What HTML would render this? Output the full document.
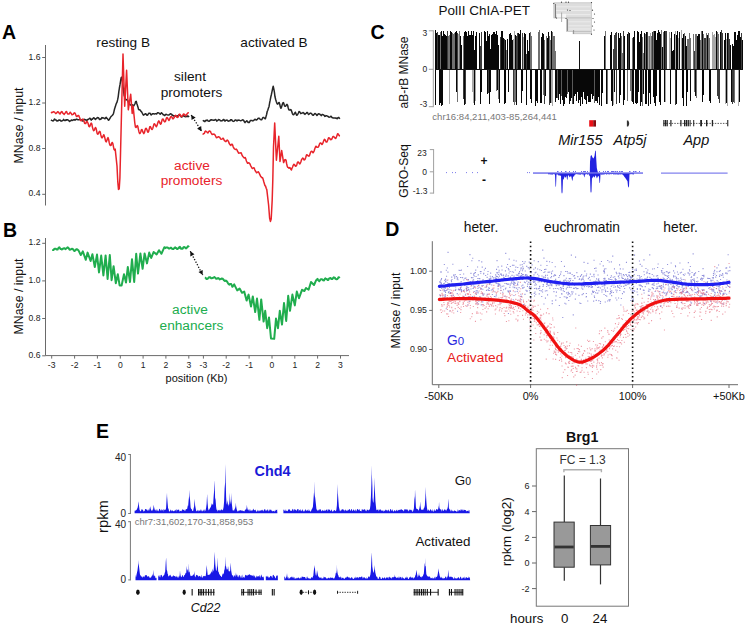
<!DOCTYPE html>
<html><head><meta charset="utf-8"><style>
html,body{margin:0;padding:0;background:#fff;}
svg{display:block;}
text{font-family:"Liberation Sans", sans-serif;}
</style></head><body>
<svg width="750" height="626" viewBox="0 0 750 626">
<rect width="750" height="626" fill="#fff"/>
<text x="2.0" y="39.0" font-size="19.50" fill="#000" text-anchor="start" font-weight="bold" font-style="normal" >A</text>
<line x1="45.5" y1="45.0" x2="45.5" y2="205.5" stroke="#6a6a6a" stroke-width="1.00" />
<line x1="42.2" y1="57.5" x2="45.5" y2="57.5" stroke="#6a6a6a" stroke-width="1.00" />
<text x="40.5" y="59.5" font-size="8.60" fill="#222" text-anchor="end" font-weight="normal" font-style="normal" >1.6</text>
<line x1="42.2" y1="103.0" x2="45.5" y2="103.0" stroke="#6a6a6a" stroke-width="1.00" />
<text x="40.5" y="105.0" font-size="8.60" fill="#222" text-anchor="end" font-weight="normal" font-style="normal" >1.2</text>
<line x1="42.2" y1="148.5" x2="45.5" y2="148.5" stroke="#6a6a6a" stroke-width="1.00" />
<text x="40.5" y="150.5" font-size="8.60" fill="#222" text-anchor="end" font-weight="normal" font-style="normal" >0.8</text>
<line x1="42.2" y1="194.3" x2="45.5" y2="194.3" stroke="#6a6a6a" stroke-width="1.00" />
<text x="40.5" y="196.3" font-size="8.60" fill="#222" text-anchor="end" font-weight="normal" font-style="normal" >0.4</text>
<text x="0" y="0" font-size="12.30" fill="#111" text-anchor="middle" font-weight="normal" transform="translate(23.0,125.5) rotate(-90)">MNase / input</text>
<text x="123.2" y="47.2" font-size="13.60" fill="#111" text-anchor="middle" font-weight="normal" font-style="normal" >resting B</text>
<text x="274.0" y="47.2" font-size="13.60" fill="#111" text-anchor="middle" font-weight="normal" font-style="normal" >activated B</text>
<text x="190.0" y="81.4" font-size="13.70" fill="#111" text-anchor="middle" font-weight="normal" font-style="normal" >silent</text>
<text x="191.5" y="97.4" font-size="13.70" fill="#111" text-anchor="middle" font-weight="normal" font-style="normal" >promoters</text>
<text x="192.0" y="169.6" font-size="13.70" fill="#e8242b" text-anchor="middle" font-weight="normal" font-style="normal" >active</text>
<text x="191.5" y="185.2" font-size="13.70" fill="#e8242b" text-anchor="middle" font-weight="normal" font-style="normal" >promoters</text>
<path d="M51.0,119.8 L51.6,120.3 L52.2,120.6 L52.8,120.9 L53.4,120.8 L54.0,119.8 L54.6,119.0 L55.2,119.9 L55.8,119.9 L56.4,120.1 L57.0,121.1 L57.6,120.8 L58.2,120.7 L58.8,120.1 L59.4,120.2 L60.0,119.9 L60.6,120.6 L61.2,121.2 L61.8,120.9 L62.4,120.7 L63.0,120.3 L63.6,119.4 L64.2,120.1 L64.8,120.6 L65.4,120.5 L66.0,119.8 L66.6,120.2 L67.2,119.7 L67.8,119.8 L68.4,120.4 L69.0,120.8 L69.6,121.4 L70.2,120.9 L70.8,120.7 L71.4,119.9 L72.0,120.1 L72.6,120.5 L73.2,120.0 L73.8,119.8 L74.4,119.6 L75.0,120.1 L75.6,119.5 L76.2,119.4 L76.8,119.1 L77.4,119.6 L78.0,119.8 L78.6,119.8 L79.2,119.7 L79.8,119.4 L80.4,119.6 L81.0,119.6 L81.6,120.2 L82.2,120.7 L82.8,121.1 L83.4,120.6 L84.0,119.3 L84.6,119.4 L85.2,119.7 L85.8,120.1 L86.4,120.2 L87.0,120.4 L87.6,119.5 L88.2,119.5 L88.8,119.0 L89.4,118.5 L90.0,118.2 L90.6,119.3 L91.2,120.1 L91.8,119.1 L92.4,119.2 L93.0,118.5 L93.6,117.8 L94.2,117.9 L94.8,118.8 L95.4,119.5 L96.0,118.7 L96.6,118.6 L97.2,117.5 L97.8,117.8 L98.4,117.7 L99.0,118.7 L99.6,119.5 L100.2,119.2 L100.8,119.4 L101.4,118.4 L102.0,117.5 L102.6,117.9 L103.2,117.8 L103.8,118.1 L104.4,118.5 L105.0,118.7 L105.6,117.9 L106.2,117.3 L106.8,118.3 L107.4,118.5 L108.0,119.6 L108.6,120.2 L109.2,119.6 L109.8,118.7 L110.4,117.4 L111.0,116.6 L111.6,116.0 L112.2,115.5 L112.8,114.8 L113.4,113.9 L114.0,111.3 L114.6,108.8 L115.2,107.1 L115.8,105.0 L116.4,103.3 L117.0,102.2 L117.6,99.9 L118.2,96.8 L118.8,91.9 L119.4,88.0 L120.0,84.7 L120.6,80.8 L121.2,77.7 L121.8,77.2 L122.4,81.3 L123.0,86.4 L123.6,91.4 L124.2,95.6 L124.8,96.8 L125.4,98.5 L126.0,99.9 L126.6,99.8 L127.2,99.7 L127.8,100.7 L128.4,102.2 L129.0,102.9 L129.6,103.9 L130.2,104.9 L130.8,105.1 L131.4,104.8 L132.0,104.7 L132.6,104.9 L133.2,105.8 L133.8,105.8 L134.4,104.7 L135.0,103.8 L135.6,101.6 L136.2,101.3 L136.8,103.5 L137.4,105.3 L138.0,107.2 L138.6,109.5 L139.2,109.7 L139.8,109.8 L140.4,110.3 L141.0,111.4 L141.6,111.9 L142.2,113.0 L142.8,114.1 L143.4,115.1 L144.0,114.6 L144.6,114.6 L145.2,113.8 L145.8,113.8 L146.4,114.5 L147.0,115.3 L147.6,115.0 L148.2,114.1 L148.8,113.3 L149.4,113.3 L150.0,113.2 L150.6,114.2 L151.2,114.9 L151.8,114.3 L152.4,113.8 L153.0,113.8 L153.6,113.7 L154.2,114.0 L154.8,113.9 L155.4,113.7 L156.0,113.7 L156.6,114.0 L157.2,113.2 L157.8,112.7 L158.4,112.8 L159.0,113.1 L159.6,113.5 L160.2,114.3 L160.8,113.6 L161.4,112.7 L162.0,113.3 L162.6,113.9 L163.2,114.7 L163.8,114.7 L164.4,115.4 L165.0,115.5 L165.6,114.4 L166.2,114.3 L166.8,114.6 L167.4,114.9 L168.0,115.1 L168.6,115.1 L169.2,114.9 L169.8,114.3 L170.4,113.7 L171.0,114.1 L171.6,114.2 L172.2,115.3 L172.8,115.1 L173.4,115.9 L174.0,115.8 L174.6,115.9 L175.2,116.0 L175.8,116.3 L176.4,116.4 L177.0,115.9 L177.6,116.4 L178.2,115.6 L178.8,115.1 L179.4,115.3 L180.0,115.5 L180.6,115.8 L181.2,116.9 L181.8,117.0 L182.4,116.4 L183.0,115.7 L183.6,116.0 L184.2,115.9 L184.8,116.6 L185.4,116.7 L186.0,116.5 L186.6,116.6 L187.2,116.7 L187.8,115.8 L188.4,116.3 L189.0,117.1" fill="none" stroke="#262626" stroke-width="1.5" stroke-linejoin="round"/>
<path d="M51.0,112.2 L51.6,112.7 L52.2,112.5 L52.8,112.1 L53.4,111.7 L54.0,112.1 L54.6,112.1 L55.2,112.9 L55.8,113.6 L56.4,113.2 L57.0,112.7 L57.6,111.7 L58.2,111.9 L58.8,112.5 L59.4,113.6 L60.0,114.0 L60.6,113.0 L61.2,112.0 L61.8,111.5 L62.4,112.3 L63.0,113.4 L63.6,113.8 L64.2,114.4 L64.8,113.4 L65.4,112.7 L66.0,111.7 L66.6,111.6 L67.2,113.2 L67.8,113.9 L68.4,114.0 L69.0,114.0 L69.6,113.2 L70.2,112.2 L70.8,112.9 L71.4,113.7 L72.0,114.8 L72.6,114.6 L73.2,114.4 L73.8,113.3 L74.4,112.8 L75.0,113.2 L75.6,114.4 L76.2,116.0 L76.8,116.6 L77.4,116.2 L78.0,115.4 L78.6,115.4 L79.2,116.7 L79.8,118.1 L80.4,120.2 L81.0,120.8 L81.6,120.3 L82.2,119.7 L82.8,119.1 L83.4,119.5 L84.0,121.3 L84.6,123.3 L85.2,123.6 L85.8,123.6 L86.4,121.7 L87.0,121.3 L87.6,122.3 L88.2,123.7 L88.8,126.1 L89.4,126.7 L90.0,126.0 L90.6,124.1 L91.2,123.1 L91.8,124.0 L92.4,127.1 L93.0,129.3 L93.6,130.7 L94.2,130.3 L94.8,128.8 L95.4,127.5 L96.0,128.3 L96.6,130.8 L97.2,133.7 L97.8,134.2 L98.4,133.7 L99.0,132.1 L99.6,131.4 L100.2,131.8 L100.8,134.9 L101.4,137.0 L102.0,137.9 L102.6,137.3 L103.2,135.9 L103.8,134.7 L104.4,136.1 L105.0,138.6 L105.6,141.0 L106.2,141.9 L106.8,140.7 L107.4,138.6 L108.0,137.6 L108.6,139.2 L109.2,142.5 L109.8,144.8 L110.4,145.6 L111.0,145.4 L111.6,143.5 L112.2,142.5 L112.8,143.4 L113.4,146.3 L114.0,149.3 L114.6,150.2 L115.2,149.1 L117.0,166.0 L117.8,182.0 L118.5,189.5 L119.2,189.0 L119.9,178.0 L120.6,150.0 L122.0,93.0 L123.0,54.1 L124.7,106.2 L126.6,70.2 L128.3,109.8 L130.7,94.2 L132.2,113.4 L133.1,106.2 L134.8,123.0 L135.4,126.9 L136.0,127.5 L136.6,126.5 L137.2,125.6 L137.8,126.3 L138.4,129.3 L139.0,131.9 L139.6,133.6 L140.2,133.1 L140.8,131.7 L141.4,129.7 L142.0,129.6 L142.6,131.1 L143.2,132.7 L143.8,133.6 L144.4,132.7 L145.0,130.2 L145.6,128.4 L146.2,128.3 L146.8,129.3 L147.4,131.4 L148.0,132.3 L148.6,131.5 L149.2,129.1 L149.8,126.8 L150.4,126.6 L151.0,127.9 L151.6,129.3 L152.2,129.5 L152.8,128.2 L153.4,126.1 L154.0,123.9 L154.6,123.8 L155.2,124.8 L155.8,126.0 L156.4,126.7 L157.0,125.4 L157.6,123.5 L158.2,121.7 L158.8,120.9 L159.4,121.9 L160.0,123.4 L160.6,124.2 L161.2,123.5 L161.8,120.9 L162.4,119.1 L163.0,118.9 L163.6,119.9 L164.2,121.5 L164.8,121.9 L165.4,121.5 L166.0,119.6 L166.6,117.7 L167.2,117.6 L167.8,118.5 L168.4,119.7 L169.0,120.4 L169.6,119.4 L170.2,117.7 L170.8,116.7 L171.4,116.6 L172.0,117.1 L172.6,118.7 L173.2,118.8 L173.8,118.1 L174.4,117.1 L175.0,115.8 L175.6,115.3 L176.2,116.1 L176.8,117.1 L177.4,117.4 L178.0,117.3 L178.6,115.4 L179.2,114.3 L179.8,114.3 L180.4,115.0 L181.0,116.4 L181.6,116.5 L182.2,116.3 L182.8,115.2 L183.4,114.1 L184.0,114.1 L184.6,114.4 L185.2,115.4 L185.8,115.8 L186.4,115.1 L187.0,114.0 L187.6,113.2 L188.2,112.8 L188.8,113.0" fill="none" stroke="#e8242b" stroke-width="1.5" stroke-linejoin="round"/>
<path d="M203.0,120.1 L203.6,121.0 L204.2,120.9 L204.8,121.6 L205.4,120.9 L206.0,120.3 L206.6,120.6 L207.2,120.0 L207.8,120.6 L208.4,121.1 L209.0,121.3 L209.6,121.0 L210.2,120.1 L210.8,120.2 L211.4,119.7 L212.0,120.0 L212.6,120.1 L213.2,120.3 L213.8,120.1 L214.4,120.2 L215.0,119.8 L215.6,119.5 L216.2,120.0 L216.8,121.2 L217.4,120.4 L218.0,120.2 L218.6,119.6 L219.2,119.7 L219.8,119.9 L220.4,120.7 L221.0,120.9 L221.6,120.8 L222.2,120.7 L222.8,120.1 L223.4,119.6 L224.0,119.6 L224.6,120.9 L225.2,120.9 L225.8,120.2 L226.4,120.3 L227.0,120.0 L227.6,120.4 L228.2,121.2 L228.8,121.1 L229.4,120.8 L230.0,120.8 L230.6,119.7 L231.2,120.0 L231.8,119.8 L232.4,120.8 L233.0,121.2 L233.6,121.4 L234.2,121.1 L234.8,120.4 L235.4,119.9 L236.0,120.0 L236.6,120.7 L237.2,120.9 L237.8,120.1 L238.4,120.3 L239.0,120.0 L239.6,120.4 L240.2,120.6 L240.8,120.8 L241.4,120.4 L242.0,120.2 L242.6,119.8 L243.2,120.0 L243.8,120.6 L244.4,121.8 L245.0,122.6 L245.6,121.8 L246.2,121.3 L246.8,120.7 L247.4,121.3 L248.0,122.5 L248.6,122.3 L249.2,122.6 L249.8,121.7 L250.4,120.4 L251.0,120.6 L251.6,120.5 L252.2,120.6 L252.8,121.0 L253.4,120.6 L254.0,120.1 L254.6,119.5 L255.2,119.3 L255.8,119.8 L256.4,120.0 L257.0,119.7 L257.6,119.1 L258.2,118.3 L258.8,118.2 L259.4,118.3 L260.0,119.2 L260.6,119.6 L261.2,119.8 L261.8,119.8 L262.4,118.3 L263.0,117.4 L263.6,117.4 L264.2,118.0 L264.8,118.6 L265.4,118.8 L266.0,116.6 L266.6,114.5 L267.2,111.5 L267.8,110.2 L268.4,108.1 L269.0,106.7 L269.6,103.0 L270.2,100.2 L270.8,97.0 L271.4,94.5 L272.0,91.7 L272.6,88.6 L273.2,86.2 L273.8,88.8 L274.4,92.2 L275.0,96.8 L275.6,99.2 L276.2,101.3 L276.8,103.1 L277.4,104.1 L278.0,103.8 L278.6,102.7 L279.2,102.5 L279.8,104.5 L280.4,107.1 L281.0,108.3 L281.6,106.9 L282.2,104.7 L282.8,102.9 L283.4,102.6 L284.0,104.1 L284.6,106.1 L285.2,106.3 L285.8,106.0 L286.4,104.8 L287.0,104.4 L287.6,105.2 L288.2,107.7 L288.8,109.8 L289.4,110.0 L290.0,110.1 L290.6,109.6 L291.2,109.9 L291.8,111.8 L292.4,113.6 L293.0,114.6 L293.6,114.7 L294.2,114.0 L294.8,113.0 L295.4,112.2 L296.0,113.7 L296.6,115.2 L297.2,115.1 L297.8,114.1 L298.4,113.0 L299.0,111.6 L299.6,111.7 L300.2,112.6 L300.8,113.6 L301.4,113.2 L302.0,113.2 L302.6,112.8 L303.2,112.5 L303.8,113.0 L304.4,114.0 L305.0,114.4 L305.6,113.6 L306.2,113.3 L306.8,112.4 L307.4,112.4 L308.0,113.6 L308.6,114.5 L309.2,114.1 L309.8,113.4 L310.4,113.1 L311.0,113.3 L311.6,113.7 L312.2,114.7 L312.8,115.2 L313.4,115.3 L314.0,114.6 L314.6,113.7 L315.2,113.5 L315.8,114.0 L316.4,114.7 L317.0,115.5 L317.6,114.8 L318.2,113.8 L318.8,114.0 L319.4,113.9 L320.0,114.5 L320.6,114.8 L321.2,115.6 L321.8,115.0 L322.4,114.4 L323.0,114.7 L323.6,115.0 L324.2,115.4 L324.8,116.4 L325.4,116.2 L326.0,115.6 L326.6,115.8 L327.2,116.0 L327.8,116.5 L328.4,116.6 L329.0,117.3 L329.6,117.1 L330.2,116.9 L330.8,116.2 L331.4,116.7 L332.0,117.5 L332.6,117.7 L333.2,118.0 L333.8,117.9 L334.4,117.9 L335.0,117.9 L335.6,118.2 L336.2,118.0 L336.8,118.6 L337.4,118.7 L338.0,117.7 L338.6,117.4 L339.2,118.0 L339.8,118.9" fill="none" stroke="#262626" stroke-width="1.5" stroke-linejoin="round"/>
<path d="M202.6,133.7 L203.2,134.1 L203.8,133.6 L204.4,133.3 L205.0,131.5 L205.6,131.0 L206.2,131.6 L206.8,131.8 L207.4,132.7 L208.0,133.0 L208.6,131.7 L209.2,131.1 L209.8,131.1 L210.4,131.4 L211.0,132.8 L211.6,133.7 L212.2,134.5 L212.8,134.3 L213.4,134.1 L214.0,134.2 L214.6,134.3 L215.2,135.4 L215.8,136.5 L216.4,137.8 L217.0,137.6 L217.6,137.1 L218.2,136.8 L218.8,136.8 L219.4,137.1 L220.0,137.8 L220.6,138.9 L221.2,139.3 L221.8,139.1 L222.4,138.9 L223.0,138.1 L223.6,138.9 L224.2,140.3 L224.8,140.8 L225.4,141.5 L226.0,141.6 L226.6,140.5 L227.2,140.0 L227.8,140.6 L228.4,141.2 L229.0,143.0 L229.6,144.0 L230.2,144.9 L230.8,145.4 L231.4,144.5 L232.0,144.1 L232.6,144.9 L233.2,146.8 L233.8,148.0 L234.4,148.8 L235.0,149.2 L235.6,149.5 L236.2,149.1 L236.8,149.5 L237.4,151.0 L238.0,151.9 L238.6,153.2 L239.2,153.1 L239.8,153.0 L240.4,153.1 L241.0,152.7 L241.6,153.9 L242.2,155.5 L242.8,156.4 L243.4,157.1 L244.0,157.8 L244.6,158.1 L245.2,157.6 L245.8,158.9 L246.4,161.0 L247.0,162.2 L247.6,163.3 L248.2,163.0 L248.8,162.8 L249.4,163.2 L250.0,164.0 L250.6,165.6 L251.2,166.6 L251.8,167.7 L252.4,168.5 L253.0,168.2 L253.6,167.8 L254.2,168.0 L254.8,169.7 L255.4,171.1 L256.0,171.8 L256.6,172.8 L257.2,172.4 L257.8,172.0 L258.4,171.8 L259.0,172.8 L259.6,174.2 L260.2,175.4 L260.8,176.7 L261.4,177.0 L262.0,177.8 L262.6,177.7 L263.2,179.5 L263.8,181.8 L264.4,183.8 L265.0,185.7 L265.6,186.2 L266.2,188.2 L266.8,189.6 L268.6,205.0 L269.6,218.0 L270.4,221.4 L271.2,219.0 L272.2,200.0 L272.8,180.0 L273.5,147.0 L274.7,123.0 L276.4,160.2 L278.8,136.2 L280.0,161.4 L281.7,150.6 L283.6,162.6 L284.2,161.2 L284.8,159.8 L285.4,159.6 L286.0,160.0 L286.6,163.5 L287.2,166.2 L287.8,167.4 L288.4,167.6 L289.0,168.2 L289.6,167.6 L290.2,167.9 L290.8,169.3 L291.4,169.9 L292.0,168.3 L292.6,167.0 L293.2,165.3 L293.8,164.3 L294.4,164.4 L295.0,165.6 L295.6,166.2 L296.2,166.0 L296.8,164.8 L297.4,162.6 L298.0,161.9 L298.6,162.3 L299.2,163.4 L299.8,163.9 L300.4,163.1 L301.0,161.5 L301.6,159.6 L302.2,158.8 L302.8,158.1 L303.4,158.6 L304.0,159.9 L304.6,159.8 L305.2,159.0 L305.8,157.3 L306.4,155.2 L307.0,154.7 L307.6,155.4 L308.2,155.8 L308.8,156.2 L309.4,155.8 L310.0,154.0 L310.6,152.3 L311.2,151.5 L311.8,151.3 L312.4,151.9 L313.0,152.8 L313.6,152.0 L314.2,150.8 L314.8,148.7 L315.4,147.2 L316.0,146.2 L316.6,147.0 L317.2,147.3 L317.8,147.3 L318.4,146.9 L319.0,145.7 L319.6,143.8 L320.2,142.9 L320.8,142.9 L321.4,143.7 L322.0,144.5 L322.6,143.8 L323.2,142.2 L323.8,140.6 L324.4,139.3 L325.0,139.6 L325.6,141.0 L326.2,142.1 L326.8,142.1 L327.4,140.9 L328.0,139.3 L328.6,137.7 L329.2,137.9 L329.8,138.5 L330.4,139.5 L331.0,139.7 L331.6,139.3 L332.2,138.1 L332.8,136.7 L333.4,136.4 L334.0,136.9 L334.6,137.6 L335.2,138.3 L335.8,138.4 L336.4,137.0 L337.0,135.4 L337.6,133.8 L338.2,134.0 L338.8,135.0 L339.4,135.8 L340.0,135.9" fill="none" stroke="#e8242b" stroke-width="1.5" stroke-linejoin="round"/>
<line x1="191.2" y1="115.0" x2="201.6" y2="131.2" stroke="#111" stroke-width="1.3" stroke-dasharray="1.3,1.6"/>
<path d="M191.2,115.0 L191.6,120.1 L195.7,117.5 Z" fill="#111"/>
<path d="M201.6,131.2 L201.2,126.1 L197.1,128.7 Z" fill="#111"/>
<text x="3.0" y="237.3" font-size="19.50" fill="#000" text-anchor="start" font-weight="bold" font-style="normal" >B</text>
<line x1="45.5" y1="238.0" x2="45.5" y2="355.6" stroke="#6a6a6a" stroke-width="1.00" />
<line x1="45.5" y1="355.6" x2="349.0" y2="355.6" stroke="#6a6a6a" stroke-width="1.00" />
<line x1="42.2" y1="243.3" x2="45.5" y2="243.3" stroke="#6a6a6a" stroke-width="1.00" />
<text x="40.5" y="245.3" font-size="8.60" fill="#222" text-anchor="end" font-weight="normal" font-style="normal" >1.2</text>
<line x1="42.2" y1="280.9" x2="45.5" y2="280.9" stroke="#6a6a6a" stroke-width="1.00" />
<text x="40.5" y="282.9" font-size="8.60" fill="#222" text-anchor="end" font-weight="normal" font-style="normal" >1.0</text>
<line x1="42.2" y1="318.5" x2="45.5" y2="318.5" stroke="#6a6a6a" stroke-width="1.00" />
<text x="40.5" y="320.5" font-size="8.60" fill="#222" text-anchor="end" font-weight="normal" font-style="normal" >0.8</text>
<line x1="42.2" y1="355.8" x2="45.5" y2="355.8" stroke="#6a6a6a" stroke-width="1.00" />
<text x="40.5" y="357.8" font-size="8.60" fill="#222" text-anchor="end" font-weight="normal" font-style="normal" >0.6</text>
<text x="0" y="0" font-size="12.30" fill="#111" text-anchor="middle" font-weight="normal" transform="translate(23.0,296.5) rotate(-90)">MNase / input</text>
<line x1="51.7" y1="355.6" x2="51.7" y2="358.6" stroke="#6a6a6a" stroke-width="1.00" />
<text x="51.7" y="368.2" font-size="8.60" fill="#222" text-anchor="middle" font-weight="normal" font-style="normal" >-3</text>
<line x1="74.6" y1="355.6" x2="74.6" y2="358.6" stroke="#6a6a6a" stroke-width="1.00" />
<text x="74.6" y="368.2" font-size="8.60" fill="#222" text-anchor="middle" font-weight="normal" font-style="normal" >-2</text>
<line x1="97.4" y1="355.6" x2="97.4" y2="358.6" stroke="#6a6a6a" stroke-width="1.00" />
<text x="97.4" y="368.2" font-size="8.60" fill="#222" text-anchor="middle" font-weight="normal" font-style="normal" >-1</text>
<line x1="120.3" y1="355.6" x2="120.3" y2="358.6" stroke="#6a6a6a" stroke-width="1.00" />
<text x="120.3" y="368.2" font-size="8.60" fill="#222" text-anchor="middle" font-weight="normal" font-style="normal" >0</text>
<line x1="143.1" y1="355.6" x2="143.1" y2="358.6" stroke="#6a6a6a" stroke-width="1.00" />
<text x="143.1" y="368.2" font-size="8.60" fill="#222" text-anchor="middle" font-weight="normal" font-style="normal" >1</text>
<line x1="165.9" y1="355.6" x2="165.9" y2="358.6" stroke="#6a6a6a" stroke-width="1.00" />
<text x="165.9" y="368.2" font-size="8.60" fill="#222" text-anchor="middle" font-weight="normal" font-style="normal" >2</text>
<line x1="188.8" y1="355.6" x2="188.8" y2="358.6" stroke="#6a6a6a" stroke-width="1.00" />
<text x="188.8" y="368.2" font-size="8.60" fill="#222" text-anchor="middle" font-weight="normal" font-style="normal" >3</text>
<line x1="203.4" y1="355.6" x2="203.4" y2="358.6" stroke="#6a6a6a" stroke-width="1.00" />
<text x="203.4" y="368.2" font-size="8.60" fill="#222" text-anchor="middle" font-weight="normal" font-style="normal" >-3</text>
<line x1="226.2" y1="355.6" x2="226.2" y2="358.6" stroke="#6a6a6a" stroke-width="1.00" />
<text x="226.2" y="368.2" font-size="8.60" fill="#222" text-anchor="middle" font-weight="normal" font-style="normal" >-2</text>
<line x1="249.1" y1="355.6" x2="249.1" y2="358.6" stroke="#6a6a6a" stroke-width="1.00" />
<text x="249.1" y="368.2" font-size="8.60" fill="#222" text-anchor="middle" font-weight="normal" font-style="normal" >-1</text>
<line x1="272.0" y1="355.6" x2="272.0" y2="358.6" stroke="#6a6a6a" stroke-width="1.00" />
<text x="272.0" y="368.2" font-size="8.60" fill="#222" text-anchor="middle" font-weight="normal" font-style="normal" >0</text>
<line x1="294.8" y1="355.6" x2="294.8" y2="358.6" stroke="#6a6a6a" stroke-width="1.00" />
<text x="294.8" y="368.2" font-size="8.60" fill="#222" text-anchor="middle" font-weight="normal" font-style="normal" >1</text>
<line x1="317.6" y1="355.6" x2="317.6" y2="358.6" stroke="#6a6a6a" stroke-width="1.00" />
<text x="317.6" y="368.2" font-size="8.60" fill="#222" text-anchor="middle" font-weight="normal" font-style="normal" >2</text>
<line x1="340.5" y1="355.6" x2="340.5" y2="358.6" stroke="#6a6a6a" stroke-width="1.00" />
<text x="340.5" y="368.2" font-size="8.60" fill="#222" text-anchor="middle" font-weight="normal" font-style="normal" >3</text>
<text x="196.5" y="382.0" font-size="11.00" fill="#111" text-anchor="middle" font-weight="normal" font-style="normal" >position (Kb)</text>
<text x="190.0" y="313.6" font-size="13.70" fill="#20ad4e" text-anchor="middle" font-weight="normal" font-style="normal" >active</text>
<text x="191.5" y="330.0" font-size="13.70" fill="#20ad4e" text-anchor="middle" font-weight="normal" font-style="normal" >enhancers</text>
<path d="M52.2,250.0 L52.8,250.1 L53.4,250.1 L54.0,249.3 L54.6,248.7 L55.2,248.7 L55.8,248.7 L56.4,249.3 L57.0,249.6 L57.6,249.6 L58.2,248.4 L58.8,247.7 L59.4,247.3 L60.0,248.2 L60.6,249.1 L61.2,248.9 L61.8,249.4 L62.4,249.2 L63.0,248.6 L63.6,248.5 L64.2,248.3 L64.8,248.5 L65.4,249.1 L66.0,248.7 L66.6,248.2 L67.2,247.7 L67.8,247.3 L68.4,248.0 L69.0,248.7 L69.6,249.7 L70.2,249.7 L70.8,249.4 L71.4,248.9 L72.0,248.8 L72.6,249.0 L73.2,249.3 L73.8,250.5 L74.4,251.0 L75.0,250.7 L75.6,250.1 L76.2,249.3 L76.8,249.2 L77.4,249.6 L78.6,250.6 L80.8,255.0 L82.8,251.4 L85.8,259.8 L87.6,252.6 L90.6,261.0 L92.4,254.2 L94.8,267.0 L97.0,254.6 L99.0,272.4 L101.2,255.6 L103.4,275.4 L105.6,255.4 L107.6,279.0 L109.8,255.0 L111.6,280.2 L113.6,266.2 L115.8,283.2 L117.8,274.2 L119.6,285.4 L121.6,285.6 L124.0,274.2 L126.0,282.6 L127.8,267.0 L130.0,282.0 L132.0,259.2 L134.2,282.0 L136.2,253.8 L138.0,273.6 L140.4,253.4 L142.6,268.8 L144.6,253.4 L147.0,263.4 L149.2,252.6 L151.2,258.0 L153.6,252.0 L156.6,254.4 L159.0,250.2 L161.4,253.8 L164.4,247.2 L165.5,248.1 L166.1,247.6 L166.7,247.6 L167.3,247.5 L167.9,247.7 L168.5,248.4 L169.1,248.4 L169.7,248.4 L170.3,248.0 L170.9,247.7 L171.5,248.0 L172.1,248.8 L172.7,248.9 L173.3,249.0 L173.9,248.3 L174.5,248.2 L175.1,247.3 L175.7,247.9 L176.3,248.0 L176.9,249.0 L177.5,248.9 L178.1,248.5 L178.7,248.2 L179.3,247.1 L179.9,246.8 L180.5,248.1 L181.1,248.7 L181.7,248.5 L182.3,248.8 L182.9,248.4 L183.5,247.2 L184.1,247.1 L184.7,247.2 L185.3,247.8 L185.9,248.4 L186.5,247.9 L187.1,247.6 L187.7,246.5 L188.3,246.2 L188.9,247.2" fill="none" stroke="#20ad4e" stroke-width="2" stroke-linejoin="round"/>
<path d="M204.8,277.7 L205.4,277.8 L206.0,278.3 L206.6,279.1 L207.2,279.0 L207.8,278.6 L208.4,277.9 L209.0,277.2 L209.6,277.4 L210.2,277.2 L210.8,278.0 L211.4,278.3 L212.0,278.2 L212.6,277.9 L213.2,277.8 L213.8,277.5 L214.4,277.1 L215.0,277.6 L215.6,278.0 L216.2,278.8 L216.8,278.8 L217.4,278.4 L218.0,278.1 L218.6,278.2 L219.2,278.9 L219.8,279.4 L220.4,279.1 L221.0,279.1 L221.6,278.5 L222.2,278.6 L222.8,278.8 L223.4,279.5 L224.0,280.3 L224.6,280.9 L225.2,280.9 L225.8,280.5 L226.4,280.9 L227.0,281.5 L227.6,282.6 L228.2,283.6 L228.8,284.2 L229.4,284.6 L230.0,283.9 L230.6,284.0 L231.2,284.1 L232.4,286.8 L234.2,284.4 L237.2,290.4 L239.6,288.6 L242.0,292.8 L244.2,291.6 L246.6,300.6 L248.6,294.6 L251.0,306.6 L252.8,296.4 L255.2,312.0 L257.0,298.6 L259.4,319.8 L261.2,299.4 L263.6,321.6 L265.2,310.8 L267.2,328.2 L269.0,317.4 L271.0,338.5 L274.2,338.8 L276.0,318.6 L278.0,328.2 L279.8,310.8 L282.0,324.6 L284.0,303.0 L286.2,321.0 L288.2,295.8 L290.0,310.8 L292.4,294.6 L294.8,305.4 L296.8,291.6 L299.0,298.2 L302.0,289.8 L304.4,291.0 L306.0,288.0 L308.6,289.8 L311.0,282.0 L314.0,285.0 L316.2,280.2 L317.5,278.9 L318.1,279.8 L318.7,280.6 L319.3,281.2 L319.9,280.4 L320.5,279.4 L321.1,279.2 L321.7,279.2 L322.3,279.4 L322.9,280.2 L323.5,280.4 L324.1,280.4 L324.7,279.2 L325.3,278.4 L325.9,278.8 L326.5,278.9 L327.1,279.3 L327.7,280.1 L328.3,280.0 L328.9,278.8 L329.5,278.3 L330.1,278.2 L330.7,278.0 L331.3,278.9 L331.9,279.0 L332.5,278.9 L333.1,278.0 L333.7,277.3 L334.3,277.7 L334.9,277.8 L335.5,278.9 L336.1,279.2 L336.7,279.2 L337.3,279.0 L337.9,278.3 L338.5,277.2 L339.1,277.5 L339.7,278.2" fill="none" stroke="#20ad4e" stroke-width="2" stroke-linejoin="round"/>
<line x1="190.3" y1="251.3" x2="202.7" y2="275.0" stroke="#111" stroke-width="1.3" stroke-dasharray="1.3,1.6"/>
<path d="M190.3,251.3 L190.3,256.4 L194.5,254.2 Z" fill="#111"/>
<path d="M202.7,275.0 L202.7,269.9 L198.5,272.1 Z" fill="#111"/>
<text x="370.5" y="38.5" font-size="19.50" fill="#000" text-anchor="start" font-weight="bold" font-style="normal" >C</text>
<text x="484.2" y="14.8" font-size="13.50" fill="#111" text-anchor="middle" font-weight="normal" font-style="normal" >PolII ChIA-PET</text>
<g stroke="#b8b8b8" stroke-width="0.6" fill="#dddddd">
<rect x="553.8" y="2.8" width="37.6" height="15.2"/>
<rect x="566.6" y="18" width="24.8" height="13.6"/>
<rect x="573" y="31.6" width="18.4" height="2.2"/>
</g>
<line x1="556.0" y1="6.8" x2="590.5" y2="6.8" stroke="#ececec" stroke-width="1.00" />
<line x1="556.0" y1="10.5" x2="590.5" y2="10.5" stroke="#ececec" stroke-width="1.00" />
<line x1="556.0" y1="14.6" x2="590.5" y2="14.6" stroke="#ececec" stroke-width="1.00" />
<line x1="568.5" y1="21.8" x2="590.5" y2="21.8" stroke="#ececec" stroke-width="1.00" />
<line x1="568.5" y1="25.8" x2="590.5" y2="25.8" stroke="#ececec" stroke-width="1.00" />
<line x1="568.5" y1="29.0" x2="590.5" y2="29.0" stroke="#ececec" stroke-width="1.00" />
<rect x="557" y="13.8" width="9" height="3.6" fill="#f6f6f6"/>
<line x1="555.4" y1="4.0" x2="555.4" y2="18.0" stroke="#666" stroke-width="0.90" />
<line x1="567.4" y1="19.0" x2="567.4" y2="31.0" stroke="#777" stroke-width="0.90" />
<line x1="561.6" y1="12.5" x2="561.6" y2="22.0" stroke="#999" stroke-width="0.80" />
<line x1="573.6" y1="30.0" x2="573.6" y2="34.0" stroke="#888" stroke-width="0.80" />
<circle cx="553.8" cy="3.5" r="0.6" fill="#333"/>
<circle cx="561.5" cy="2.2" r="0.6" fill="#333"/>
<circle cx="566.0" cy="2.2" r="0.6" fill="#333"/>
<circle cx="568.5" cy="2.2" r="0.6" fill="#333"/>
<circle cx="591.5" cy="2.6" r="0.6" fill="#333"/>
<circle cx="592.5" cy="10.2" r="0.6" fill="#333"/>
<circle cx="593.0" cy="18.5" r="0.6" fill="#333"/>
<circle cx="592.5" cy="26.0" r="0.6" fill="#333"/>
<circle cx="591.5" cy="34.2" r="0.6" fill="#333"/>
<circle cx="556.5" cy="18.0" r="0.6" fill="#333"/>
<circle cx="566.0" cy="18.5" r="0.6" fill="#333"/>
<circle cx="594.5" cy="14.0" r="0.6" fill="#333"/>
<circle cx="594.5" cy="22.0" r="0.6" fill="#333"/>
<circle cx="594.0" cy="30.0" r="0.6" fill="#333"/>
<circle cx="567.5" cy="10.0" r="0.6" fill="#333"/>
<circle cx="570.0" cy="10.5" r="0.6" fill="#333"/>
<line x1="433.3" y1="30.3" x2="433.3" y2="107.2" stroke="#a0a0a0" stroke-width="1.00" />
<line x1="428.8" y1="30.8" x2="433.3" y2="30.8" stroke="#a0a0a0" stroke-width="1.00" />
<line x1="428.8" y1="69.3" x2="433.3" y2="69.3" stroke="#a0a0a0" stroke-width="1.00" />
<line x1="428.8" y1="106.7" x2="433.3" y2="106.7" stroke="#a0a0a0" stroke-width="1.00" />
<text x="427.3" y="36.1" font-size="8.50" fill="#222" text-anchor="end" font-weight="normal" font-style="normal" >3</text>
<text x="427.3" y="71.5" font-size="8.50" fill="#222" text-anchor="end" font-weight="normal" font-style="normal" >0</text>
<text x="427.3" y="107.2" font-size="8.50" fill="#222" text-anchor="end" font-weight="normal" font-style="normal" >-3</text>
<text x="0" y="0" font-size="12.00" fill="#111" text-anchor="middle" font-weight="normal" transform="translate(408.4,72.5) rotate(-90)">aB-rB MNase</text>
<g shape-rendering="crispEdges">
<rect x="435" y="30.4" width="1" height="38.9" fill="#080808"/>
<rect x="436" y="33.0" width="1" height="36.3" fill="#080808"/>
<rect x="437" y="31.9" width="1" height="37.4" fill="#3c3c3c"/>
<rect x="438" y="35.3" width="1" height="34.0" fill="#080808"/>
<rect x="439" y="34.7" width="1" height="34.6" fill="#080808"/>
<rect x="440" y="31.5" width="1" height="37.8" fill="#707070"/>
<rect x="441" y="31.1" width="1" height="38.2" fill="#080808"/>
<rect x="442" y="36.4" width="1" height="32.9" fill="#080808"/>
<rect x="443" y="30.9" width="1" height="38.4" fill="#080808"/>
<rect x="444" y="34.4" width="1" height="34.9" fill="#080808"/>
<rect x="445" y="34.9" width="1" height="34.4" fill="#080808"/>
<rect x="446" y="36.2" width="1" height="33.1" fill="#080808"/>
<rect x="447" y="30.5" width="1" height="38.8" fill="#3c3c3c"/>
<rect x="448" y="35.9" width="1" height="33.4" fill="#707070"/>
<rect x="449" y="34.6" width="1" height="34.7" fill="#707070"/>
<rect x="450" y="31.2" width="1" height="38.1" fill="#080808"/>
<rect x="451" y="32.0" width="1" height="37.3" fill="#080808"/>
<rect x="452" y="32.5" width="1" height="36.8" fill="#707070"/>
<rect x="453" y="34.4" width="1" height="34.9" fill="#707070"/>
<rect x="454" y="32.7" width="1" height="36.6" fill="#707070"/>
<rect x="455" y="31.9" width="1" height="37.4" fill="#080808"/>
<rect x="456" y="31.2" width="1" height="38.1" fill="#080808"/>
<rect x="457" y="32.5" width="1" height="36.8" fill="#3c3c3c"/>
<rect x="458" y="33.8" width="1" height="35.5" fill="#a8a8a8"/>
<rect x="459" y="30.7" width="1" height="38.6" fill="#707070"/>
<rect x="460" y="36.2" width="1" height="33.1" fill="#080808"/>
<rect x="461" y="44.5" width="1" height="24.8" fill="#080808"/>
<rect x="463" y="36.3" width="1" height="33.0" fill="#707070"/>
<rect x="464" y="32.2" width="1" height="37.1" fill="#080808"/>
<rect x="465" y="30.5" width="1" height="38.8" fill="#080808"/>
<rect x="466" y="31.8" width="1" height="37.5" fill="#080808"/>
<rect x="467" y="36.3" width="1" height="33.0" fill="#080808"/>
<rect x="468" y="31.0" width="1" height="38.3" fill="#080808"/>
<rect x="469" y="34.8" width="1" height="34.5" fill="#080808"/>
<rect x="470" y="34.7" width="1" height="34.6" fill="#080808"/>
<rect x="471" y="31.2" width="1" height="38.1" fill="#080808"/>
<rect x="472" y="35.3" width="1" height="34.0" fill="#080808"/>
<rect x="473" y="31.2" width="1" height="38.1" fill="#080808"/>
<rect x="474" y="50.2" width="1" height="19.1" fill="#080808"/>
<rect x="475" y="36.2" width="1" height="33.1" fill="#080808"/>
<rect x="476" y="32.3" width="1" height="37.0" fill="#080808"/>
<rect x="479" y="32.8" width="1" height="36.5" fill="#080808"/>
<rect x="480" y="45.5" width="1" height="23.8" fill="#3c3c3c"/>
<rect x="481" y="32.0" width="1" height="37.3" fill="#3c3c3c"/>
<rect x="484" y="30.6" width="1" height="38.7" fill="#080808"/>
<rect x="485" y="32.0" width="1" height="37.3" fill="#080808"/>
<rect x="486" y="41.0" width="1" height="28.3" fill="#080808"/>
<rect x="487" y="30.8" width="1" height="38.5" fill="#080808"/>
<rect x="488" y="36.1" width="1" height="33.2" fill="#080808"/>
<rect x="489" y="33.5" width="1" height="35.8" fill="#080808"/>
<rect x="490" y="48.7" width="1" height="20.6" fill="#080808"/>
<rect x="491" y="35.4" width="1" height="33.9" fill="#080808"/>
<rect x="492" y="33.7" width="1" height="35.6" fill="#080808"/>
<rect x="493" y="31.9" width="1" height="37.4" fill="#080808"/>
<rect x="494" y="32.0" width="1" height="37.3" fill="#080808"/>
<rect x="495" y="34.1" width="1" height="35.2" fill="#080808"/>
<rect x="496" y="31.4" width="1" height="37.9" fill="#080808"/>
<rect x="497" y="34.7" width="1" height="34.6" fill="#080808"/>
<rect x="498" y="44.7" width="1" height="24.6" fill="#080808"/>
<rect x="500" y="37.3" width="1" height="32.0" fill="#3c3c3c"/>
<rect x="501" y="31.1" width="1" height="38.2" fill="#080808"/>
<rect x="502" y="31.4" width="1" height="37.9" fill="#080808"/>
<rect x="503" y="38.0" width="1" height="31.3" fill="#080808"/>
<rect x="504" y="39.0" width="1" height="30.3" fill="#3c3c3c"/>
<rect x="505" y="39.8" width="1" height="29.5" fill="#080808"/>
<rect x="506" y="50.3" width="1" height="19.0" fill="#707070"/>
<rect x="507" y="38.5" width="1" height="30.8" fill="#080808"/>
<rect x="509" y="34.1" width="1" height="35.2" fill="#080808"/>
<rect x="510" y="33.0" width="1" height="36.3" fill="#080808"/>
<rect x="511" y="34.6" width="1" height="34.7" fill="#080808"/>
<rect x="512" y="40.2" width="1" height="29.1" fill="#080808"/>
<rect x="513" y="39.1" width="1" height="30.2" fill="#a8a8a8"/>
<rect x="514" y="30.9" width="1" height="38.4" fill="#a8a8a8"/>
<rect x="515" y="34.6" width="1" height="34.7" fill="#080808"/>
<rect x="516" y="35.9" width="1" height="33.4" fill="#3c3c3c"/>
<rect x="517" y="33.1" width="1" height="36.2" fill="#3c3c3c"/>
<rect x="518" y="32.5" width="1" height="36.8" fill="#080808"/>
<rect x="519" y="34.2" width="1" height="35.1" fill="#080808"/>
<rect x="520" y="30.3" width="1" height="39.0" fill="#080808"/>
<rect x="522" y="33.4" width="1" height="35.9" fill="#3c3c3c"/>
<rect x="523" y="37.3" width="1" height="32.0" fill="#a8a8a8"/>
<rect x="524" y="33.0" width="1" height="36.3" fill="#080808"/>
<rect x="525" y="33.9" width="1" height="35.4" fill="#080808"/>
<rect x="526" y="53.8" width="1" height="15.5" fill="#3c3c3c"/>
<rect x="527" y="40.3" width="1" height="29.0" fill="#080808"/>
<rect x="528" y="50.5" width="1" height="18.8" fill="#080808"/>
<rect x="529" y="33.1" width="1" height="36.2" fill="#080808"/>
<rect x="530" y="31.7" width="1" height="37.6" fill="#707070"/>
<rect x="531" y="36.3" width="1" height="33.0" fill="#707070"/>
<rect x="538" y="31.7" width="1" height="37.6" fill="#707070"/>
<rect x="539" y="30.4" width="1" height="38.9" fill="#707070"/>
<rect x="541" y="37.4" width="1" height="31.9" fill="#080808"/>
<rect x="542" y="33.2" width="1" height="36.1" fill="#080808"/>
<rect x="543" y="34.3" width="1" height="35.0" fill="#080808"/>
<rect x="544" y="39.8" width="1" height="29.5" fill="#707070"/>
<rect x="546" y="35.5" width="1" height="33.8" fill="#707070"/>
<rect x="547" y="38.2" width="1" height="31.1" fill="#080808"/>
<rect x="548" y="32.2" width="1" height="37.1" fill="#080808"/>
<rect x="549" y="36.3" width="1" height="33.0" fill="#707070"/>
<rect x="550" y="39.8" width="1" height="29.5" fill="#707070"/>
<rect x="551" y="31.4" width="1" height="37.9" fill="#080808"/>
<rect x="552" y="32.1" width="1" height="37.2" fill="#707070"/>
<rect x="553" y="36.4" width="1" height="32.9" fill="#707070"/>
<rect x="554" y="36.0" width="1" height="33.3" fill="#707070"/>
<rect x="555" y="51.2" width="1" height="18.1" fill="#707070"/>
<rect x="604" y="35.6" width="1" height="33.7" fill="#080808"/>
<rect x="605" y="30.5" width="1" height="38.8" fill="#707070"/>
<rect x="610" y="35.1" width="1" height="34.2" fill="#080808"/>
<rect x="611" y="31.7" width="1" height="37.6" fill="#080808"/>
<rect x="613" y="49.1" width="1" height="20.2" fill="#3c3c3c"/>
<rect x="614" y="35.4" width="1" height="33.9" fill="#3c3c3c"/>
<rect x="615" y="33.1" width="1" height="36.2" fill="#3c3c3c"/>
<rect x="616" y="32.1" width="1" height="37.2" fill="#3c3c3c"/>
<rect x="618" y="32.9" width="1" height="36.4" fill="#080808"/>
<rect x="619" y="38.2" width="1" height="31.1" fill="#080808"/>
<rect x="620" y="32.8" width="1" height="36.5" fill="#080808"/>
<rect x="621" y="35.8" width="1" height="33.5" fill="#707070"/>
<rect x="622" y="53.3" width="1" height="16.0" fill="#707070"/>
<rect x="623" y="31.4" width="1" height="37.9" fill="#3c3c3c"/>
<rect x="624" y="36.0" width="1" height="33.3" fill="#080808"/>
<rect x="627" y="34.4" width="1" height="34.9" fill="#080808"/>
<rect x="628" y="31.5" width="1" height="37.8" fill="#3c3c3c"/>
<rect x="629" y="33.2" width="1" height="36.1" fill="#080808"/>
<rect x="632" y="37.9" width="1" height="31.4" fill="#707070"/>
<rect x="633" y="36.6" width="1" height="32.7" fill="#080808"/>
<rect x="634" y="31.3" width="1" height="38.0" fill="#080808"/>
<rect x="637" y="31.0" width="1" height="38.3" fill="#080808"/>
<rect x="638" y="31.8" width="1" height="37.5" fill="#080808"/>
<rect x="639" y="42.1" width="1" height="27.2" fill="#080808"/>
<rect x="640" y="33.5" width="1" height="35.8" fill="#080808"/>
<rect x="641" y="30.9" width="1" height="38.4" fill="#080808"/>
<rect x="642" y="37.1" width="1" height="32.2" fill="#707070"/>
<rect x="643" y="53.4" width="1" height="15.9" fill="#707070"/>
<rect x="644" y="33.1" width="1" height="36.2" fill="#080808"/>
<rect x="645" y="33.5" width="1" height="35.8" fill="#707070"/>
<rect x="646" y="32.1" width="1" height="37.2" fill="#080808"/>
<rect x="647" y="31.9" width="1" height="37.4" fill="#3c3c3c"/>
<rect x="648" y="35.6" width="1" height="33.7" fill="#a8a8a8"/>
<rect x="649" y="35.9" width="1" height="33.4" fill="#707070"/>
<rect x="650" y="33.1" width="1" height="36.2" fill="#a8a8a8"/>
<rect x="651" y="35.5" width="1" height="33.8" fill="#707070"/>
<rect x="652" y="32.4" width="1" height="36.9" fill="#3c3c3c"/>
<rect x="653" y="31.2" width="1" height="38.1" fill="#707070"/>
<rect x="654" y="31.0" width="1" height="38.3" fill="#080808"/>
<rect x="655" y="31.2" width="1" height="38.1" fill="#080808"/>
<rect x="656" y="39.5" width="1" height="29.8" fill="#080808"/>
<rect x="657" y="32.5" width="1" height="36.8" fill="#080808"/>
<rect x="658" y="30.4" width="1" height="38.9" fill="#080808"/>
<rect x="659" y="31.7" width="1" height="37.6" fill="#080808"/>
<rect x="660" y="34.2" width="1" height="35.1" fill="#080808"/>
<rect x="661" y="30.4" width="1" height="38.9" fill="#707070"/>
<rect x="662" y="47.3" width="1" height="22.0" fill="#080808"/>
<rect x="663" y="31.8" width="1" height="37.5" fill="#707070"/>
<rect x="664" y="30.9" width="1" height="38.4" fill="#080808"/>
<rect x="665" y="30.6" width="1" height="38.7" fill="#3c3c3c"/>
<rect x="666" y="31.1" width="1" height="38.2" fill="#3c3c3c"/>
<rect x="669" y="32.3" width="1" height="37.0" fill="#a8a8a8"/>
<rect x="670" y="37.8" width="1" height="31.5" fill="#a8a8a8"/>
<rect x="671" y="32.3" width="1" height="37.0" fill="#080808"/>
<rect x="672" y="50.8" width="1" height="18.5" fill="#080808"/>
<rect x="673" y="50.2" width="1" height="19.1" fill="#080808"/>
<rect x="674" y="34.1" width="1" height="35.2" fill="#080808"/>
<rect x="675" y="30.7" width="1" height="38.6" fill="#a8a8a8"/>
<rect x="676" y="35.2" width="1" height="34.1" fill="#080808"/>
<rect x="677" y="30.6" width="1" height="38.7" fill="#080808"/>
<rect x="678" y="38.1" width="1" height="31.2" fill="#a8a8a8"/>
<rect x="679" y="31.7" width="1" height="37.6" fill="#080808"/>
<rect x="681" y="30.3" width="1" height="39.0" fill="#a8a8a8"/>
<rect x="682" y="38.1" width="1" height="31.2" fill="#080808"/>
<rect x="683" y="34.3" width="1" height="35.0" fill="#080808"/>
<rect x="684" y="33.1" width="1" height="36.2" fill="#707070"/>
<rect x="685" y="35.8" width="1" height="33.5" fill="#080808"/>
<rect x="686" y="45.5" width="1" height="23.8" fill="#080808"/>
<rect x="687" y="38.5" width="1" height="30.8" fill="#707070"/>
<rect x="688" y="38.8" width="1" height="30.5" fill="#707070"/>
<rect x="689" y="32.8" width="1" height="36.5" fill="#707070"/>
<rect x="690" y="38.4" width="1" height="30.9" fill="#707070"/>
<rect x="693" y="33.9" width="1" height="35.4" fill="#707070"/>
<rect x="694" y="51.3" width="1" height="18.0" fill="#3c3c3c"/>
<rect x="695" y="34.1" width="1" height="35.2" fill="#707070"/>
<rect x="696" y="34.1" width="1" height="35.2" fill="#707070"/>
<rect x="697" y="35.8" width="1" height="33.5" fill="#080808"/>
<rect x="698" y="33.8" width="1" height="35.5" fill="#080808"/>
<rect x="699" y="33.5" width="1" height="35.8" fill="#080808"/>
<rect x="700" y="40.3" width="1" height="29.0" fill="#707070"/>
<rect x="701" y="30.8" width="1" height="38.5" fill="#707070"/>
<rect x="702" y="30.9" width="1" height="38.4" fill="#080808"/>
<rect x="703" y="33.9" width="1" height="35.4" fill="#707070"/>
<rect x="704" y="37.8" width="1" height="31.5" fill="#3c3c3c"/>
<rect x="705" y="38.1" width="1" height="31.2" fill="#3c3c3c"/>
<rect x="706" y="32.7" width="1" height="36.6" fill="#707070"/>
<rect x="707" y="34.9" width="1" height="34.4" fill="#080808"/>
<rect x="708" y="33.2" width="1" height="36.1" fill="#707070"/>
<rect x="709" y="38.1" width="1" height="31.2" fill="#707070"/>
<rect x="712" y="31.9" width="1" height="37.4" fill="#a8a8a8"/>
<rect x="713" y="34.8" width="1" height="34.5" fill="#a8a8a8"/>
<rect x="714" y="33.8" width="1" height="35.5" fill="#a8a8a8"/>
<rect x="715" y="36.9" width="1" height="32.4" fill="#a8a8a8"/>
<rect x="716" y="30.6" width="1" height="38.7" fill="#080808"/>
<rect x="717" y="32.1" width="1" height="37.2" fill="#707070"/>
<rect x="718" y="34.3" width="1" height="35.0" fill="#707070"/>
<rect x="720" y="31.7" width="1" height="37.6" fill="#080808"/>
<rect x="721" y="30.4" width="1" height="38.9" fill="#3c3c3c"/>
<rect x="722" y="33.2" width="1" height="36.1" fill="#3c3c3c"/>
<rect x="724" y="39.7" width="1" height="29.6" fill="#080808"/>
<rect x="725" y="33.3" width="1" height="36.0" fill="#080808"/>
<rect x="726" y="39.1" width="1" height="30.2" fill="#a8a8a8"/>
<rect x="727" y="33.2" width="1" height="36.1" fill="#080808"/>
<rect x="728" y="32.9" width="1" height="36.4" fill="#3c3c3c"/>
<rect x="729" y="39.3" width="1" height="30.0" fill="#3c3c3c"/>
<rect x="730" y="45.0" width="1" height="24.3" fill="#080808"/>
<rect x="732" y="43.7" width="1" height="25.6" fill="#080808"/>
<rect x="733" y="46.3" width="1" height="23.0" fill="#080808"/>
<rect x="734" y="31.5" width="1" height="37.8" fill="#080808"/>
<rect x="735" y="32.4" width="1" height="36.9" fill="#080808"/>
<rect x="736" y="40.1" width="1" height="29.2" fill="#080808"/>
<rect x="737" y="35.3" width="1" height="34.0" fill="#080808"/>
<rect x="738" y="31.0" width="1" height="38.3" fill="#080808"/>
<rect x="739" y="31.4" width="1" height="37.9" fill="#080808"/>
<rect x="740" y="37.3" width="1" height="32.0" fill="#080808"/>
<rect x="741" y="33.2" width="1" height="36.1" fill="#3c3c3c"/>
<rect x="742" y="39.6" width="1" height="29.7" fill="#080808"/>
<rect x="435" y="69.3" width="1" height="35.3" fill="#080808"/>
<rect x="439" y="69.3" width="1" height="36.0" fill="#080808"/>
<rect x="440" y="69.3" width="1" height="33.9" fill="#080808"/>
<rect x="441" y="69.3" width="1" height="36.5" fill="#080808"/>
<rect x="442" y="69.3" width="1" height="36.1" fill="#080808"/>
<rect x="449" y="69.3" width="1" height="34.6" fill="#a8a8a8"/>
<rect x="456" y="69.3" width="1" height="22.4" fill="#080808"/>
<rect x="457" y="69.3" width="1" height="32.9" fill="#707070"/>
<rect x="463" y="69.3" width="1" height="29.6" fill="#3c3c3c"/>
<rect x="464" y="69.3" width="1" height="35.5" fill="#080808"/>
<rect x="465" y="69.3" width="1" height="35.0" fill="#3c3c3c"/>
<rect x="472" y="69.3" width="1" height="22.2" fill="#a8a8a8"/>
<rect x="473" y="69.3" width="1" height="33.3" fill="#a8a8a8"/>
<rect x="474" y="69.3" width="1" height="35.8" fill="#080808"/>
<rect x="475" y="69.3" width="1" height="32.1" fill="#a8a8a8"/>
<rect x="480" y="69.3" width="1" height="34.3" fill="#080808"/>
<rect x="481" y="69.3" width="1" height="22.5" fill="#080808"/>
<rect x="487" y="69.3" width="1" height="24.2" fill="#080808"/>
<rect x="488" y="69.3" width="1" height="24.0" fill="#3c3c3c"/>
<rect x="489" y="69.3" width="1" height="34.2" fill="#080808"/>
<rect x="490" y="69.3" width="1" height="22.8" fill="#080808"/>
<rect x="496" y="69.3" width="1" height="21.9" fill="#707070"/>
<rect x="497" y="69.3" width="1" height="21.0" fill="#080808"/>
<rect x="498" y="69.3" width="1" height="29.9" fill="#707070"/>
<rect x="499" y="69.3" width="1" height="33.3" fill="#080808"/>
<rect x="504" y="69.3" width="1" height="34.6" fill="#080808"/>
<rect x="505" y="69.3" width="1" height="33.4" fill="#080808"/>
<rect x="508" y="69.3" width="1" height="22.5" fill="#080808"/>
<rect x="513" y="69.3" width="1" height="32.7" fill="#3c3c3c"/>
<rect x="514" y="69.3" width="1" height="35.6" fill="#707070"/>
<rect x="515" y="69.3" width="1" height="32.8" fill="#707070"/>
<rect x="516" y="69.3" width="1" height="35.5" fill="#080808"/>
<rect x="521" y="69.3" width="1" height="33.2" fill="#080808"/>
<rect x="522" y="69.3" width="1" height="21.6" fill="#080808"/>
<rect x="526" y="69.3" width="1" height="36.0" fill="#080808"/>
<rect x="530" y="69.3" width="1" height="29.6" fill="#080808"/>
<rect x="531" y="69.3" width="1" height="33.7" fill="#080808"/>
<rect x="535" y="69.3" width="1" height="36.2" fill="#080808"/>
<rect x="536" y="69.3" width="1" height="32.1" fill="#080808"/>
<rect x="537" y="69.3" width="1" height="33.9" fill="#080808"/>
<rect x="540" y="69.3" width="1" height="33.4" fill="#080808"/>
<rect x="541" y="69.3" width="1" height="33.3" fill="#080808"/>
<rect x="543" y="69.3" width="1" height="25.2" fill="#707070"/>
<rect x="544" y="69.3" width="1" height="34.6" fill="#3c3c3c"/>
<rect x="545" y="69.3" width="1" height="26.3" fill="#080808"/>
<rect x="549" y="69.3" width="1" height="35.7" fill="#3c3c3c"/>
<rect x="550" y="69.3" width="1" height="34.0" fill="#080808"/>
<rect x="551" y="69.3" width="1" height="33.5" fill="#a8a8a8"/>
<rect x="552" y="69.3" width="1" height="36.4" fill="#a8a8a8"/>
<rect x="555" y="69.3" width="1" height="32.5" fill="#080808"/>
<rect x="556" y="69.3" width="1" height="28.8" fill="#080808"/>
<rect x="557" y="69.3" width="1" height="29.1" fill="#5a5a5a"/>
<rect x="558" y="69.3" width="1" height="30.4" fill="#080808"/>
<rect x="559" y="69.3" width="1" height="24.2" fill="#080808"/>
<rect x="560" y="69.3" width="1" height="34.3" fill="#080808"/>
<rect x="561" y="69.3" width="1" height="26.8" fill="#5a5a5a"/>
<rect x="562" y="69.3" width="1" height="30.2" fill="#080808"/>
<rect x="563" y="69.3" width="1" height="36.5" fill="#080808"/>
<rect x="564" y="69.3" width="1" height="34.8" fill="#080808"/>
<rect x="565" y="69.3" width="1" height="27.9" fill="#080808"/>
<rect x="566" y="69.3" width="1" height="28.7" fill="#080808"/>
<rect x="567" y="69.3" width="1" height="24.5" fill="#5a5a5a"/>
<rect x="568" y="69.3" width="1" height="22.4" fill="#080808"/>
<rect x="569" y="69.3" width="1" height="34.8" fill="#080808"/>
<rect x="570" y="69.3" width="1" height="31.7" fill="#080808"/>
<rect x="571" y="69.3" width="1" height="28.9" fill="#080808"/>
<rect x="572" y="69.3" width="1" height="34.4" fill="#5a5a5a"/>
<rect x="573" y="69.3" width="1" height="34.7" fill="#080808"/>
<rect x="574" y="69.3" width="1" height="26.9" fill="#080808"/>
<rect x="575" y="69.3" width="1" height="24.8" fill="#080808"/>
<rect x="576" y="69.3" width="1" height="31.7" fill="#080808"/>
<rect x="577" y="69.3" width="1" height="22.2" fill="#080808"/>
<rect x="578" y="69.3" width="1" height="33.3" fill="#080808"/>
<rect x="579" y="69.3" width="1" height="30.3" fill="#080808"/>
<rect x="580" y="69.3" width="1" height="36.3" fill="#080808"/>
<rect x="581" y="69.3" width="1" height="27.6" fill="#080808"/>
<rect x="582" y="69.3" width="1" height="34.5" fill="#080808"/>
<rect x="583" y="69.3" width="1" height="22.6" fill="#080808"/>
<rect x="584" y="69.3" width="1" height="29.2" fill="#080808"/>
<rect x="585" y="69.3" width="1" height="30.7" fill="#080808"/>
<rect x="586" y="69.3" width="1" height="34.7" fill="#080808"/>
<rect x="587" y="69.3" width="1" height="26.7" fill="#080808"/>
<rect x="588" y="69.3" width="1" height="32.7" fill="#080808"/>
<rect x="589" y="69.3" width="1" height="33.0" fill="#080808"/>
<rect x="590" y="69.3" width="1" height="32.2" fill="#080808"/>
<rect x="591" y="69.3" width="1" height="25.1" fill="#080808"/>
<rect x="592" y="69.3" width="1" height="29.8" fill="#080808"/>
<rect x="593" y="69.3" width="1" height="26.6" fill="#080808"/>
<rect x="594" y="69.3" width="1" height="33.3" fill="#5a5a5a"/>
<rect x="595" y="69.3" width="1" height="31.5" fill="#080808"/>
<rect x="596" y="69.3" width="1" height="31.9" fill="#080808"/>
<rect x="597" y="69.3" width="1" height="34.1" fill="#080808"/>
<rect x="598" y="69.3" width="1" height="27.3" fill="#080808"/>
<rect x="599" y="69.3" width="1" height="35.6" fill="#080808"/>
<rect x="601" y="69.3" width="1" height="36.5" fill="#080808"/>
<rect x="602" y="69.3" width="1" height="23.7" fill="#080808"/>
<rect x="606" y="69.3" width="1" height="34.7" fill="#080808"/>
<rect x="607" y="69.3" width="1" height="35.0" fill="#707070"/>
<rect x="611" y="69.3" width="1" height="31.9" fill="#080808"/>
<rect x="612" y="69.3" width="1" height="36.6" fill="#080808"/>
<rect x="613" y="69.3" width="1" height="35.7" fill="#a8a8a8"/>
<rect x="614" y="69.3" width="1" height="23.0" fill="#080808"/>
<rect x="616" y="69.3" width="1" height="34.5" fill="#3c3c3c"/>
<rect x="619" y="69.3" width="1" height="33.5" fill="#080808"/>
<rect x="620" y="69.3" width="1" height="25.2" fill="#080808"/>
<rect x="623" y="69.3" width="1" height="35.6" fill="#080808"/>
<rect x="624" y="69.3" width="1" height="30.5" fill="#080808"/>
<rect x="627" y="69.3" width="1" height="32.1" fill="#707070"/>
<rect x="630" y="69.3" width="1" height="21.7" fill="#707070"/>
<rect x="631" y="69.3" width="1" height="32.1" fill="#707070"/>
<rect x="632" y="69.3" width="1" height="32.7" fill="#080808"/>
<rect x="633" y="69.3" width="1" height="34.5" fill="#080808"/>
<rect x="635" y="69.3" width="1" height="33.7" fill="#080808"/>
<rect x="636" y="69.3" width="1" height="34.6" fill="#080808"/>
<rect x="637" y="69.3" width="1" height="34.0" fill="#080808"/>
<rect x="638" y="69.3" width="1" height="22.8" fill="#080808"/>
<rect x="640" y="69.3" width="1" height="36.3" fill="#080808"/>
<rect x="641" y="69.3" width="1" height="32.5" fill="#080808"/>
<rect x="642" y="69.3" width="1" height="36.4" fill="#707070"/>
<rect x="643" y="69.3" width="1" height="24.7" fill="#080808"/>
<rect x="645" y="69.3" width="1" height="34.9" fill="#080808"/>
<rect x="646" y="69.3" width="1" height="34.8" fill="#080808"/>
<rect x="648" y="69.3" width="1" height="36.4" fill="#080808"/>
<rect x="649" y="69.3" width="1" height="24.1" fill="#080808"/>
<rect x="650" y="69.3" width="1" height="34.9" fill="#080808"/>
<rect x="653" y="69.3" width="1" height="28.0" fill="#080808"/>
<rect x="654" y="69.3" width="1" height="33.4" fill="#080808"/>
<rect x="655" y="69.3" width="1" height="36.6" fill="#080808"/>
<rect x="656" y="69.3" width="1" height="27.1" fill="#080808"/>
<rect x="659" y="69.3" width="1" height="32.4" fill="#080808"/>
<rect x="660" y="69.3" width="1" height="35.8" fill="#080808"/>
<rect x="664" y="69.3" width="1" height="32.5" fill="#080808"/>
<rect x="665" y="69.3" width="1" height="32.2" fill="#a8a8a8"/>
<rect x="670" y="69.3" width="1" height="34.2" fill="#080808"/>
<rect x="675" y="69.3" width="1" height="36.1" fill="#3c3c3c"/>
<rect x="676" y="69.3" width="1" height="34.6" fill="#080808"/>
<rect x="682" y="69.3" width="1" height="28.8" fill="#080808"/>
<rect x="683" y="69.3" width="1" height="36.5" fill="#080808"/>
<rect x="686" y="69.3" width="1" height="36.5" fill="#080808"/>
<rect x="687" y="69.3" width="1" height="23.0" fill="#080808"/>
<rect x="690" y="69.3" width="1" height="32.1" fill="#080808"/>
<rect x="694" y="69.3" width="1" height="22.9" fill="#707070"/>
<rect x="695" y="69.3" width="1" height="27.0" fill="#080808"/>
<rect x="696" y="69.3" width="1" height="28.8" fill="#707070"/>
<rect x="702" y="69.3" width="1" height="32.2" fill="#080808"/>
<rect x="703" y="69.3" width="1" height="25.6" fill="#080808"/>
<rect x="709" y="69.3" width="1" height="31.2" fill="#080808"/>
<rect x="710" y="69.3" width="1" height="34.1" fill="#080808"/>
<rect x="717" y="69.3" width="1" height="26.8" fill="#3c3c3c"/>
<rect x="718" y="69.3" width="1" height="29.9" fill="#3c3c3c"/>
<rect x="719" y="69.3" width="1" height="33.8" fill="#3c3c3c"/>
<rect x="725" y="69.3" width="1" height="34.7" fill="#a8a8a8"/>
<rect x="726" y="69.3" width="1" height="33.3" fill="#080808"/>
<rect x="727" y="69.3" width="1" height="36.3" fill="#a8a8a8"/>
<rect x="731" y="69.3" width="1" height="32.2" fill="#080808"/>
<rect x="732" y="69.3" width="1" height="34.5" fill="#3c3c3c"/>
<rect x="733" y="69.3" width="1" height="33.1" fill="#3c3c3c"/>
<rect x="734" y="69.3" width="1" height="33.4" fill="#707070"/>
<rect x="738" y="69.3" width="1" height="36.6" fill="#a8a8a8"/>
<rect x="739" y="69.3" width="1" height="33.1" fill="#080808"/>
<rect x="579" y="41" width="1" height="28.3" fill="#111"/>
<rect x="435" y="68.8" width="308" height="1" fill="#111"/>
</g>
<text x="432.3" y="120.0" font-size="9.55" fill="#777" text-anchor="start" font-weight="normal" font-style="normal" >chr16:84,211,403-85,264,441</text>
<rect x="589.2" y="120.2" width="4" height="6.4" fill="#ec1018"/>
<rect x="593.2" y="120.2" width="2.8" height="6.4" fill="#8a0a10"/>
<path d="M626.9,120.4 L628.2,120.4 Q630.2,123.4 628.2,126.6 L626.9,126.6 Z" fill="#333"/>
<line x1="663.5" y1="123.4" x2="728.0" y2="123.4" stroke="#333" stroke-width="0.80" stroke-dasharray="1.5,1.2"/>
<rect x="663.3" y="120" width="1.2" height="6.3" fill="#222"/>
<rect x="665.0" y="120" width="1.2" height="6.3" fill="#222"/>
<rect x="666.6" y="120" width="1.2" height="6.3" fill="#222"/>
<rect x="670.3" y="120" width="1.2" height="6.3" fill="#222"/>
<rect x="680.3" y="120" width="1.2" height="6.3" fill="#222"/>
<rect x="684.0" y="120" width="1.3" height="6.3" fill="#222"/>
<rect x="685.8" y="120" width="1.3" height="6.3" fill="#222"/>
<rect x="687.6" y="120" width="1.3" height="6.3" fill="#222"/>
<rect x="689.6" y="120" width="1.0" height="6.3" fill="#222"/>
<rect x="693.2" y="120" width="1.0" height="6.3" fill="#222"/>
<rect x="700.2" y="120" width="1.8" height="6.3" fill="#222"/>
<rect x="706.0" y="120" width="1.4" height="6.3" fill="#222"/>
<rect x="711.8" y="120" width="1.3" height="6.3" fill="#222"/>
<rect x="727.2" y="120" width="1.1" height="6.3" fill="#222"/>
<text x="580.3" y="144.7" font-size="14.50" fill="#111" text-anchor="middle" font-weight="normal" font-style="italic" >Mir155</text>
<text x="630.0" y="144.7" font-size="14.50" fill="#111" text-anchor="middle" font-weight="normal" font-style="italic" >Atp5j</text>
<text x="696.3" y="144.7" font-size="14.50" fill="#111" text-anchor="middle" font-weight="normal" font-style="italic" >App</text>
<text x="0" y="0" font-size="12.20" fill="#111" text-anchor="middle" font-weight="normal" transform="translate(407.6,170.9) rotate(-90)">GRO-Seq</text>
<line x1="433.6" y1="149.1" x2="433.6" y2="193.6" stroke="#a0a0a0" stroke-width="1.00" />
<line x1="429.8" y1="149.6" x2="433.6" y2="149.6" stroke="#a0a0a0" stroke-width="1.00" />
<line x1="429.8" y1="171.8" x2="433.6" y2="171.8" stroke="#a0a0a0" stroke-width="1.00" />
<line x1="429.8" y1="193.1" x2="433.6" y2="193.1" stroke="#a0a0a0" stroke-width="1.00" />
<text x="426.8" y="155.8" font-size="8.50" fill="#222" text-anchor="end" font-weight="normal" font-style="normal" >23</text>
<text x="427.0" y="175.4" font-size="8.50" fill="#222" text-anchor="end" font-weight="normal" font-style="normal" >0</text>
<text x="427.4" y="193.7" font-size="8.50" fill="#222" text-anchor="end" font-weight="normal" font-style="normal" >-1.3</text>
<text x="484.0" y="165.0" font-size="12.00" fill="#111" text-anchor="middle" font-weight="bold" font-style="normal" >+</text>
<text x="484.0" y="184.0" font-size="12.00" fill="#111" text-anchor="middle" font-weight="bold" font-style="normal" >-</text>
<g fill="#2222e0">
<rect x="446" y="172.1" width="1" height="1" opacity="0.6"/>
<rect x="452" y="172.1" width="1" height="1" opacity="0.6"/>
<rect x="455" y="172.1" width="1" height="1" opacity="0.6"/>
<rect x="466" y="172.1" width="1" height="1" opacity="0.6"/>
<rect x="472" y="172.1" width="1" height="1" opacity="0.6"/>
<rect x="477" y="172.1" width="1" height="1" opacity="0.6"/>
<rect x="527" y="172.1" width="1" height="1" opacity="0.6"/>
<rect x="529" y="172.1" width="1" height="1" opacity="0.6"/>
</g>
<rect x="533" y="172.5" width="110" height="1.1" fill="#2222e0" opacity="0.85"/>
<rect x="661" y="172.6" width="66.6" height="1.0" fill="#2222e0" opacity="0.7"/>
<g fill="#2222e0" opacity="0.75"><rect x="557.0" y="171.0" width="1.5" height="0.9"/><rect x="561.0" y="171.0" width="1.0" height="0.9"/><rect x="565.0" y="171.0" width="1.5" height="0.9"/><rect x="569.0" y="171.0" width="1.0" height="0.9"/><rect x="573.0" y="171.0" width="1.0" height="0.9"/><rect x="575.0" y="171.0" width="1.0" height="0.9"/><rect x="581.0" y="171.0" width="1.0" height="0.9"/><rect x="583.0" y="171.0" width="2.0" height="0.9"/><rect x="585.0" y="171.0" width="1.0" height="0.9"/><rect x="587.0" y="171.0" width="1.0" height="0.9"/><rect x="599.0" y="171.0" width="1.0" height="0.9"/><rect x="603.0" y="171.0" width="1.0" height="0.9"/><rect x="605.0" y="171.0" width="1.0" height="0.9"/><rect x="607.0" y="171.0" width="2.0" height="0.9"/><rect x="611.0" y="171.0" width="2.0" height="0.9"/><rect x="613.0" y="171.0" width="1.5" height="0.9"/><rect x="615.0" y="171.0" width="1.5" height="0.9"/><rect x="617.0" y="171.0" width="1.0" height="0.9"/><rect x="619.0" y="171.0" width="1.5" height="0.9"/><rect x="621.0" y="171.0" width="2.0" height="0.9"/><rect x="629.0" y="171.0" width="1.5" height="0.9"/><rect x="633.0" y="171.0" width="1.5" height="0.9"/><rect x="635.0" y="171.0" width="1.5" height="0.9"/><rect x="639.0" y="171.0" width="1.0" height="0.9"/></g>
<path d="M589.8,172.6 L590.0,162.0 L590.6,156.0 L591.5,155.0 L592.5,157.5 L593.5,158.5 L594.5,156.0 L595.2,150.5 L595.8,151.0 L596.3,160.0 L596.8,168.0 L597.5,171.0 L598.0,172.6 Z" fill="#2222e0"/>
<path d="M548,173.6 L548.0,174.2 L548.5,174.2 L549.0,174.3 L549.5,174.2 L550.0,174.2 L550.5,174.6 L551.0,174.3 L551.5,174.5 L552.0,174.4 L552.5,174.7 L553.0,174.0 L553.5,174.1 L554.0,174.6 L554.5,174.3 L555.0,174.3 L555.5,186.8 L556.0,186.5 L556.5,174.3 L557.0,174.4 L557.5,174.5 L558.0,174.5 L558.5,176.0 L559.0,174.5 L559.5,175.6 L560.0,176.0 L560.5,175.8 L561.0,175.3 L561.5,192.2 L562.0,193.7 L562.5,192.2 L563.0,178.5 L563.5,180.0 L564.0,178.5 L564.5,176.0 L565.0,177.5 L565.5,177.5 L566.0,177.1 L566.5,175.6 L567.0,179.4 L567.5,179.7 L568.0,175.5 L568.5,175.2 L569.0,176.0 L569.5,177.5 L570.0,176.4 L570.5,176.8 L571.0,175.8 L571.5,177.4 L572.0,180.1 L572.5,181.0 L573.0,177.3 L573.5,176.3 L574.0,176.5 L574.5,175.3 L575.0,174.5 L575.5,174.2 L576.0,174.4 L576.5,173.9 L577.0,174.1 L577.5,174.3 L578.0,174.4 L578.5,174.6 L579.0,174.1 L579.5,174.7 L580.0,174.5 L580.5,174.7 L581.0,174.2 L581.5,174.0 L582.0,174.6 L582.5,174.3 L583.0,174.5 L583.5,174.2 L584.0,176.5 L584.5,177.4 L585.0,174.3 L585.5,174.4 L586.0,174.2 L586.5,174.1 L587.0,174.2 L587.5,174.7 L588.0,174.2 L588.5,174.6 L589.0,174.0 L589.5,176.2 L590.0,175.9 L590.5,191.5 L591.0,193.0 L591.5,191.5 L592.0,177.0 L592.5,178.5 L593.0,177.0 L593.5,175.9 L594.0,177.3 L594.5,177.6 L595.0,176.6 L595.5,175.6 L596.0,175.6 L596.5,177.6 L597.0,178.5 L597.5,177.0 L598.0,176.3 L598.5,176.1 L599.0,176.8 L599.5,183.1 L600.0,182.8 L600.5,174.2 L601.0,174.2 L601.5,174.7 L602.0,174.6 L602.5,174.6 L603.0,174.5 L603.5,174.3 L604.0,174.7 L604.5,174.3 L605.0,174.1 L605.5,174.1 L606.0,174.3 L606.5,174.7 L607.0,174.1 L607.5,174.2 L608.0,174.0 L608.5,174.2 L609.0,174.4 L609.5,174.3 L610.0,174.3 L610.5,174.0 L611.0,174.2 L611.5,174.3 L612.0,174.1 L612.5,174.0 L613.0,174.0 L613.5,174.6 L614.0,174.4 L614.5,174.2 L615.0,174.2 L615.5,174.6 L616.0,174.3 L616.5,174.2 L617.0,174.6 L617.5,174.4 L618.0,174.2 L618.5,174.7 L619.0,174.3 L619.5,174.3 L620.0,174.5 L620.5,174.2 L621.0,174.6 L621.5,174.0 L622.0,174.4 L622.5,174.5 L623.0,174.7 L623.5,175.5 L624.0,176.2 L624.5,176.9 L625.0,177.6 L625.5,178.3 L626.0,179.0 L626.5,179.7 L627.0,180.5 L627.5,181.2 L628.0,186.2 L628.5,187.7 L629.0,186.2 L629.5,174.2 L630.0,174.3 L630.5,174.3 L631.0,174.1 L631.5,174.3 L632.0,173.9 L632.5,174.3 L633.0,174.6 L633.5,174.5 L634.0,174.1 L634,173.6 Z" fill="#2222e0"/>
<text x="385.2" y="236.4" font-size="19.50" fill="#000" text-anchor="start" font-weight="bold" font-style="normal" >D</text>
<text x="481.0" y="232.0" font-size="13.80" fill="#111" text-anchor="middle" font-weight="normal" font-style="normal" >heter.</text>
<text x="582.0" y="232.0" font-size="13.80" fill="#111" text-anchor="middle" font-weight="normal" font-style="normal" >euchromatin</text>
<text x="680.6" y="232.0" font-size="13.80" fill="#111" text-anchor="middle" font-weight="normal" font-style="normal" >heter.</text>
<line x1="432.3" y1="241.2" x2="432.3" y2="384.7" stroke="#6a6a6a" stroke-width="1.00" />
<line x1="432.3" y1="384.7" x2="738.0" y2="384.7" stroke="#6a6a6a" stroke-width="1.00" />
<line x1="429.2" y1="271.2" x2="432.3" y2="271.2" stroke="#6a6a6a" stroke-width="1.00" />
<text x="427.0" y="273.5" font-size="8.80" fill="#222" text-anchor="end" font-weight="normal" font-style="normal" >1.00</text>
<line x1="429.2" y1="310.4" x2="432.3" y2="310.4" stroke="#6a6a6a" stroke-width="1.00" />
<text x="427.0" y="312.7" font-size="8.80" fill="#222" text-anchor="end" font-weight="normal" font-style="normal" >0.95</text>
<line x1="429.2" y1="349.5" x2="432.3" y2="349.5" stroke="#6a6a6a" stroke-width="1.00" />
<text x="427.0" y="351.8" font-size="8.80" fill="#222" text-anchor="end" font-weight="normal" font-style="normal" >0.90</text>
<text x="0" y="0" font-size="12.30" fill="#111" text-anchor="middle" font-weight="normal" transform="translate(400.0,310.6) rotate(-90)">MNase / input</text>
<line x1="438.8" y1="384.7" x2="438.8" y2="388.0" stroke="#6a6a6a" stroke-width="1.00" />
<text x="438.8" y="399.6" font-size="10.90" fill="#111" text-anchor="middle" font-weight="normal" font-style="normal" >-50Kb</text>
<line x1="530.6" y1="384.7" x2="530.6" y2="388.0" stroke="#6a6a6a" stroke-width="1.00" />
<text x="530.6" y="399.6" font-size="10.90" fill="#111" text-anchor="middle" font-weight="normal" font-style="normal" >0%</text>
<line x1="632.6" y1="384.7" x2="632.6" y2="388.0" stroke="#6a6a6a" stroke-width="1.00" />
<text x="632.6" y="399.6" font-size="10.90" fill="#111" text-anchor="middle" font-weight="normal" font-style="normal" >100%</text>
<line x1="729.0" y1="384.7" x2="729.0" y2="388.0" stroke="#6a6a6a" stroke-width="1.00" />
<text x="729.0" y="399.6" font-size="10.90" fill="#111" text-anchor="middle" font-weight="normal" font-style="normal" >+50Kb</text>
<path d="M556.4 284.1h1.1v1.1h-1.1zM659.7 285.8h1.1v1.1h-1.1zM550.3 277.1h1.1v1.1h-1.1zM581.1 273.9h1.1v1.1h-1.1zM617.1 286.3h1.1v1.1h-1.1zM551.7 300.3h1.1v1.1h-1.1zM483.2 272.8h1.1v1.1h-1.1zM714.1 269.8h1.1v1.1h-1.1zM664.0 272.2h1.1v1.1h-1.1zM441.2 287.9h1.1v1.1h-1.1zM726.5 273.2h1.1v1.1h-1.1zM614.9 280.3h1.1v1.1h-1.1zM542.9 284.4h1.1v1.1h-1.1zM669.0 301.0h1.1v1.1h-1.1zM724.5 289.8h1.1v1.1h-1.1zM445.8 269.7h1.1v1.1h-1.1zM562.6 285.9h1.1v1.1h-1.1zM529.0 285.9h1.1v1.1h-1.1zM497.3 280.8h1.1v1.1h-1.1zM455.1 286.4h1.1v1.1h-1.1zM660.9 287.3h1.1v1.1h-1.1zM640.9 285.3h1.1v1.1h-1.1zM613.2 280.3h1.1v1.1h-1.1zM615.6 279.1h1.1v1.1h-1.1zM489.6 283.5h1.1v1.1h-1.1zM481.3 285.2h1.1v1.1h-1.1zM670.8 292.8h1.1v1.1h-1.1zM473.1 279.4h1.1v1.1h-1.1zM522.6 275.7h1.1v1.1h-1.1zM554.9 280.8h1.1v1.1h-1.1zM555.0 275.0h1.1v1.1h-1.1zM694.5 289.0h1.1v1.1h-1.1zM648.6 273.0h1.1v1.1h-1.1zM629.1 287.5h1.1v1.1h-1.1zM529.2 287.9h1.1v1.1h-1.1zM674.1 272.4h1.1v1.1h-1.1zM511.5 274.8h1.1v1.1h-1.1zM566.2 297.6h1.1v1.1h-1.1zM513.4 259.7h1.1v1.1h-1.1zM668.0 281.2h1.1v1.1h-1.1zM709.1 283.8h1.1v1.1h-1.1zM630.2 299.9h1.1v1.1h-1.1zM521.0 273.0h1.1v1.1h-1.1zM632.7 270.9h1.1v1.1h-1.1zM549.3 287.6h1.1v1.1h-1.1zM640.7 275.9h1.1v1.1h-1.1zM495.1 278.0h1.1v1.1h-1.1zM629.9 277.1h1.1v1.1h-1.1zM690.7 286.5h1.1v1.1h-1.1zM555.2 299.6h1.1v1.1h-1.1zM593.5 290.9h1.1v1.1h-1.1zM656.2 280.5h1.1v1.1h-1.1zM667.0 275.8h1.1v1.1h-1.1zM653.7 282.5h1.1v1.1h-1.1zM593.3 274.3h1.1v1.1h-1.1zM662.4 272.3h1.1v1.1h-1.1zM445.0 291.8h1.1v1.1h-1.1zM718.2 288.5h1.1v1.1h-1.1zM546.3 260.8h1.1v1.1h-1.1zM524.7 270.5h1.1v1.1h-1.1zM727.1 285.1h1.1v1.1h-1.1zM572.9 275.5h1.1v1.1h-1.1zM477.0 266.4h1.1v1.1h-1.1zM560.5 288.6h1.1v1.1h-1.1zM491.0 281.2h1.1v1.1h-1.1zM697.5 291.7h1.1v1.1h-1.1zM679.1 292.5h1.1v1.1h-1.1zM697.3 280.8h1.1v1.1h-1.1zM488.2 287.3h1.1v1.1h-1.1zM443.5 288.9h1.1v1.1h-1.1zM582.5 276.6h1.1v1.1h-1.1zM593.8 295.6h1.1v1.1h-1.1zM608.3 278.1h1.1v1.1h-1.1zM452.8 283.6h1.1v1.1h-1.1zM658.5 285.8h1.1v1.1h-1.1zM566.6 280.5h1.1v1.1h-1.1zM473.0 274.4h1.1v1.1h-1.1zM519.0 270.9h1.1v1.1h-1.1zM601.4 291.4h1.1v1.1h-1.1zM628.6 283.3h1.1v1.1h-1.1zM649.5 277.2h1.1v1.1h-1.1zM482.6 294.8h1.1v1.1h-1.1zM487.4 289.2h1.1v1.1h-1.1zM647.3 269.5h1.1v1.1h-1.1zM537.8 261.1h1.1v1.1h-1.1zM493.6 291.2h1.1v1.1h-1.1zM471.3 260.2h1.1v1.1h-1.1zM442.6 286.6h1.1v1.1h-1.1zM637.2 294.2h1.1v1.1h-1.1zM567.9 292.7h1.1v1.1h-1.1zM693.0 298.7h1.1v1.1h-1.1zM682.6 291.6h1.1v1.1h-1.1zM547.4 280.0h1.1v1.1h-1.1zM526.3 280.5h1.1v1.1h-1.1zM713.1 296.1h1.1v1.1h-1.1zM474.9 271.9h1.1v1.1h-1.1zM460.0 277.0h1.1v1.1h-1.1zM536.2 288.3h1.1v1.1h-1.1zM679.8 299.1h1.1v1.1h-1.1zM598.2 286.6h1.1v1.1h-1.1zM444.4 290.6h1.1v1.1h-1.1zM587.8 278.1h1.1v1.1h-1.1zM505.2 252.8h1.1v1.1h-1.1zM627.2 277.8h1.1v1.1h-1.1zM603.8 277.9h1.1v1.1h-1.1zM497.7 285.0h1.1v1.1h-1.1zM726.4 279.5h1.1v1.1h-1.1zM607.4 282.1h1.1v1.1h-1.1zM585.1 284.1h1.1v1.1h-1.1zM722.7 293.8h1.1v1.1h-1.1zM477.4 287.8h1.1v1.1h-1.1zM465.4 277.4h1.1v1.1h-1.1zM499.5 280.2h1.1v1.1h-1.1zM565.8 288.3h1.1v1.1h-1.1zM653.4 295.5h1.1v1.1h-1.1zM683.3 283.3h1.1v1.1h-1.1zM585.6 296.5h1.1v1.1h-1.1zM596.8 284.2h1.1v1.1h-1.1zM561.3 293.7h1.1v1.1h-1.1zM460.1 284.2h1.1v1.1h-1.1zM493.9 295.9h1.1v1.1h-1.1zM447.6 288.6h1.1v1.1h-1.1zM453.5 285.7h1.1v1.1h-1.1zM516.9 284.5h1.1v1.1h-1.1zM524.8 274.9h1.1v1.1h-1.1zM472.1 280.4h1.1v1.1h-1.1zM514.6 282.8h1.1v1.1h-1.1zM713.1 290.6h1.1v1.1h-1.1zM681.5 284.7h1.1v1.1h-1.1zM543.2 276.7h1.1v1.1h-1.1zM665.5 292.3h1.1v1.1h-1.1zM619.3 287.8h1.1v1.1h-1.1zM459.5 288.7h1.1v1.1h-1.1zM640.0 281.2h1.1v1.1h-1.1zM546.4 264.9h1.1v1.1h-1.1zM701.7 293.0h1.1v1.1h-1.1zM645.9 283.3h1.1v1.1h-1.1zM709.3 278.0h1.1v1.1h-1.1zM533.7 292.8h1.1v1.1h-1.1zM509.6 290.0h1.1v1.1h-1.1zM568.2 300.0h1.1v1.1h-1.1zM550.4 281.0h1.1v1.1h-1.1zM701.1 277.6h1.1v1.1h-1.1zM562.7 290.2h1.1v1.1h-1.1zM614.7 279.1h1.1v1.1h-1.1zM692.2 290.2h1.1v1.1h-1.1zM458.8 288.9h1.1v1.1h-1.1zM570.8 254.6h1.1v1.1h-1.1zM444.8 287.7h1.1v1.1h-1.1zM623.2 285.8h1.1v1.1h-1.1zM630.1 277.4h1.1v1.1h-1.1zM444.7 287.7h1.1v1.1h-1.1zM727.6 254.2h1.1v1.1h-1.1zM522.3 287.0h1.1v1.1h-1.1zM676.9 271.4h1.1v1.1h-1.1zM469.4 254.1h1.1v1.1h-1.1zM657.4 277.5h1.1v1.1h-1.1zM591.9 286.0h1.1v1.1h-1.1zM725.6 286.7h1.1v1.1h-1.1zM656.5 286.3h1.1v1.1h-1.1zM511.9 264.7h1.1v1.1h-1.1zM502.2 291.7h1.1v1.1h-1.1zM662.6 277.5h1.1v1.1h-1.1zM623.3 291.1h1.1v1.1h-1.1zM482.3 279.9h1.1v1.1h-1.1zM617.3 286.4h1.1v1.1h-1.1zM459.5 269.9h1.1v1.1h-1.1zM537.1 273.7h1.1v1.1h-1.1zM555.1 282.6h1.1v1.1h-1.1zM572.0 282.7h1.1v1.1h-1.1zM495.7 294.6h1.1v1.1h-1.1zM472.3 276.9h1.1v1.1h-1.1zM644.7 286.1h1.1v1.1h-1.1zM464.9 293.7h1.1v1.1h-1.1zM446.3 289.6h1.1v1.1h-1.1zM451.4 278.9h1.1v1.1h-1.1zM511.7 271.2h1.1v1.1h-1.1zM451.5 283.0h1.1v1.1h-1.1zM704.1 302.9h1.1v1.1h-1.1zM674.6 275.7h1.1v1.1h-1.1zM614.7 278.0h1.1v1.1h-1.1zM600.9 261.0h1.1v1.1h-1.1zM684.5 282.2h1.1v1.1h-1.1zM538.9 279.0h1.1v1.1h-1.1zM452.3 263.7h1.1v1.1h-1.1zM681.3 278.9h1.1v1.1h-1.1zM534.5 291.5h1.1v1.1h-1.1zM524.9 274.3h1.1v1.1h-1.1zM538.7 280.9h1.1v1.1h-1.1zM465.9 288.6h1.1v1.1h-1.1zM691.0 276.3h1.1v1.1h-1.1zM706.9 282.3h1.1v1.1h-1.1zM705.8 291.7h1.1v1.1h-1.1zM636.8 288.8h1.1v1.1h-1.1zM507.8 275.3h1.1v1.1h-1.1zM631.9 276.7h1.1v1.1h-1.1zM476.5 302.5h1.1v1.1h-1.1zM724.2 299.1h1.1v1.1h-1.1zM662.0 297.7h1.1v1.1h-1.1zM598.2 278.3h1.1v1.1h-1.1zM599.5 282.0h1.1v1.1h-1.1zM565.1 271.0h1.1v1.1h-1.1zM699.4 295.9h1.1v1.1h-1.1zM628.2 274.4h1.1v1.1h-1.1zM726.3 282.8h1.1v1.1h-1.1zM674.7 289.9h1.1v1.1h-1.1zM719.4 287.2h1.1v1.1h-1.1zM542.2 249.6h1.1v1.1h-1.1zM679.6 280.0h1.1v1.1h-1.1zM625.9 261.8h1.1v1.1h-1.1zM583.3 275.4h1.1v1.1h-1.1zM503.0 289.2h1.1v1.1h-1.1zM720.9 282.7h1.1v1.1h-1.1zM598.6 280.2h1.1v1.1h-1.1zM648.8 294.9h1.1v1.1h-1.1zM511.4 279.8h1.1v1.1h-1.1zM546.9 281.9h1.1v1.1h-1.1zM540.3 264.7h1.1v1.1h-1.1zM639.8 288.9h1.1v1.1h-1.1zM594.8 284.8h1.1v1.1h-1.1zM559.5 280.4h1.1v1.1h-1.1zM683.3 278.9h1.1v1.1h-1.1zM558.8 304.9h1.1v1.1h-1.1zM439.0 285.0h1.1v1.1h-1.1zM722.4 281.5h1.1v1.1h-1.1zM693.8 278.5h1.1v1.1h-1.1zM444.2 279.8h1.1v1.1h-1.1zM553.3 280.9h1.1v1.1h-1.1zM695.9 280.9h1.1v1.1h-1.1zM573.7 287.8h1.1v1.1h-1.1zM682.8 274.0h1.1v1.1h-1.1zM603.7 272.5h1.1v1.1h-1.1zM453.0 274.5h1.1v1.1h-1.1zM717.0 291.8h1.1v1.1h-1.1zM473.2 273.2h1.1v1.1h-1.1zM593.5 259.7h1.1v1.1h-1.1zM501.6 285.8h1.1v1.1h-1.1zM510.9 281.6h1.1v1.1h-1.1zM484.5 282.2h1.1v1.1h-1.1zM538.1 288.1h1.1v1.1h-1.1zM649.5 289.1h1.1v1.1h-1.1zM722.5 288.4h1.1v1.1h-1.1zM585.9 296.0h1.1v1.1h-1.1zM563.5 279.8h1.1v1.1h-1.1zM565.2 279.7h1.1v1.1h-1.1zM480.7 304.3h1.1v1.1h-1.1zM639.8 287.9h1.1v1.1h-1.1zM492.2 288.7h1.1v1.1h-1.1zM580.5 275.0h1.1v1.1h-1.1zM665.3 275.0h1.1v1.1h-1.1zM719.3 291.7h1.1v1.1h-1.1zM581.3 278.4h1.1v1.1h-1.1zM697.2 283.4h1.1v1.1h-1.1zM694.0 287.4h1.1v1.1h-1.1zM703.3 274.8h1.1v1.1h-1.1zM691.0 289.1h1.1v1.1h-1.1zM610.0 290.8h1.1v1.1h-1.1zM512.7 299.2h1.1v1.1h-1.1zM722.5 293.2h1.1v1.1h-1.1zM502.8 275.2h1.1v1.1h-1.1zM440.9 282.6h1.1v1.1h-1.1zM577.4 287.9h1.1v1.1h-1.1zM509.8 266.0h1.1v1.1h-1.1zM716.4 285.7h1.1v1.1h-1.1zM710.9 288.5h1.1v1.1h-1.1zM521.0 295.7h1.1v1.1h-1.1zM546.1 286.0h1.1v1.1h-1.1zM526.6 290.2h1.1v1.1h-1.1zM627.3 284.0h1.1v1.1h-1.1zM465.2 284.0h1.1v1.1h-1.1zM710.5 297.7h1.1v1.1h-1.1zM639.4 277.1h1.1v1.1h-1.1zM440.0 280.5h1.1v1.1h-1.1zM517.3 284.5h1.1v1.1h-1.1zM655.0 299.3h1.1v1.1h-1.1zM614.2 276.2h1.1v1.1h-1.1zM528.7 287.3h1.1v1.1h-1.1zM579.0 278.2h1.1v1.1h-1.1zM636.8 288.1h1.1v1.1h-1.1zM503.2 285.5h1.1v1.1h-1.1zM682.4 268.7h1.1v1.1h-1.1zM683.6 274.9h1.1v1.1h-1.1zM517.0 283.3h1.1v1.1h-1.1zM490.9 289.5h1.1v1.1h-1.1zM445.7 308.2h1.1v1.1h-1.1zM575.3 287.1h1.1v1.1h-1.1zM514.2 286.8h1.1v1.1h-1.1zM508.5 279.4h1.1v1.1h-1.1zM612.8 291.9h1.1v1.1h-1.1zM490.1 272.6h1.1v1.1h-1.1zM550.7 271.4h1.1v1.1h-1.1zM618.0 297.4h1.1v1.1h-1.1zM563.4 281.2h1.1v1.1h-1.1zM520.6 295.8h1.1v1.1h-1.1zM504.9 275.6h1.1v1.1h-1.1zM589.6 279.6h1.1v1.1h-1.1zM667.0 263.9h1.1v1.1h-1.1zM599.9 281.9h1.1v1.1h-1.1zM518.0 273.1h1.1v1.1h-1.1zM443.3 287.3h1.1v1.1h-1.1zM460.6 281.1h1.1v1.1h-1.1zM670.6 262.4h1.1v1.1h-1.1zM665.4 294.4h1.1v1.1h-1.1zM491.2 284.4h1.1v1.1h-1.1zM542.0 289.2h1.1v1.1h-1.1zM630.5 280.9h1.1v1.1h-1.1zM497.3 283.0h1.1v1.1h-1.1zM530.9 271.1h1.1v1.1h-1.1zM688.8 274.4h1.1v1.1h-1.1zM500.4 290.0h1.1v1.1h-1.1zM657.7 282.6h1.1v1.1h-1.1zM488.7 278.3h1.1v1.1h-1.1zM687.6 285.8h1.1v1.1h-1.1zM509.3 286.8h1.1v1.1h-1.1zM635.7 268.5h1.1v1.1h-1.1zM615.7 271.8h1.1v1.1h-1.1zM589.8 273.6h1.1v1.1h-1.1zM662.8 291.6h1.1v1.1h-1.1zM657.4 278.7h1.1v1.1h-1.1zM669.3 278.4h1.1v1.1h-1.1zM691.3 281.8h1.1v1.1h-1.1zM488.8 283.1h1.1v1.1h-1.1zM609.1 300.5h1.1v1.1h-1.1zM523.6 286.7h1.1v1.1h-1.1zM694.1 285.5h1.1v1.1h-1.1zM460.0 287.7h1.1v1.1h-1.1zM477.5 292.5h1.1v1.1h-1.1zM665.8 271.2h1.1v1.1h-1.1zM538.7 293.3h1.1v1.1h-1.1zM499.9 279.2h1.1v1.1h-1.1zM468.5 289.6h1.1v1.1h-1.1zM641.8 286.1h1.1v1.1h-1.1zM713.3 289.4h1.1v1.1h-1.1zM501.5 269.5h1.1v1.1h-1.1zM520.5 268.0h1.1v1.1h-1.1zM443.1 299.6h1.1v1.1h-1.1zM518.1 272.7h1.1v1.1h-1.1zM552.0 270.4h1.1v1.1h-1.1zM547.1 280.1h1.1v1.1h-1.1zM446.0 275.7h1.1v1.1h-1.1zM565.0 282.7h1.1v1.1h-1.1zM712.9 275.0h1.1v1.1h-1.1zM580.3 302.9h1.1v1.1h-1.1zM609.8 288.4h1.1v1.1h-1.1zM539.2 289.9h1.1v1.1h-1.1zM473.7 290.9h1.1v1.1h-1.1zM509.9 276.8h1.1v1.1h-1.1zM603.5 293.9h1.1v1.1h-1.1zM528.8 268.3h1.1v1.1h-1.1zM704.6 293.5h1.1v1.1h-1.1zM490.3 278.2h1.1v1.1h-1.1zM565.9 281.6h1.1v1.1h-1.1zM499.8 273.6h1.1v1.1h-1.1zM697.6 287.9h1.1v1.1h-1.1zM667.0 291.6h1.1v1.1h-1.1zM459.1 297.4h1.1v1.1h-1.1zM523.9 281.6h1.1v1.1h-1.1zM609.4 293.3h1.1v1.1h-1.1zM614.5 281.4h1.1v1.1h-1.1zM480.2 272.7h1.1v1.1h-1.1zM512.4 280.3h1.1v1.1h-1.1zM588.6 286.0h1.1v1.1h-1.1zM567.5 294.1h1.1v1.1h-1.1zM593.4 273.9h1.1v1.1h-1.1zM689.8 266.0h1.1v1.1h-1.1zM444.4 286.9h1.1v1.1h-1.1zM488.8 288.0h1.1v1.1h-1.1zM530.0 266.8h1.1v1.1h-1.1zM641.4 265.6h1.1v1.1h-1.1zM605.3 268.2h1.1v1.1h-1.1zM556.3 284.3h1.1v1.1h-1.1zM655.8 288.1h1.1v1.1h-1.1zM517.3 279.0h1.1v1.1h-1.1zM576.3 272.1h1.1v1.1h-1.1zM667.5 284.5h1.1v1.1h-1.1zM710.1 300.7h1.1v1.1h-1.1zM588.0 286.5h1.1v1.1h-1.1zM702.5 278.0h1.1v1.1h-1.1zM686.8 299.0h1.1v1.1h-1.1zM576.3 288.1h1.1v1.1h-1.1zM534.4 284.6h1.1v1.1h-1.1zM517.2 267.0h1.1v1.1h-1.1zM448.9 286.9h1.1v1.1h-1.1zM464.4 277.8h1.1v1.1h-1.1zM577.0 282.9h1.1v1.1h-1.1zM584.3 270.6h1.1v1.1h-1.1zM729.2 286.5h1.1v1.1h-1.1zM456.0 276.1h1.1v1.1h-1.1zM512.8 277.4h1.1v1.1h-1.1zM478.6 286.7h1.1v1.1h-1.1zM673.8 287.6h1.1v1.1h-1.1zM603.5 285.3h1.1v1.1h-1.1zM624.1 278.9h1.1v1.1h-1.1zM454.3 276.2h1.1v1.1h-1.1zM442.2 295.4h1.1v1.1h-1.1zM477.6 274.5h1.1v1.1h-1.1zM684.3 283.3h1.1v1.1h-1.1zM647.9 290.6h1.1v1.1h-1.1zM458.5 269.7h1.1v1.1h-1.1zM486.7 293.8h1.1v1.1h-1.1zM597.5 274.5h1.1v1.1h-1.1zM534.0 295.4h1.1v1.1h-1.1zM461.6 277.0h1.1v1.1h-1.1zM522.2 266.2h1.1v1.1h-1.1zM469.7 280.9h1.1v1.1h-1.1zM701.4 279.7h1.1v1.1h-1.1zM719.4 284.9h1.1v1.1h-1.1zM533.6 260.2h1.1v1.1h-1.1zM500.9 279.1h1.1v1.1h-1.1zM610.1 277.0h1.1v1.1h-1.1zM596.5 283.5h1.1v1.1h-1.1zM729.3 270.1h1.1v1.1h-1.1zM485.9 289.8h1.1v1.1h-1.1zM569.0 278.1h1.1v1.1h-1.1zM610.3 282.3h1.1v1.1h-1.1zM496.4 272.0h1.1v1.1h-1.1zM528.7 261.6h1.1v1.1h-1.1zM610.1 279.0h1.1v1.1h-1.1zM527.4 283.7h1.1v1.1h-1.1zM476.5 290.1h1.1v1.1h-1.1zM537.6 281.5h1.1v1.1h-1.1zM491.8 276.1h1.1v1.1h-1.1zM608.7 261.5h1.1v1.1h-1.1zM439.9 295.5h1.1v1.1h-1.1zM546.8 282.7h1.1v1.1h-1.1zM665.0 281.4h1.1v1.1h-1.1zM632.9 298.5h1.1v1.1h-1.1zM470.1 283.8h1.1v1.1h-1.1zM615.9 282.2h1.1v1.1h-1.1zM705.4 281.8h1.1v1.1h-1.1zM720.0 278.9h1.1v1.1h-1.1zM646.6 280.8h1.1v1.1h-1.1zM475.4 292.3h1.1v1.1h-1.1zM569.2 272.6h1.1v1.1h-1.1zM581.6 294.1h1.1v1.1h-1.1zM613.9 268.3h1.1v1.1h-1.1zM599.1 281.2h1.1v1.1h-1.1zM607.2 290.9h1.1v1.1h-1.1zM515.8 274.5h1.1v1.1h-1.1zM526.3 276.0h1.1v1.1h-1.1zM467.1 304.4h1.1v1.1h-1.1zM495.2 277.2h1.1v1.1h-1.1zM683.6 287.8h1.1v1.1h-1.1zM573.1 287.8h1.1v1.1h-1.1zM454.6 274.1h1.1v1.1h-1.1zM615.3 289.4h1.1v1.1h-1.1zM506.3 283.3h1.1v1.1h-1.1zM638.2 279.0h1.1v1.1h-1.1zM473.8 275.4h1.1v1.1h-1.1zM489.1 290.0h1.1v1.1h-1.1zM440.7 279.1h1.1v1.1h-1.1zM689.2 270.5h1.1v1.1h-1.1zM525.0 277.3h1.1v1.1h-1.1zM661.2 288.6h1.1v1.1h-1.1zM495.4 282.0h1.1v1.1h-1.1zM524.4 293.8h1.1v1.1h-1.1zM533.2 268.7h1.1v1.1h-1.1zM696.1 292.3h1.1v1.1h-1.1zM618.3 286.9h1.1v1.1h-1.1zM601.2 289.5h1.1v1.1h-1.1zM711.4 289.5h1.1v1.1h-1.1zM458.1 288.4h1.1v1.1h-1.1zM616.1 291.5h1.1v1.1h-1.1zM565.8 277.7h1.1v1.1h-1.1zM608.5 279.1h1.1v1.1h-1.1zM582.2 288.6h1.1v1.1h-1.1zM595.2 280.6h1.1v1.1h-1.1zM612.3 282.6h1.1v1.1h-1.1zM440.9 271.5h1.1v1.1h-1.1zM630.2 289.2h1.1v1.1h-1.1zM622.8 277.9h1.1v1.1h-1.1zM681.9 285.3h1.1v1.1h-1.1zM667.9 288.4h1.1v1.1h-1.1zM453.1 285.0h1.1v1.1h-1.1zM554.8 287.9h1.1v1.1h-1.1zM625.3 284.5h1.1v1.1h-1.1zM656.2 283.5h1.1v1.1h-1.1zM443.9 282.7h1.1v1.1h-1.1zM633.6 274.1h1.1v1.1h-1.1zM568.8 293.1h1.1v1.1h-1.1zM597.8 279.0h1.1v1.1h-1.1zM672.9 283.4h1.1v1.1h-1.1zM693.9 298.3h1.1v1.1h-1.1zM725.0 272.6h1.1v1.1h-1.1zM533.7 281.7h1.1v1.1h-1.1zM666.0 293.5h1.1v1.1h-1.1zM599.5 263.5h1.1v1.1h-1.1zM592.9 291.8h1.1v1.1h-1.1zM450.8 280.1h1.1v1.1h-1.1zM459.5 289.5h1.1v1.1h-1.1zM629.8 276.0h1.1v1.1h-1.1zM496.5 260.1h1.1v1.1h-1.1zM654.7 278.9h1.1v1.1h-1.1zM559.3 282.8h1.1v1.1h-1.1zM446.8 267.4h1.1v1.1h-1.1zM553.6 275.0h1.1v1.1h-1.1zM477.8 274.2h1.1v1.1h-1.1zM466.8 287.2h1.1v1.1h-1.1zM682.6 288.6h1.1v1.1h-1.1zM508.3 283.4h1.1v1.1h-1.1zM616.2 299.4h1.1v1.1h-1.1zM585.6 275.0h1.1v1.1h-1.1zM528.2 277.2h1.1v1.1h-1.1zM449.0 283.0h1.1v1.1h-1.1zM531.1 278.8h1.1v1.1h-1.1zM571.6 274.0h1.1v1.1h-1.1zM466.4 279.2h1.1v1.1h-1.1zM708.3 278.0h1.1v1.1h-1.1zM584.7 284.4h1.1v1.1h-1.1zM508.1 290.5h1.1v1.1h-1.1zM668.8 297.2h1.1v1.1h-1.1zM581.2 287.5h1.1v1.1h-1.1zM467.1 265.9h1.1v1.1h-1.1zM515.2 277.6h1.1v1.1h-1.1zM693.0 283.1h1.1v1.1h-1.1zM510.5 283.1h1.1v1.1h-1.1zM574.0 275.1h1.1v1.1h-1.1zM646.4 271.5h1.1v1.1h-1.1zM684.3 281.8h1.1v1.1h-1.1zM547.1 277.4h1.1v1.1h-1.1zM533.0 279.4h1.1v1.1h-1.1zM568.8 285.3h1.1v1.1h-1.1zM566.8 296.9h1.1v1.1h-1.1zM519.0 272.5h1.1v1.1h-1.1zM633.6 290.3h1.1v1.1h-1.1zM659.2 291.1h1.1v1.1h-1.1zM708.3 287.8h1.1v1.1h-1.1zM508.7 258.6h1.1v1.1h-1.1zM558.5 285.0h1.1v1.1h-1.1zM674.0 286.1h1.1v1.1h-1.1zM631.1 277.4h1.1v1.1h-1.1zM460.5 286.5h1.1v1.1h-1.1zM568.7 278.1h1.1v1.1h-1.1zM606.0 280.0h1.1v1.1h-1.1zM443.8 264.0h1.1v1.1h-1.1zM551.0 275.9h1.1v1.1h-1.1zM547.6 279.4h1.1v1.1h-1.1zM561.2 293.0h1.1v1.1h-1.1zM619.0 264.3h1.1v1.1h-1.1zM478.3 300.6h1.1v1.1h-1.1zM565.4 303.5h1.1v1.1h-1.1zM595.4 267.6h1.1v1.1h-1.1zM575.4 283.1h1.1v1.1h-1.1zM655.9 275.5h1.1v1.1h-1.1zM688.5 284.6h1.1v1.1h-1.1zM541.2 296.0h1.1v1.1h-1.1zM729.2 266.6h1.1v1.1h-1.1zM620.4 273.0h1.1v1.1h-1.1zM662.9 283.6h1.1v1.1h-1.1zM596.6 292.7h1.1v1.1h-1.1zM453.4 275.2h1.1v1.1h-1.1zM486.6 281.7h1.1v1.1h-1.1zM610.1 292.7h1.1v1.1h-1.1zM625.6 279.2h1.1v1.1h-1.1zM530.5 277.3h1.1v1.1h-1.1zM488.0 280.0h1.1v1.1h-1.1zM666.6 275.4h1.1v1.1h-1.1zM515.3 266.6h1.1v1.1h-1.1zM672.9 285.3h1.1v1.1h-1.1zM481.7 266.6h1.1v1.1h-1.1zM638.9 275.3h1.1v1.1h-1.1zM472.6 283.5h1.1v1.1h-1.1zM466.7 296.9h1.1v1.1h-1.1zM724.4 292.7h1.1v1.1h-1.1zM503.2 277.0h1.1v1.1h-1.1zM524.9 282.2h1.1v1.1h-1.1zM490.2 277.6h1.1v1.1h-1.1zM687.5 272.3h1.1v1.1h-1.1zM631.3 297.7h1.1v1.1h-1.1zM676.9 285.5h1.1v1.1h-1.1zM697.9 285.0h1.1v1.1h-1.1zM646.3 272.7h1.1v1.1h-1.1zM440.1 290.0h1.1v1.1h-1.1zM490.8 280.2h1.1v1.1h-1.1zM631.0 276.8h1.1v1.1h-1.1zM632.3 289.9h1.1v1.1h-1.1zM611.1 295.1h1.1v1.1h-1.1zM507.2 290.4h1.1v1.1h-1.1zM495.7 275.8h1.1v1.1h-1.1zM577.3 276.1h1.1v1.1h-1.1zM514.2 278.5h1.1v1.1h-1.1zM597.8 280.1h1.1v1.1h-1.1zM693.3 278.5h1.1v1.1h-1.1zM616.2 273.1h1.1v1.1h-1.1zM719.9 293.3h1.1v1.1h-1.1zM599.9 287.5h1.1v1.1h-1.1zM587.2 283.1h1.1v1.1h-1.1zM716.7 302.5h1.1v1.1h-1.1zM690.3 279.4h1.1v1.1h-1.1zM481.2 261.3h1.1v1.1h-1.1zM714.4 273.4h1.1v1.1h-1.1zM639.5 278.8h1.1v1.1h-1.1zM473.0 287.4h1.1v1.1h-1.1zM456.7 293.1h1.1v1.1h-1.1zM713.6 271.3h1.1v1.1h-1.1zM566.1 292.3h1.1v1.1h-1.1zM728.9 290.8h1.1v1.1h-1.1zM611.2 290.3h1.1v1.1h-1.1zM533.9 288.0h1.1v1.1h-1.1zM628.3 283.1h1.1v1.1h-1.1zM606.9 287.5h1.1v1.1h-1.1zM694.0 280.2h1.1v1.1h-1.1zM696.8 291.0h1.1v1.1h-1.1zM475.2 269.6h1.1v1.1h-1.1zM522.3 284.6h1.1v1.1h-1.1zM530.4 286.3h1.1v1.1h-1.1zM546.3 290.1h1.1v1.1h-1.1zM583.8 286.1h1.1v1.1h-1.1zM676.2 287.8h1.1v1.1h-1.1zM710.3 279.5h1.1v1.1h-1.1zM515.6 278.8h1.1v1.1h-1.1zM521.1 285.5h1.1v1.1h-1.1zM719.0 275.8h1.1v1.1h-1.1zM712.2 285.9h1.1v1.1h-1.1zM604.0 287.5h1.1v1.1h-1.1zM587.4 284.4h1.1v1.1h-1.1zM721.3 290.9h1.1v1.1h-1.1zM488.8 283.0h1.1v1.1h-1.1zM574.8 298.6h1.1v1.1h-1.1zM711.6 284.5h1.1v1.1h-1.1zM703.9 293.6h1.1v1.1h-1.1zM485.7 286.7h1.1v1.1h-1.1zM638.9 260.4h1.1v1.1h-1.1zM670.3 283.9h1.1v1.1h-1.1zM465.8 282.5h1.1v1.1h-1.1zM472.8 279.2h1.1v1.1h-1.1zM526.9 275.4h1.1v1.1h-1.1zM454.1 277.6h1.1v1.1h-1.1zM628.6 279.1h1.1v1.1h-1.1zM482.3 288.7h1.1v1.1h-1.1zM659.8 294.7h1.1v1.1h-1.1zM632.5 271.1h1.1v1.1h-1.1zM507.8 268.1h1.1v1.1h-1.1zM591.2 293.5h1.1v1.1h-1.1zM712.9 273.1h1.1v1.1h-1.1zM447.4 271.6h1.1v1.1h-1.1zM680.3 291.7h1.1v1.1h-1.1zM497.6 266.3h1.1v1.1h-1.1zM568.7 286.9h1.1v1.1h-1.1zM568.3 283.4h1.1v1.1h-1.1zM595.8 281.7h1.1v1.1h-1.1zM714.3 294.3h1.1v1.1h-1.1zM513.0 271.7h1.1v1.1h-1.1zM456.6 278.5h1.1v1.1h-1.1zM521.6 264.1h1.1v1.1h-1.1zM575.2 293.4h1.1v1.1h-1.1zM597.3 292.4h1.1v1.1h-1.1zM640.2 307.7h1.1v1.1h-1.1zM593.5 281.0h1.1v1.1h-1.1zM534.6 272.3h1.1v1.1h-1.1zM478.5 298.8h1.1v1.1h-1.1zM460.8 269.6h1.1v1.1h-1.1zM548.7 271.6h1.1v1.1h-1.1zM522.3 287.9h1.1v1.1h-1.1zM632.7 300.5h1.1v1.1h-1.1zM554.9 283.5h1.1v1.1h-1.1zM681.5 286.7h1.1v1.1h-1.1zM657.7 277.9h1.1v1.1h-1.1zM554.5 280.9h1.1v1.1h-1.1zM649.3 276.7h1.1v1.1h-1.1zM641.5 278.4h1.1v1.1h-1.1zM543.4 272.0h1.1v1.1h-1.1zM497.0 272.4h1.1v1.1h-1.1zM647.7 280.1h1.1v1.1h-1.1zM525.4 289.7h1.1v1.1h-1.1zM620.3 304.5h1.1v1.1h-1.1zM565.4 296.5h1.1v1.1h-1.1zM650.1 280.0h1.1v1.1h-1.1zM626.0 280.0h1.1v1.1h-1.1zM535.6 287.8h1.1v1.1h-1.1zM472.2 257.7h1.1v1.1h-1.1zM450.0 291.9h1.1v1.1h-1.1zM603.5 269.9h1.1v1.1h-1.1zM457.9 289.1h1.1v1.1h-1.1zM555.5 295.3h1.1v1.1h-1.1zM506.0 282.9h1.1v1.1h-1.1zM441.0 278.0h1.1v1.1h-1.1zM719.7 293.1h1.1v1.1h-1.1zM700.5 278.1h1.1v1.1h-1.1zM497.5 284.4h1.1v1.1h-1.1zM701.6 289.1h1.1v1.1h-1.1zM632.2 299.3h1.1v1.1h-1.1zM489.7 283.2h1.1v1.1h-1.1zM604.7 289.6h1.1v1.1h-1.1zM688.0 283.6h1.1v1.1h-1.1zM601.3 284.0h1.1v1.1h-1.1zM507.4 283.8h1.1v1.1h-1.1zM634.4 269.6h1.1v1.1h-1.1zM460.8 289.0h1.1v1.1h-1.1zM614.5 281.0h1.1v1.1h-1.1zM723.0 292.8h1.1v1.1h-1.1zM521.6 277.8h1.1v1.1h-1.1zM590.8 285.2h1.1v1.1h-1.1zM662.6 286.6h1.1v1.1h-1.1zM526.9 285.8h1.1v1.1h-1.1zM491.9 281.2h1.1v1.1h-1.1zM629.9 278.9h1.1v1.1h-1.1zM661.1 271.6h1.1v1.1h-1.1zM702.2 289.9h1.1v1.1h-1.1zM570.2 278.2h1.1v1.1h-1.1zM567.1 284.2h1.1v1.1h-1.1zM501.2 274.8h1.1v1.1h-1.1zM509.6 270.9h1.1v1.1h-1.1zM610.8 292.0h1.1v1.1h-1.1zM439.3 294.3h1.1v1.1h-1.1zM598.1 281.9h1.1v1.1h-1.1zM623.6 291.7h1.1v1.1h-1.1zM698.8 302.7h1.1v1.1h-1.1zM595.0 292.2h1.1v1.1h-1.1zM463.1 273.4h1.1v1.1h-1.1zM683.1 299.1h1.1v1.1h-1.1zM636.5 291.5h1.1v1.1h-1.1zM539.2 281.1h1.1v1.1h-1.1zM684.5 273.4h1.1v1.1h-1.1zM680.6 282.5h1.1v1.1h-1.1zM638.6 284.5h1.1v1.1h-1.1zM475.8 294.0h1.1v1.1h-1.1zM604.5 284.6h1.1v1.1h-1.1zM551.2 283.8h1.1v1.1h-1.1zM457.1 277.3h1.1v1.1h-1.1zM626.9 276.0h1.1v1.1h-1.1zM727.7 270.5h1.1v1.1h-1.1zM692.6 253.3h1.1v1.1h-1.1zM507.9 312.9h1.1v1.1h-1.1zM483.1 273.5h1.1v1.1h-1.1zM668.0 272.7h1.1v1.1h-1.1zM696.7 282.6h1.1v1.1h-1.1zM599.8 302.9h1.1v1.1h-1.1zM682.3 290.1h1.1v1.1h-1.1zM587.3 262.8h1.1v1.1h-1.1zM602.7 265.3h1.1v1.1h-1.1zM592.1 290.4h1.1v1.1h-1.1zM711.1 280.3h1.1v1.1h-1.1zM594.0 267.9h1.1v1.1h-1.1zM638.2 281.8h1.1v1.1h-1.1zM451.0 281.2h1.1v1.1h-1.1zM694.2 282.6h1.1v1.1h-1.1zM694.1 274.4h1.1v1.1h-1.1zM594.0 296.9h1.1v1.1h-1.1zM528.9 278.3h1.1v1.1h-1.1zM531.0 294.0h1.1v1.1h-1.1zM726.1 267.3h1.1v1.1h-1.1zM535.8 284.2h1.1v1.1h-1.1zM712.0 285.6h1.1v1.1h-1.1zM451.2 276.6h1.1v1.1h-1.1zM559.0 275.1h1.1v1.1h-1.1zM608.4 299.3h1.1v1.1h-1.1zM631.0 284.9h1.1v1.1h-1.1zM665.1 284.2h1.1v1.1h-1.1zM557.7 283.2h1.1v1.1h-1.1zM547.5 271.7h1.1v1.1h-1.1zM581.2 285.1h1.1v1.1h-1.1zM439.2 300.1h1.1v1.1h-1.1zM681.4 292.4h1.1v1.1h-1.1zM586.5 282.1h1.1v1.1h-1.1zM497.6 288.3h1.1v1.1h-1.1zM632.1 268.8h1.1v1.1h-1.1zM606.2 295.7h1.1v1.1h-1.1zM603.9 268.6h1.1v1.1h-1.1zM497.7 277.2h1.1v1.1h-1.1zM498.4 271.6h1.1v1.1h-1.1zM562.2 316.9h1.1v1.1h-1.1zM637.3 275.0h1.1v1.1h-1.1zM712.7 277.6h1.1v1.1h-1.1zM548.7 280.4h1.1v1.1h-1.1zM686.8 291.1h1.1v1.1h-1.1zM537.4 277.1h1.1v1.1h-1.1zM520.6 267.3h1.1v1.1h-1.1zM557.7 282.6h1.1v1.1h-1.1zM603.0 270.7h1.1v1.1h-1.1zM616.8 282.0h1.1v1.1h-1.1zM612.7 276.7h1.1v1.1h-1.1zM507.9 291.4h1.1v1.1h-1.1zM575.0 256.6h1.1v1.1h-1.1zM726.1 293.7h1.1v1.1h-1.1zM489.7 275.7h1.1v1.1h-1.1zM633.2 278.4h1.1v1.1h-1.1zM618.4 281.0h1.1v1.1h-1.1zM470.4 288.5h1.1v1.1h-1.1zM538.3 275.3h1.1v1.1h-1.1zM474.3 286.0h1.1v1.1h-1.1zM477.8 284.8h1.1v1.1h-1.1zM478.5 260.1h1.1v1.1h-1.1zM712.7 283.8h1.1v1.1h-1.1zM512.5 282.8h1.1v1.1h-1.1zM634.1 290.6h1.1v1.1h-1.1zM526.3 274.6h1.1v1.1h-1.1zM587.2 300.5h1.1v1.1h-1.1zM703.3 276.1h1.1v1.1h-1.1zM538.4 277.6h1.1v1.1h-1.1zM663.4 280.6h1.1v1.1h-1.1zM667.9 284.3h1.1v1.1h-1.1zM679.8 272.3h1.1v1.1h-1.1zM535.2 293.7h1.1v1.1h-1.1zM477.4 291.6h1.1v1.1h-1.1zM625.3 273.9h1.1v1.1h-1.1zM488.0 281.2h1.1v1.1h-1.1zM610.2 278.9h1.1v1.1h-1.1zM611.6 284.4h1.1v1.1h-1.1zM696.7 277.2h1.1v1.1h-1.1zM647.0 276.6h1.1v1.1h-1.1zM679.4 262.5h1.1v1.1h-1.1zM625.7 284.6h1.1v1.1h-1.1zM560.5 271.3h1.1v1.1h-1.1zM447.9 282.9h1.1v1.1h-1.1zM675.0 266.1h1.1v1.1h-1.1zM542.5 286.0h1.1v1.1h-1.1zM623.5 275.1h1.1v1.1h-1.1zM698.0 290.1h1.1v1.1h-1.1zM560.0 273.6h1.1v1.1h-1.1zM680.8 301.9h1.1v1.1h-1.1zM711.9 277.2h1.1v1.1h-1.1zM547.2 284.3h1.1v1.1h-1.1zM448.2 292.0h1.1v1.1h-1.1zM671.2 295.9h1.1v1.1h-1.1zM567.4 272.6h1.1v1.1h-1.1zM680.3 277.6h1.1v1.1h-1.1zM671.7 285.7h1.1v1.1h-1.1zM722.3 274.5h1.1v1.1h-1.1zM467.0 289.7h1.1v1.1h-1.1zM564.7 279.5h1.1v1.1h-1.1zM629.3 287.4h1.1v1.1h-1.1zM506.0 266.7h1.1v1.1h-1.1zM558.2 288.4h1.1v1.1h-1.1zM549.9 282.9h1.1v1.1h-1.1zM563.8 291.0h1.1v1.1h-1.1zM674.9 265.2h1.1v1.1h-1.1zM554.1 282.9h1.1v1.1h-1.1zM690.1 301.4h1.1v1.1h-1.1zM604.7 301.4h1.1v1.1h-1.1zM534.3 280.8h1.1v1.1h-1.1zM501.3 278.2h1.1v1.1h-1.1zM604.3 284.5h1.1v1.1h-1.1zM510.0 276.6h1.1v1.1h-1.1zM478.7 277.9h1.1v1.1h-1.1zM517.0 283.5h1.1v1.1h-1.1zM634.0 254.6h1.1v1.1h-1.1zM657.1 275.1h1.1v1.1h-1.1zM496.6 272.3h1.1v1.1h-1.1zM460.8 269.7h1.1v1.1h-1.1zM604.9 280.2h1.1v1.1h-1.1zM609.6 299.1h1.1v1.1h-1.1zM607.2 259.9h1.1v1.1h-1.1zM532.6 280.7h1.1v1.1h-1.1zM623.9 282.8h1.1v1.1h-1.1zM664.8 282.0h1.1v1.1h-1.1zM604.3 278.7h1.1v1.1h-1.1zM520.4 275.1h1.1v1.1h-1.1zM615.5 282.4h1.1v1.1h-1.1zM485.1 275.0h1.1v1.1h-1.1zM544.0 268.9h1.1v1.1h-1.1zM482.3 282.3h1.1v1.1h-1.1zM559.9 287.0h1.1v1.1h-1.1zM634.1 279.4h1.1v1.1h-1.1zM648.1 282.9h1.1v1.1h-1.1zM721.1 274.8h1.1v1.1h-1.1zM497.4 285.9h1.1v1.1h-1.1zM582.4 278.2h1.1v1.1h-1.1zM517.2 274.6h1.1v1.1h-1.1zM685.9 292.0h1.1v1.1h-1.1zM639.5 285.2h1.1v1.1h-1.1zM472.3 277.1h1.1v1.1h-1.1zM717.7 281.5h1.1v1.1h-1.1zM487.8 289.4h1.1v1.1h-1.1zM652.5 283.3h1.1v1.1h-1.1zM687.8 262.1h1.1v1.1h-1.1zM549.0 261.2h1.1v1.1h-1.1zM612.2 255.6h1.1v1.1h-1.1zM722.4 303.3h1.1v1.1h-1.1zM654.6 290.9h1.1v1.1h-1.1zM651.7 284.1h1.1v1.1h-1.1zM512.5 286.4h1.1v1.1h-1.1zM666.8 277.9h1.1v1.1h-1.1zM619.2 274.5h1.1v1.1h-1.1zM513.8 287.2h1.1v1.1h-1.1zM686.2 290.7h1.1v1.1h-1.1zM580.8 279.3h1.1v1.1h-1.1zM529.8 266.7h1.1v1.1h-1.1zM462.9 289.9h1.1v1.1h-1.1zM563.4 275.1h1.1v1.1h-1.1zM562.2 284.5h1.1v1.1h-1.1zM578.7 278.9h1.1v1.1h-1.1zM680.9 280.8h1.1v1.1h-1.1zM539.1 287.6h1.1v1.1h-1.1zM546.0 283.6h1.1v1.1h-1.1zM701.7 293.1h1.1v1.1h-1.1zM444.9 296.2h1.1v1.1h-1.1zM578.5 282.4h1.1v1.1h-1.1zM569.9 279.9h1.1v1.1h-1.1zM588.8 276.8h1.1v1.1h-1.1zM717.9 286.2h1.1v1.1h-1.1zM707.0 281.2h1.1v1.1h-1.1zM639.1 278.5h1.1v1.1h-1.1zM514.8 269.4h1.1v1.1h-1.1zM571.8 282.2h1.1v1.1h-1.1zM549.3 282.4h1.1v1.1h-1.1zM490.4 281.4h1.1v1.1h-1.1zM702.5 268.1h1.1v1.1h-1.1zM714.5 292.5h1.1v1.1h-1.1zM689.7 287.8h1.1v1.1h-1.1zM496.0 277.9h1.1v1.1h-1.1zM624.9 278.6h1.1v1.1h-1.1zM514.5 291.2h1.1v1.1h-1.1zM671.4 289.1h1.1v1.1h-1.1zM633.1 286.1h1.1v1.1h-1.1zM535.4 271.7h1.1v1.1h-1.1zM650.8 278.2h1.1v1.1h-1.1zM461.0 290.8h1.1v1.1h-1.1zM551.7 303.1h1.1v1.1h-1.1zM651.7 274.0h1.1v1.1h-1.1zM722.1 273.1h1.1v1.1h-1.1zM632.0 284.5h1.1v1.1h-1.1zM701.8 274.9h1.1v1.1h-1.1zM488.4 287.4h1.1v1.1h-1.1zM549.6 284.3h1.1v1.1h-1.1zM499.4 301.8h1.1v1.1h-1.1zM653.2 275.4h1.1v1.1h-1.1zM674.9 291.6h1.1v1.1h-1.1zM702.6 274.9h1.1v1.1h-1.1zM521.8 278.9h1.1v1.1h-1.1zM547.0 294.3h1.1v1.1h-1.1zM604.0 272.3h1.1v1.1h-1.1zM726.6 273.1h1.1v1.1h-1.1zM482.6 285.0h1.1v1.1h-1.1zM659.0 285.4h1.1v1.1h-1.1zM560.6 289.3h1.1v1.1h-1.1zM620.0 283.1h1.1v1.1h-1.1zM522.0 270.2h1.1v1.1h-1.1zM673.1 276.4h1.1v1.1h-1.1zM647.8 282.4h1.1v1.1h-1.1zM555.8 282.0h1.1v1.1h-1.1zM479.2 278.1h1.1v1.1h-1.1zM693.5 273.8h1.1v1.1h-1.1zM694.0 280.8h1.1v1.1h-1.1zM513.5 275.6h1.1v1.1h-1.1zM673.1 275.5h1.1v1.1h-1.1zM600.0 301.1h1.1v1.1h-1.1zM690.0 304.7h1.1v1.1h-1.1zM558.5 284.3h1.1v1.1h-1.1zM446.5 279.7h1.1v1.1h-1.1zM526.4 290.8h1.1v1.1h-1.1zM611.4 279.3h1.1v1.1h-1.1zM522.3 268.7h1.1v1.1h-1.1zM542.8 276.6h1.1v1.1h-1.1zM569.3 295.9h1.1v1.1h-1.1zM707.1 285.1h1.1v1.1h-1.1zM509.8 291.0h1.1v1.1h-1.1zM660.2 305.8h1.1v1.1h-1.1zM561.4 283.0h1.1v1.1h-1.1zM707.2 277.8h1.1v1.1h-1.1zM524.6 261.2h1.1v1.1h-1.1zM604.4 277.9h1.1v1.1h-1.1zM449.8 292.8h1.1v1.1h-1.1zM646.3 277.7h1.1v1.1h-1.1zM547.5 277.7h1.1v1.1h-1.1zM596.0 289.7h1.1v1.1h-1.1zM649.2 273.1h1.1v1.1h-1.1zM715.2 276.6h1.1v1.1h-1.1zM515.7 260.5h1.1v1.1h-1.1zM568.0 280.5h1.1v1.1h-1.1zM605.0 291.1h1.1v1.1h-1.1zM595.7 299.8h1.1v1.1h-1.1zM545.3 268.8h1.1v1.1h-1.1zM671.8 288.7h1.1v1.1h-1.1zM574.3 278.0h1.1v1.1h-1.1zM685.3 284.8h1.1v1.1h-1.1zM486.6 276.8h1.1v1.1h-1.1zM526.2 265.8h1.1v1.1h-1.1zM622.9 282.9h1.1v1.1h-1.1zM694.1 273.0h1.1v1.1h-1.1zM593.6 276.2h1.1v1.1h-1.1zM515.8 287.7h1.1v1.1h-1.1zM480.5 270.9h1.1v1.1h-1.1zM682.0 291.0h1.1v1.1h-1.1zM572.4 279.9h1.1v1.1h-1.1zM468.0 288.9h1.1v1.1h-1.1zM564.3 302.7h1.1v1.1h-1.1zM546.3 283.4h1.1v1.1h-1.1zM503.6 277.2h1.1v1.1h-1.1zM482.1 293.1h1.1v1.1h-1.1zM463.3 279.5h1.1v1.1h-1.1zM648.2 283.2h1.1v1.1h-1.1zM498.6 284.5h1.1v1.1h-1.1zM574.4 277.4h1.1v1.1h-1.1zM642.8 289.6h1.1v1.1h-1.1zM610.8 275.3h1.1v1.1h-1.1zM697.9 283.8h1.1v1.1h-1.1zM502.3 280.5h1.1v1.1h-1.1zM714.7 292.3h1.1v1.1h-1.1zM525.3 274.1h1.1v1.1h-1.1zM553.2 275.7h1.1v1.1h-1.1zM555.8 285.2h1.1v1.1h-1.1zM618.8 272.8h1.1v1.1h-1.1zM636.5 278.6h1.1v1.1h-1.1zM520.2 269.4h1.1v1.1h-1.1zM653.8 268.2h1.1v1.1h-1.1zM522.1 261.0h1.1v1.1h-1.1zM621.2 274.5h1.1v1.1h-1.1zM722.8 276.7h1.1v1.1h-1.1zM470.9 277.1h1.1v1.1h-1.1zM585.3 283.3h1.1v1.1h-1.1zM578.4 294.8h1.1v1.1h-1.1zM628.6 275.4h1.1v1.1h-1.1zM621.8 277.8h1.1v1.1h-1.1zM513.0 284.0h1.1v1.1h-1.1zM558.3 281.5h1.1v1.1h-1.1zM712.8 277.0h1.1v1.1h-1.1zM718.0 264.4h1.1v1.1h-1.1zM448.4 291.0h1.1v1.1h-1.1zM496.0 268.8h1.1v1.1h-1.1zM543.8 281.9h1.1v1.1h-1.1zM497.2 300.7h1.1v1.1h-1.1zM445.0 280.7h1.1v1.1h-1.1zM655.9 280.1h1.1v1.1h-1.1zM489.4 278.6h1.1v1.1h-1.1zM537.1 268.5h1.1v1.1h-1.1zM697.8 288.7h1.1v1.1h-1.1zM676.1 285.0h1.1v1.1h-1.1zM639.7 263.8h1.1v1.1h-1.1zM569.2 280.9h1.1v1.1h-1.1zM583.2 284.9h1.1v1.1h-1.1zM693.3 274.9h1.1v1.1h-1.1zM728.0 286.0h1.1v1.1h-1.1zM629.7 279.6h1.1v1.1h-1.1zM716.4 267.3h1.1v1.1h-1.1zM528.4 279.0h1.1v1.1h-1.1zM520.8 299.2h1.1v1.1h-1.1zM440.7 283.4h1.1v1.1h-1.1zM498.2 283.3h1.1v1.1h-1.1zM570.2 294.4h1.1v1.1h-1.1zM657.2 280.4h1.1v1.1h-1.1zM505.4 287.4h1.1v1.1h-1.1zM542.7 283.9h1.1v1.1h-1.1zM593.7 284.0h1.1v1.1h-1.1zM551.6 261.9h1.1v1.1h-1.1zM489.0 279.5h1.1v1.1h-1.1zM720.5 290.1h1.1v1.1h-1.1zM582.6 278.9h1.1v1.1h-1.1zM718.6 285.9h1.1v1.1h-1.1zM566.7 286.8h1.1v1.1h-1.1zM518.4 273.1h1.1v1.1h-1.1zM512.5 280.1h1.1v1.1h-1.1zM663.8 292.6h1.1v1.1h-1.1zM487.8 289.8h1.1v1.1h-1.1zM517.0 274.7h1.1v1.1h-1.1zM629.1 287.3h1.1v1.1h-1.1zM495.9 278.8h1.1v1.1h-1.1zM660.8 284.9h1.1v1.1h-1.1zM541.4 275.4h1.1v1.1h-1.1zM496.8 276.0h1.1v1.1h-1.1zM617.1 285.1h1.1v1.1h-1.1zM521.3 274.8h1.1v1.1h-1.1zM544.9 297.6h1.1v1.1h-1.1zM712.7 282.9h1.1v1.1h-1.1zM558.3 276.9h1.1v1.1h-1.1zM652.9 288.1h1.1v1.1h-1.1zM715.8 287.9h1.1v1.1h-1.1zM675.7 278.0h1.1v1.1h-1.1zM681.0 271.7h1.1v1.1h-1.1zM634.4 279.5h1.1v1.1h-1.1zM514.1 282.0h1.1v1.1h-1.1zM718.8 270.9h1.1v1.1h-1.1zM479.3 296.1h1.1v1.1h-1.1zM480.9 288.3h1.1v1.1h-1.1zM674.8 280.9h1.1v1.1h-1.1zM620.7 285.8h1.1v1.1h-1.1zM483.6 293.5h1.1v1.1h-1.1zM673.0 275.2h1.1v1.1h-1.1zM646.6 271.9h1.1v1.1h-1.1zM569.9 272.6h1.1v1.1h-1.1zM639.8 284.6h1.1v1.1h-1.1zM691.0 302.5h1.1v1.1h-1.1zM468.2 296.1h1.1v1.1h-1.1zM583.5 280.6h1.1v1.1h-1.1zM591.5 286.9h1.1v1.1h-1.1zM480.1 287.4h1.1v1.1h-1.1zM473.1 285.5h1.1v1.1h-1.1zM492.8 277.5h1.1v1.1h-1.1zM527.0 283.4h1.1v1.1h-1.1zM444.4 294.6h1.1v1.1h-1.1zM516.3 287.5h1.1v1.1h-1.1zM540.7 290.3h1.1v1.1h-1.1zM485.9 285.5h1.1v1.1h-1.1zM500.2 287.3h1.1v1.1h-1.1zM714.1 291.7h1.1v1.1h-1.1zM507.0 264.0h1.1v1.1h-1.1zM530.5 272.1h1.1v1.1h-1.1zM725.4 267.6h1.1v1.1h-1.1zM603.3 278.1h1.1v1.1h-1.1zM606.9 274.7h1.1v1.1h-1.1zM647.4 283.2h1.1v1.1h-1.1zM672.1 299.9h1.1v1.1h-1.1zM553.2 282.2h1.1v1.1h-1.1zM677.0 283.7h1.1v1.1h-1.1zM484.9 267.8h1.1v1.1h-1.1zM475.5 275.9h1.1v1.1h-1.1zM652.3 287.5h1.1v1.1h-1.1zM668.1 275.2h1.1v1.1h-1.1zM604.3 281.1h1.1v1.1h-1.1zM622.5 268.4h1.1v1.1h-1.1zM712.4 279.7h1.1v1.1h-1.1zM643.6 292.5h1.1v1.1h-1.1zM477.7 303.5h1.1v1.1h-1.1zM671.7 283.1h1.1v1.1h-1.1zM601.7 285.7h1.1v1.1h-1.1zM677.5 278.0h1.1v1.1h-1.1zM631.6 295.6h1.1v1.1h-1.1zM639.7 280.2h1.1v1.1h-1.1zM644.5 278.1h1.1v1.1h-1.1zM677.7 273.8h1.1v1.1h-1.1zM661.4 270.2h1.1v1.1h-1.1zM597.2 286.9h1.1v1.1h-1.1zM551.0 273.1h1.1v1.1h-1.1zM719.7 270.1h1.1v1.1h-1.1zM460.8 286.4h1.1v1.1h-1.1zM617.9 275.5h1.1v1.1h-1.1zM462.1 277.2h1.1v1.1h-1.1zM711.7 290.4h1.1v1.1h-1.1zM710.1 299.2h1.1v1.1h-1.1zM629.8 281.2h1.1v1.1h-1.1zM615.3 297.5h1.1v1.1h-1.1zM643.4 259.3h1.1v1.1h-1.1zM552.9 288.2h1.1v1.1h-1.1zM513.3 264.8h1.1v1.1h-1.1zM607.1 300.4h1.1v1.1h-1.1zM517.5 281.6h1.1v1.1h-1.1zM699.7 295.3h1.1v1.1h-1.1zM670.5 279.4h1.1v1.1h-1.1zM675.8 276.8h1.1v1.1h-1.1zM706.2 291.1h1.1v1.1h-1.1zM447.9 292.2h1.1v1.1h-1.1zM629.3 278.9h1.1v1.1h-1.1zM439.1 281.3h1.1v1.1h-1.1zM683.8 297.7h1.1v1.1h-1.1zM671.9 279.3h1.1v1.1h-1.1zM444.0 296.5h1.1v1.1h-1.1zM555.8 285.0h1.1v1.1h-1.1zM522.7 274.0h1.1v1.1h-1.1zM718.8 289.8h1.1v1.1h-1.1zM568.3 283.2h1.1v1.1h-1.1zM651.7 287.1h1.1v1.1h-1.1zM590.5 286.6h1.1v1.1h-1.1zM598.3 300.1h1.1v1.1h-1.1zM544.8 277.2h1.1v1.1h-1.1zM534.9 267.3h1.1v1.1h-1.1zM452.9 296.9h1.1v1.1h-1.1zM670.8 292.2h1.1v1.1h-1.1zM670.7 287.6h1.1v1.1h-1.1zM649.1 279.0h1.1v1.1h-1.1zM657.6 263.5h1.1v1.1h-1.1zM591.5 282.2h1.1v1.1h-1.1zM555.1 278.8h1.1v1.1h-1.1zM720.3 284.2h1.1v1.1h-1.1zM530.2 281.8h1.1v1.1h-1.1zM520.1 276.2h1.1v1.1h-1.1zM712.7 288.8h1.1v1.1h-1.1zM598.4 290.2h1.1v1.1h-1.1zM660.4 305.3h1.1v1.1h-1.1zM653.5 284.9h1.1v1.1h-1.1zM603.9 270.9h1.1v1.1h-1.1zM501.2 265.6h1.1v1.1h-1.1zM547.5 281.9h1.1v1.1h-1.1zM605.2 295.0h1.1v1.1h-1.1zM529.7 280.6h1.1v1.1h-1.1zM563.7 296.2h1.1v1.1h-1.1zM447.5 251.8h1.1v1.1h-1.1zM504.4 283.0h1.1v1.1h-1.1zM627.2 279.5h1.1v1.1h-1.1zM666.4 270.9h1.1v1.1h-1.1zM710.3 280.5h1.1v1.1h-1.1zM554.2 280.6h1.1v1.1h-1.1zM449.2 310.4h1.1v1.1h-1.1zM480.5 288.2h1.1v1.1h-1.1zM544.6 276.5h1.1v1.1h-1.1zM468.0 287.2h1.1v1.1h-1.1zM532.7 278.7h1.1v1.1h-1.1zM454.2 284.5h1.1v1.1h-1.1zM621.3 276.6h1.1v1.1h-1.1zM619.8 268.3h1.1v1.1h-1.1zM672.7 286.6h1.1v1.1h-1.1zM529.8 280.4h1.1v1.1h-1.1zM444.9 294.3h1.1v1.1h-1.1zM669.2 288.4h1.1v1.1h-1.1zM725.4 283.0h1.1v1.1h-1.1zM529.3 282.2h1.1v1.1h-1.1zM586.1 273.4h1.1v1.1h-1.1zM470.4 272.8h1.1v1.1h-1.1zM539.3 269.2h1.1v1.1h-1.1zM553.4 291.1h1.1v1.1h-1.1zM591.4 276.0h1.1v1.1h-1.1zM643.8 274.2h1.1v1.1h-1.1zM596.0 278.3h1.1v1.1h-1.1zM669.1 271.8h1.1v1.1h-1.1zM657.1 267.0h1.1v1.1h-1.1zM495.1 274.3h1.1v1.1h-1.1zM500.3 287.4h1.1v1.1h-1.1zM498.6 269.7h1.1v1.1h-1.1zM443.8 289.9h1.1v1.1h-1.1zM505.7 273.7h1.1v1.1h-1.1zM684.7 292.2h1.1v1.1h-1.1zM539.0 286.0h1.1v1.1h-1.1zM701.9 278.4h1.1v1.1h-1.1zM603.4 280.1h1.1v1.1h-1.1zM518.4 275.4h1.1v1.1h-1.1zM662.6 285.5h1.1v1.1h-1.1zM701.2 295.3h1.1v1.1h-1.1zM491.8 294.0h1.1v1.1h-1.1zM508.4 269.3h1.1v1.1h-1.1zM563.9 265.8h1.1v1.1h-1.1zM466.3 286.1h1.1v1.1h-1.1zM563.0 285.1h1.1v1.1h-1.1zM527.8 275.9h1.1v1.1h-1.1zM504.9 288.3h1.1v1.1h-1.1zM542.0 291.5h1.1v1.1h-1.1zM461.0 290.1h1.1v1.1h-1.1zM585.8 293.0h1.1v1.1h-1.1zM620.8 298.0h1.1v1.1h-1.1zM467.9 278.9h1.1v1.1h-1.1zM649.2 254.3h1.1v1.1h-1.1zM554.7 266.2h1.1v1.1h-1.1zM613.3 286.7h1.1v1.1h-1.1zM703.1 289.3h1.1v1.1h-1.1zM530.2 297.8h1.1v1.1h-1.1zM500.8 273.6h1.1v1.1h-1.1zM464.2 284.8h1.1v1.1h-1.1zM706.1 298.7h1.1v1.1h-1.1zM688.9 269.2h1.1v1.1h-1.1zM694.0 281.4h1.1v1.1h-1.1zM572.5 291.5h1.1v1.1h-1.1zM631.8 280.4h1.1v1.1h-1.1zM629.8 276.7h1.1v1.1h-1.1zM691.5 271.9h1.1v1.1h-1.1zM471.9 296.1h1.1v1.1h-1.1zM629.0 274.7h1.1v1.1h-1.1zM522.7 267.8h1.1v1.1h-1.1zM498.8 275.6h1.1v1.1h-1.1zM704.3 294.2h1.1v1.1h-1.1zM623.0 273.9h1.1v1.1h-1.1zM572.7 314.3h1.1v1.1h-1.1zM544.4 271.2h1.1v1.1h-1.1zM470.4 282.5h1.1v1.1h-1.1zM533.4 274.3h1.1v1.1h-1.1zM452.8 294.8h1.1v1.1h-1.1zM626.8 279.3h1.1v1.1h-1.1zM495.3 296.2h1.1v1.1h-1.1zM690.5 280.8h1.1v1.1h-1.1zM483.8 269.4h1.1v1.1h-1.1zM602.5 289.2h1.1v1.1h-1.1zM663.5 277.9h1.1v1.1h-1.1zM452.6 284.3h1.1v1.1h-1.1zM540.9 281.1h1.1v1.1h-1.1zM539.3 285.7h1.1v1.1h-1.1zM527.7 267.1h1.1v1.1h-1.1zM482.2 301.3h1.1v1.1h-1.1zM624.1 287.9h1.1v1.1h-1.1zM447.0 282.5h1.1v1.1h-1.1zM678.7 295.9h1.1v1.1h-1.1zM643.4 271.2h1.1v1.1h-1.1zM495.7 282.8h1.1v1.1h-1.1zM516.7 290.9h1.1v1.1h-1.1zM564.8 282.1h1.1v1.1h-1.1zM548.6 271.4h1.1v1.1h-1.1zM687.4 291.8h1.1v1.1h-1.1zM455.0 290.0h1.1v1.1h-1.1zM526.9 277.1h1.1v1.1h-1.1zM493.4 277.3h1.1v1.1h-1.1zM540.9 269.9h1.1v1.1h-1.1zM631.8 290.8h1.1v1.1h-1.1zM643.5 289.8h1.1v1.1h-1.1zM548.3 285.1h1.1v1.1h-1.1zM463.3 295.8h1.1v1.1h-1.1zM689.3 273.2h1.1v1.1h-1.1zM513.4 281.6h1.1v1.1h-1.1zM648.3 288.5h1.1v1.1h-1.1zM582.8 293.1h1.1v1.1h-1.1zM513.3 283.9h1.1v1.1h-1.1zM716.6 280.1h1.1v1.1h-1.1zM443.2 282.9h1.1v1.1h-1.1zM563.2 279.9h1.1v1.1h-1.1zM497.8 273.9h1.1v1.1h-1.1zM685.9 298.8h1.1v1.1h-1.1zM664.4 281.8h1.1v1.1h-1.1zM668.4 286.5h1.1v1.1h-1.1zM520.3 293.7h1.1v1.1h-1.1zM527.9 281.7h1.1v1.1h-1.1zM487.1 273.7h1.1v1.1h-1.1zM450.6 294.9h1.1v1.1h-1.1zM635.9 269.8h1.1v1.1h-1.1zM624.7 284.6h1.1v1.1h-1.1zM461.0 289.7h1.1v1.1h-1.1zM440.0 271.5h1.1v1.1h-1.1zM567.7 291.8h1.1v1.1h-1.1zM504.9 270.3h1.1v1.1h-1.1zM614.9 286.3h1.1v1.1h-1.1zM562.9 288.1h1.1v1.1h-1.1zM615.6 281.0h1.1v1.1h-1.1zM645.4 267.9h1.1v1.1h-1.1zM482.5 279.0h1.1v1.1h-1.1zM516.3 274.5h1.1v1.1h-1.1zM499.3 283.7h1.1v1.1h-1.1zM667.6 272.1h1.1v1.1h-1.1zM449.4 289.2h1.1v1.1h-1.1zM669.6 278.7h1.1v1.1h-1.1zM533.1 281.8h1.1v1.1h-1.1zM513.4 295.0h1.1v1.1h-1.1zM691.1 280.3h1.1v1.1h-1.1zM452.3 285.2h1.1v1.1h-1.1zM455.2 288.8h1.1v1.1h-1.1zM519.7 264.5h1.1v1.1h-1.1zM526.3 280.6h1.1v1.1h-1.1zM574.0 284.6h1.1v1.1h-1.1zM626.0 274.6h1.1v1.1h-1.1zM643.0 280.5h1.1v1.1h-1.1zM535.0 282.7h1.1v1.1h-1.1zM685.0 283.1h1.1v1.1h-1.1zM471.1 285.1h1.1v1.1h-1.1zM476.0 283.0h1.1v1.1h-1.1zM648.5 290.7h1.1v1.1h-1.1zM680.1 282.0h1.1v1.1h-1.1zM729.3 283.6h1.1v1.1h-1.1zM694.7 291.9h1.1v1.1h-1.1zM619.1 284.7h1.1v1.1h-1.1zM678.6 286.1h1.1v1.1h-1.1zM719.5 274.3h1.1v1.1h-1.1zM561.3 287.6h1.1v1.1h-1.1zM579.2 302.4h1.1v1.1h-1.1zM674.0 281.0h1.1v1.1h-1.1zM441.5 286.2h1.1v1.1h-1.1zM545.4 279.1h1.1v1.1h-1.1zM618.5 277.4h1.1v1.1h-1.1zM662.3 268.0h1.1v1.1h-1.1zM671.4 293.2h1.1v1.1h-1.1zM459.6 274.0h1.1v1.1h-1.1zM550.9 284.7h1.1v1.1h-1.1zM506.2 275.4h1.1v1.1h-1.1zM457.4 279.2h1.1v1.1h-1.1zM463.7 289.5h1.1v1.1h-1.1zM491.9 276.2h1.1v1.1h-1.1zM492.3 289.2h1.1v1.1h-1.1zM555.9 291.6h1.1v1.1h-1.1zM593.1 300.6h1.1v1.1h-1.1zM586.3 286.0h1.1v1.1h-1.1zM700.1 278.9h1.1v1.1h-1.1zM560.9 260.9h1.1v1.1h-1.1zM693.2 279.8h1.1v1.1h-1.1zM690.6 276.9h1.1v1.1h-1.1zM605.2 290.8h1.1v1.1h-1.1zM715.9 275.0h1.1v1.1h-1.1zM475.5 290.4h1.1v1.1h-1.1zM687.8 272.6h1.1v1.1h-1.1zM504.4 296.0h1.1v1.1h-1.1zM523.0 303.9h1.1v1.1h-1.1zM653.4 284.5h1.1v1.1h-1.1zM567.7 285.0h1.1v1.1h-1.1zM685.6 285.4h1.1v1.1h-1.1zM632.8 292.3h1.1v1.1h-1.1zM664.2 274.3h1.1v1.1h-1.1zM678.2 279.7h1.1v1.1h-1.1zM554.3 274.1h1.1v1.1h-1.1zM604.2 277.7h1.1v1.1h-1.1zM472.5 288.0h1.1v1.1h-1.1zM445.3 281.3h1.1v1.1h-1.1zM544.8 290.5h1.1v1.1h-1.1zM705.8 294.3h1.1v1.1h-1.1zM662.5 273.4h1.1v1.1h-1.1zM595.5 270.5h1.1v1.1h-1.1zM698.2 271.0h1.1v1.1h-1.1zM699.6 284.1h1.1v1.1h-1.1zM716.4 271.2h1.1v1.1h-1.1zM610.7 285.8h1.1v1.1h-1.1zM522.8 278.5h1.1v1.1h-1.1zM523.5 262.8h1.1v1.1h-1.1zM531.5 264.3h1.1v1.1h-1.1zM660.9 270.1h1.1v1.1h-1.1zM579.9 276.0h1.1v1.1h-1.1zM507.4 283.7h1.1v1.1h-1.1zM691.8 278.9h1.1v1.1h-1.1zM708.1 278.0h1.1v1.1h-1.1zM479.8 271.0h1.1v1.1h-1.1zM443.5 290.3h1.1v1.1h-1.1zM695.0 272.3h1.1v1.1h-1.1zM487.5 271.0h1.1v1.1h-1.1zM570.5 286.9h1.1v1.1h-1.1zM585.7 275.4h1.1v1.1h-1.1zM502.9 274.4h1.1v1.1h-1.1zM709.3 287.0h1.1v1.1h-1.1zM657.1 287.8h1.1v1.1h-1.1zM466.0 287.8h1.1v1.1h-1.1zM551.4 285.2h1.1v1.1h-1.1zM566.7 270.9h1.1v1.1h-1.1zM474.1 272.6h1.1v1.1h-1.1zM527.8 278.7h1.1v1.1h-1.1zM439.8 282.1h1.1v1.1h-1.1zM529.1 290.2h1.1v1.1h-1.1zM477.0 280.2h1.1v1.1h-1.1zM676.2 279.6h1.1v1.1h-1.1zM546.9 274.7h1.1v1.1h-1.1zM521.9 274.0h1.1v1.1h-1.1zM543.4 303.4h1.1v1.1h-1.1zM486.4 280.7h1.1v1.1h-1.1zM690.6 295.5h1.1v1.1h-1.1zM593.4 273.7h1.1v1.1h-1.1zM616.6 289.7h1.1v1.1h-1.1zM726.2 272.5h1.1v1.1h-1.1zM559.5 296.9h1.1v1.1h-1.1zM545.0 274.8h1.1v1.1h-1.1zM621.9 293.1h1.1v1.1h-1.1zM673.0 270.3h1.1v1.1h-1.1zM688.7 293.3h1.1v1.1h-1.1zM659.9 287.6h1.1v1.1h-1.1zM603.9 284.0h1.1v1.1h-1.1zM682.5 282.0h1.1v1.1h-1.1zM508.6 272.5h1.1v1.1h-1.1zM477.3 277.9h1.1v1.1h-1.1zM613.4 284.5h1.1v1.1h-1.1zM509.7 284.6h1.1v1.1h-1.1zM445.0 278.5h1.1v1.1h-1.1zM513.6 284.6h1.1v1.1h-1.1zM468.7 300.8h1.1v1.1h-1.1zM617.8 275.8h1.1v1.1h-1.1zM556.7 287.9h1.1v1.1h-1.1zM457.0 310.7h1.1v1.1h-1.1zM571.7 293.3h1.1v1.1h-1.1zM581.6 285.5h1.1v1.1h-1.1zM592.0 291.4h1.1v1.1h-1.1zM543.4 257.6h1.1v1.1h-1.1zM499.7 285.3h1.1v1.1h-1.1zM442.7 299.5h1.1v1.1h-1.1zM684.2 282.3h1.1v1.1h-1.1zM445.4 289.9h1.1v1.1h-1.1zM445.0 278.9h1.1v1.1h-1.1zM678.1 286.5h1.1v1.1h-1.1zM518.5 287.1h1.1v1.1h-1.1zM618.6 272.6h1.1v1.1h-1.1zM516.1 279.4h1.1v1.1h-1.1zM628.3 271.9h1.1v1.1h-1.1zM530.6 286.4h1.1v1.1h-1.1zM635.7 282.9h1.1v1.1h-1.1zM619.3 289.9h1.1v1.1h-1.1zM466.0 290.3h1.1v1.1h-1.1zM588.9 286.0h1.1v1.1h-1.1zM517.1 289.2h1.1v1.1h-1.1zM571.2 291.3h1.1v1.1h-1.1zM610.8 261.3h1.1v1.1h-1.1zM652.0 268.5h1.1v1.1h-1.1zM668.0 277.0h1.1v1.1h-1.1zM648.3 294.8h1.1v1.1h-1.1zM513.8 282.4h1.1v1.1h-1.1zM583.5 261.8h1.1v1.1h-1.1zM629.2 271.8h1.1v1.1h-1.1z" fill="#3c3cc0" opacity="0.55"/>
<path d="M579.0 362.6h1.1v1.1h-1.1zM593.3 353.9h1.1v1.1h-1.1zM500.7 302.6h1.1v1.1h-1.1zM625.8 322.0h1.1v1.1h-1.1zM724.3 290.4h1.1v1.1h-1.1zM558.7 350.6h1.1v1.1h-1.1zM599.1 330.5h1.1v1.1h-1.1zM518.2 307.4h1.1v1.1h-1.1zM517.4 315.1h1.1v1.1h-1.1zM457.8 294.5h1.1v1.1h-1.1zM716.0 288.1h1.1v1.1h-1.1zM554.8 347.9h1.1v1.1h-1.1zM598.1 347.6h1.1v1.1h-1.1zM575.2 327.5h1.1v1.1h-1.1zM637.8 318.5h1.1v1.1h-1.1zM709.7 304.8h1.1v1.1h-1.1zM519.8 281.8h1.1v1.1h-1.1zM606.0 350.4h1.1v1.1h-1.1zM583.5 371.7h1.1v1.1h-1.1zM656.8 306.1h1.1v1.1h-1.1zM441.4 293.2h1.1v1.1h-1.1zM566.7 345.6h1.1v1.1h-1.1zM696.6 302.7h1.1v1.1h-1.1zM495.1 305.1h1.1v1.1h-1.1zM624.7 323.6h1.1v1.1h-1.1zM488.6 293.8h1.1v1.1h-1.1zM672.1 286.4h1.1v1.1h-1.1zM651.5 295.4h1.1v1.1h-1.1zM617.8 324.0h1.1v1.1h-1.1zM623.8 341.7h1.1v1.1h-1.1zM712.6 306.6h1.1v1.1h-1.1zM471.6 297.6h1.1v1.1h-1.1zM443.6 304.1h1.1v1.1h-1.1zM626.7 309.8h1.1v1.1h-1.1zM700.2 296.6h1.1v1.1h-1.1zM699.4 311.5h1.1v1.1h-1.1zM590.9 355.2h1.1v1.1h-1.1zM691.6 294.1h1.1v1.1h-1.1zM699.2 298.5h1.1v1.1h-1.1zM689.0 312.2h1.1v1.1h-1.1zM601.6 364.9h1.1v1.1h-1.1zM601.7 346.9h1.1v1.1h-1.1zM581.2 360.2h1.1v1.1h-1.1zM612.8 331.0h1.1v1.1h-1.1zM642.0 297.7h1.1v1.1h-1.1zM511.4 294.2h1.1v1.1h-1.1zM631.8 302.6h1.1v1.1h-1.1zM499.4 304.1h1.1v1.1h-1.1zM573.3 362.4h1.1v1.1h-1.1zM536.8 313.1h1.1v1.1h-1.1zM641.4 309.5h1.1v1.1h-1.1zM628.1 312.9h1.1v1.1h-1.1zM727.5 301.5h1.1v1.1h-1.1zM541.1 314.7h1.1v1.1h-1.1zM555.0 346.4h1.1v1.1h-1.1zM701.4 304.2h1.1v1.1h-1.1zM681.1 291.4h1.1v1.1h-1.1zM596.9 344.7h1.1v1.1h-1.1zM607.6 354.4h1.1v1.1h-1.1zM439.3 289.5h1.1v1.1h-1.1zM441.2 303.9h1.1v1.1h-1.1zM465.3 305.1h1.1v1.1h-1.1zM710.6 304.1h1.1v1.1h-1.1zM620.2 327.6h1.1v1.1h-1.1zM729.1 303.7h1.1v1.1h-1.1zM542.9 327.4h1.1v1.1h-1.1zM453.1 301.6h1.1v1.1h-1.1zM497.4 298.8h1.1v1.1h-1.1zM721.2 297.1h1.1v1.1h-1.1zM548.0 325.6h1.1v1.1h-1.1zM494.9 313.5h1.1v1.1h-1.1zM641.6 297.7h1.1v1.1h-1.1zM683.8 294.3h1.1v1.1h-1.1zM631.3 315.5h1.1v1.1h-1.1zM560.1 345.9h1.1v1.1h-1.1zM508.5 304.2h1.1v1.1h-1.1zM616.5 334.0h1.1v1.1h-1.1zM713.5 301.1h1.1v1.1h-1.1zM626.7 321.5h1.1v1.1h-1.1zM717.9 305.9h1.1v1.1h-1.1zM601.8 357.3h1.1v1.1h-1.1zM453.4 289.8h1.1v1.1h-1.1zM565.3 356.8h1.1v1.1h-1.1zM702.6 301.6h1.1v1.1h-1.1zM679.9 292.1h1.1v1.1h-1.1zM524.0 303.6h1.1v1.1h-1.1zM527.1 316.8h1.1v1.1h-1.1zM723.2 303.8h1.1v1.1h-1.1zM636.4 309.5h1.1v1.1h-1.1zM533.3 300.7h1.1v1.1h-1.1zM524.9 314.4h1.1v1.1h-1.1zM713.2 300.7h1.1v1.1h-1.1zM535.3 314.3h1.1v1.1h-1.1zM557.2 339.7h1.1v1.1h-1.1zM572.9 358.1h1.1v1.1h-1.1zM443.3 302.0h1.1v1.1h-1.1zM510.2 313.7h1.1v1.1h-1.1zM558.4 349.1h1.1v1.1h-1.1zM532.5 309.7h1.1v1.1h-1.1zM486.2 295.4h1.1v1.1h-1.1zM589.9 349.2h1.1v1.1h-1.1zM487.3 298.7h1.1v1.1h-1.1zM651.5 293.5h1.1v1.1h-1.1zM506.5 310.4h1.1v1.1h-1.1zM592.9 340.9h1.1v1.1h-1.1zM596.8 347.5h1.1v1.1h-1.1zM476.5 300.1h1.1v1.1h-1.1zM478.7 284.5h1.1v1.1h-1.1zM709.0 305.9h1.1v1.1h-1.1zM571.1 351.9h1.1v1.1h-1.1zM718.7 311.0h1.1v1.1h-1.1zM619.3 342.2h1.1v1.1h-1.1zM639.0 314.5h1.1v1.1h-1.1zM595.2 344.3h1.1v1.1h-1.1zM508.5 306.8h1.1v1.1h-1.1zM523.2 307.0h1.1v1.1h-1.1zM589.0 364.4h1.1v1.1h-1.1zM459.1 289.5h1.1v1.1h-1.1zM666.5 293.2h1.1v1.1h-1.1zM582.1 363.1h1.1v1.1h-1.1zM570.5 370.5h1.1v1.1h-1.1zM690.1 304.9h1.1v1.1h-1.1zM529.7 314.7h1.1v1.1h-1.1zM656.8 297.2h1.1v1.1h-1.1zM582.5 362.4h1.1v1.1h-1.1zM449.4 297.9h1.1v1.1h-1.1zM680.7 293.3h1.1v1.1h-1.1zM546.1 334.8h1.1v1.1h-1.1zM534.6 318.0h1.1v1.1h-1.1zM553.7 350.6h1.1v1.1h-1.1zM641.3 302.9h1.1v1.1h-1.1zM702.4 292.3h1.1v1.1h-1.1zM720.4 290.4h1.1v1.1h-1.1zM561.7 377.1h1.1v1.1h-1.1zM465.6 287.7h1.1v1.1h-1.1zM716.4 284.2h1.1v1.1h-1.1zM692.0 298.1h1.1v1.1h-1.1zM612.5 337.4h1.1v1.1h-1.1zM694.1 293.8h1.1v1.1h-1.1zM468.5 298.6h1.1v1.1h-1.1zM517.8 292.5h1.1v1.1h-1.1zM565.0 357.1h1.1v1.1h-1.1zM602.0 346.2h1.1v1.1h-1.1zM576.5 347.9h1.1v1.1h-1.1zM545.7 358.6h1.1v1.1h-1.1zM657.4 295.6h1.1v1.1h-1.1zM525.1 307.0h1.1v1.1h-1.1zM638.7 319.0h1.1v1.1h-1.1zM697.6 299.5h1.1v1.1h-1.1zM634.0 319.0h1.1v1.1h-1.1zM646.2 307.0h1.1v1.1h-1.1zM609.7 342.6h1.1v1.1h-1.1zM582.0 360.8h1.1v1.1h-1.1zM547.2 325.4h1.1v1.1h-1.1zM653.9 300.3h1.1v1.1h-1.1zM457.6 303.0h1.1v1.1h-1.1zM623.5 310.6h1.1v1.1h-1.1zM500.4 289.7h1.1v1.1h-1.1zM715.0 296.0h1.1v1.1h-1.1zM703.2 292.0h1.1v1.1h-1.1zM568.9 345.1h1.1v1.1h-1.1zM573.2 376.3h1.1v1.1h-1.1zM634.5 313.7h1.1v1.1h-1.1zM469.1 296.1h1.1v1.1h-1.1zM588.4 356.6h1.1v1.1h-1.1zM634.5 322.4h1.1v1.1h-1.1zM533.7 320.7h1.1v1.1h-1.1zM548.7 348.8h1.1v1.1h-1.1zM686.9 291.3h1.1v1.1h-1.1zM514.5 301.4h1.1v1.1h-1.1zM684.2 294.9h1.1v1.1h-1.1zM470.0 293.9h1.1v1.1h-1.1zM670.0 300.3h1.1v1.1h-1.1zM454.7 308.1h1.1v1.1h-1.1zM644.1 317.6h1.1v1.1h-1.1zM492.9 290.3h1.1v1.1h-1.1zM581.3 363.4h1.1v1.1h-1.1zM694.1 296.4h1.1v1.1h-1.1zM601.0 354.5h1.1v1.1h-1.1zM668.0 290.2h1.1v1.1h-1.1zM495.2 308.5h1.1v1.1h-1.1zM442.9 285.2h1.1v1.1h-1.1zM531.3 318.1h1.1v1.1h-1.1zM706.7 307.8h1.1v1.1h-1.1zM638.1 316.6h1.1v1.1h-1.1zM502.2 294.2h1.1v1.1h-1.1zM652.6 293.3h1.1v1.1h-1.1zM540.4 332.1h1.1v1.1h-1.1zM482.5 293.9h1.1v1.1h-1.1zM467.7 304.4h1.1v1.1h-1.1zM719.9 302.4h1.1v1.1h-1.1zM562.8 342.4h1.1v1.1h-1.1zM689.9 294.6h1.1v1.1h-1.1zM564.9 362.6h1.1v1.1h-1.1zM540.4 319.5h1.1v1.1h-1.1zM468.2 297.8h1.1v1.1h-1.1zM519.3 290.7h1.1v1.1h-1.1zM565.0 353.2h1.1v1.1h-1.1zM518.1 306.9h1.1v1.1h-1.1zM639.8 319.2h1.1v1.1h-1.1zM630.3 328.9h1.1v1.1h-1.1zM584.2 376.9h1.1v1.1h-1.1zM646.8 307.8h1.1v1.1h-1.1zM530.9 323.4h1.1v1.1h-1.1zM546.2 336.5h1.1v1.1h-1.1zM566.3 341.2h1.1v1.1h-1.1zM603.6 354.3h1.1v1.1h-1.1zM726.1 298.7h1.1v1.1h-1.1zM579.1 356.4h1.1v1.1h-1.1zM460.6 306.4h1.1v1.1h-1.1zM560.8 358.6h1.1v1.1h-1.1zM716.9 295.4h1.1v1.1h-1.1zM474.9 320.8h1.1v1.1h-1.1zM476.7 304.2h1.1v1.1h-1.1zM527.3 314.3h1.1v1.1h-1.1zM505.7 307.6h1.1v1.1h-1.1zM508.9 291.4h1.1v1.1h-1.1zM639.6 306.0h1.1v1.1h-1.1zM698.6 299.4h1.1v1.1h-1.1zM586.7 363.5h1.1v1.1h-1.1zM613.9 345.5h1.1v1.1h-1.1zM499.6 307.0h1.1v1.1h-1.1zM727.5 301.1h1.1v1.1h-1.1zM509.8 295.1h1.1v1.1h-1.1zM659.8 305.6h1.1v1.1h-1.1zM446.7 297.1h1.1v1.1h-1.1zM538.0 324.2h1.1v1.1h-1.1zM590.5 361.0h1.1v1.1h-1.1zM599.5 349.4h1.1v1.1h-1.1zM658.1 291.2h1.1v1.1h-1.1zM454.7 301.1h1.1v1.1h-1.1zM667.1 301.8h1.1v1.1h-1.1zM725.7 305.0h1.1v1.1h-1.1zM459.3 300.8h1.1v1.1h-1.1zM504.7 310.5h1.1v1.1h-1.1zM454.9 298.9h1.1v1.1h-1.1zM536.8 310.8h1.1v1.1h-1.1zM614.9 322.9h1.1v1.1h-1.1zM646.5 305.5h1.1v1.1h-1.1zM522.0 314.8h1.1v1.1h-1.1zM700.6 293.0h1.1v1.1h-1.1zM604.8 341.2h1.1v1.1h-1.1zM458.9 296.6h1.1v1.1h-1.1zM508.3 297.0h1.1v1.1h-1.1zM708.7 309.0h1.1v1.1h-1.1zM480.7 301.7h1.1v1.1h-1.1zM619.5 336.4h1.1v1.1h-1.1zM488.2 303.8h1.1v1.1h-1.1zM514.4 303.1h1.1v1.1h-1.1zM611.0 354.6h1.1v1.1h-1.1zM706.4 296.5h1.1v1.1h-1.1zM444.1 310.5h1.1v1.1h-1.1zM583.1 361.0h1.1v1.1h-1.1zM531.3 307.6h1.1v1.1h-1.1zM694.7 310.6h1.1v1.1h-1.1zM609.4 353.7h1.1v1.1h-1.1zM710.6 300.4h1.1v1.1h-1.1zM473.7 295.6h1.1v1.1h-1.1zM559.0 341.2h1.1v1.1h-1.1zM589.2 356.0h1.1v1.1h-1.1zM526.4 310.8h1.1v1.1h-1.1zM632.0 316.8h1.1v1.1h-1.1zM517.1 320.5h1.1v1.1h-1.1zM590.9 360.0h1.1v1.1h-1.1zM713.8 308.5h1.1v1.1h-1.1zM723.3 302.3h1.1v1.1h-1.1zM543.7 327.5h1.1v1.1h-1.1zM607.5 345.0h1.1v1.1h-1.1zM707.5 301.6h1.1v1.1h-1.1zM490.9 298.7h1.1v1.1h-1.1zM684.3 304.9h1.1v1.1h-1.1zM451.2 295.9h1.1v1.1h-1.1zM657.0 306.4h1.1v1.1h-1.1zM636.8 317.8h1.1v1.1h-1.1zM560.3 353.3h1.1v1.1h-1.1zM580.7 371.4h1.1v1.1h-1.1zM510.2 307.9h1.1v1.1h-1.1zM493.3 284.8h1.1v1.1h-1.1zM531.3 307.2h1.1v1.1h-1.1zM471.8 313.1h1.1v1.1h-1.1zM625.2 322.0h1.1v1.1h-1.1zM591.1 363.0h1.1v1.1h-1.1zM671.5 300.1h1.1v1.1h-1.1zM523.0 301.6h1.1v1.1h-1.1zM538.9 319.6h1.1v1.1h-1.1zM652.4 311.1h1.1v1.1h-1.1zM526.4 311.7h1.1v1.1h-1.1zM715.9 295.4h1.1v1.1h-1.1zM637.6 310.1h1.1v1.1h-1.1zM589.6 360.6h1.1v1.1h-1.1zM558.9 359.8h1.1v1.1h-1.1zM501.5 308.2h1.1v1.1h-1.1zM665.9 299.0h1.1v1.1h-1.1zM613.5 339.2h1.1v1.1h-1.1zM674.5 303.0h1.1v1.1h-1.1zM510.7 305.0h1.1v1.1h-1.1zM661.5 299.2h1.1v1.1h-1.1zM440.5 309.2h1.1v1.1h-1.1zM475.5 301.2h1.1v1.1h-1.1zM472.5 299.6h1.1v1.1h-1.1zM538.9 322.9h1.1v1.1h-1.1zM467.2 301.7h1.1v1.1h-1.1zM626.6 321.4h1.1v1.1h-1.1zM634.3 319.4h1.1v1.1h-1.1zM571.1 369.3h1.1v1.1h-1.1zM503.7 312.9h1.1v1.1h-1.1zM589.2 347.4h1.1v1.1h-1.1zM549.6 344.7h1.1v1.1h-1.1zM626.9 332.5h1.1v1.1h-1.1zM601.2 337.6h1.1v1.1h-1.1zM495.9 293.2h1.1v1.1h-1.1zM696.2 305.0h1.1v1.1h-1.1zM475.8 296.7h1.1v1.1h-1.1zM628.5 319.8h1.1v1.1h-1.1zM511.6 302.4h1.1v1.1h-1.1zM597.2 361.7h1.1v1.1h-1.1zM688.7 305.2h1.1v1.1h-1.1zM571.7 362.8h1.1v1.1h-1.1zM611.8 342.6h1.1v1.1h-1.1zM616.4 346.0h1.1v1.1h-1.1zM539.8 325.4h1.1v1.1h-1.1zM469.8 304.9h1.1v1.1h-1.1zM569.2 360.7h1.1v1.1h-1.1zM589.9 356.8h1.1v1.1h-1.1zM524.3 305.9h1.1v1.1h-1.1zM626.5 323.9h1.1v1.1h-1.1zM705.9 284.1h1.1v1.1h-1.1zM686.6 306.2h1.1v1.1h-1.1zM636.5 322.2h1.1v1.1h-1.1zM547.4 331.4h1.1v1.1h-1.1zM463.7 290.8h1.1v1.1h-1.1zM540.4 321.6h1.1v1.1h-1.1zM628.3 319.2h1.1v1.1h-1.1zM650.6 301.4h1.1v1.1h-1.1zM659.0 313.1h1.1v1.1h-1.1zM576.7 370.7h1.1v1.1h-1.1zM642.7 312.1h1.1v1.1h-1.1zM520.9 306.4h1.1v1.1h-1.1zM555.1 358.8h1.1v1.1h-1.1zM633.8 311.4h1.1v1.1h-1.1zM643.4 318.5h1.1v1.1h-1.1zM719.0 301.0h1.1v1.1h-1.1zM663.6 302.5h1.1v1.1h-1.1zM508.9 297.3h1.1v1.1h-1.1zM635.4 303.5h1.1v1.1h-1.1zM468.1 293.3h1.1v1.1h-1.1zM644.2 310.0h1.1v1.1h-1.1zM603.0 343.9h1.1v1.1h-1.1zM678.6 307.6h1.1v1.1h-1.1zM515.0 294.2h1.1v1.1h-1.1zM691.0 297.8h1.1v1.1h-1.1zM590.4 365.6h1.1v1.1h-1.1zM458.2 303.8h1.1v1.1h-1.1zM725.7 303.1h1.1v1.1h-1.1zM510.5 306.8h1.1v1.1h-1.1zM620.0 333.9h1.1v1.1h-1.1zM724.6 311.4h1.1v1.1h-1.1zM660.7 302.1h1.1v1.1h-1.1zM643.1 316.5h1.1v1.1h-1.1zM547.1 333.1h1.1v1.1h-1.1zM484.5 307.8h1.1v1.1h-1.1zM687.0 295.1h1.1v1.1h-1.1zM680.9 296.6h1.1v1.1h-1.1zM541.0 339.6h1.1v1.1h-1.1zM677.2 301.1h1.1v1.1h-1.1zM709.7 295.2h1.1v1.1h-1.1zM474.3 297.1h1.1v1.1h-1.1zM519.4 299.6h1.1v1.1h-1.1zM622.3 324.4h1.1v1.1h-1.1zM478.8 281.8h1.1v1.1h-1.1zM479.2 297.7h1.1v1.1h-1.1zM546.5 326.4h1.1v1.1h-1.1zM638.9 315.2h1.1v1.1h-1.1zM439.8 295.0h1.1v1.1h-1.1zM618.3 322.4h1.1v1.1h-1.1zM713.9 297.4h1.1v1.1h-1.1zM539.4 321.1h1.1v1.1h-1.1zM665.6 299.3h1.1v1.1h-1.1zM576.3 358.5h1.1v1.1h-1.1zM688.2 300.6h1.1v1.1h-1.1zM487.6 293.7h1.1v1.1h-1.1zM688.6 307.9h1.1v1.1h-1.1zM623.2 326.3h1.1v1.1h-1.1zM581.9 354.3h1.1v1.1h-1.1zM487.6 308.2h1.1v1.1h-1.1zM673.3 293.8h1.1v1.1h-1.1zM511.4 307.5h1.1v1.1h-1.1zM573.6 361.4h1.1v1.1h-1.1zM640.4 306.5h1.1v1.1h-1.1zM665.4 295.2h1.1v1.1h-1.1zM616.4 357.7h1.1v1.1h-1.1zM651.3 295.5h1.1v1.1h-1.1zM685.6 286.8h1.1v1.1h-1.1zM582.2 354.7h1.1v1.1h-1.1zM506.3 296.1h1.1v1.1h-1.1zM546.8 335.0h1.1v1.1h-1.1zM537.6 304.7h1.1v1.1h-1.1zM569.5 342.7h1.1v1.1h-1.1zM696.9 301.3h1.1v1.1h-1.1zM647.1 311.2h1.1v1.1h-1.1zM655.2 310.2h1.1v1.1h-1.1zM693.1 299.5h1.1v1.1h-1.1zM594.7 355.4h1.1v1.1h-1.1zM519.5 300.9h1.1v1.1h-1.1zM484.2 297.6h1.1v1.1h-1.1zM457.5 302.1h1.1v1.1h-1.1zM568.5 361.1h1.1v1.1h-1.1zM716.6 306.1h1.1v1.1h-1.1zM566.4 347.9h1.1v1.1h-1.1zM508.3 320.2h1.1v1.1h-1.1zM696.1 304.9h1.1v1.1h-1.1zM636.1 322.5h1.1v1.1h-1.1zM547.5 340.3h1.1v1.1h-1.1zM719.9 296.4h1.1v1.1h-1.1zM442.1 297.6h1.1v1.1h-1.1zM628.1 328.2h1.1v1.1h-1.1zM621.2 317.9h1.1v1.1h-1.1zM527.1 316.9h1.1v1.1h-1.1zM596.6 359.1h1.1v1.1h-1.1zM718.7 290.1h1.1v1.1h-1.1zM693.9 311.9h1.1v1.1h-1.1zM664.4 287.4h1.1v1.1h-1.1zM484.8 299.7h1.1v1.1h-1.1zM664.6 301.7h1.1v1.1h-1.1zM533.5 317.8h1.1v1.1h-1.1zM503.6 313.0h1.1v1.1h-1.1zM711.0 301.5h1.1v1.1h-1.1zM589.1 359.3h1.1v1.1h-1.1zM722.2 313.6h1.1v1.1h-1.1zM505.5 297.4h1.1v1.1h-1.1zM500.4 296.9h1.1v1.1h-1.1zM498.3 297.4h1.1v1.1h-1.1zM574.8 354.7h1.1v1.1h-1.1zM670.1 290.8h1.1v1.1h-1.1zM581.8 355.1h1.1v1.1h-1.1zM512.4 308.1h1.1v1.1h-1.1zM598.3 347.0h1.1v1.1h-1.1zM483.6 304.9h1.1v1.1h-1.1zM636.5 312.1h1.1v1.1h-1.1zM569.0 362.8h1.1v1.1h-1.1zM711.8 296.1h1.1v1.1h-1.1zM442.1 305.5h1.1v1.1h-1.1zM553.0 352.7h1.1v1.1h-1.1zM607.3 331.6h1.1v1.1h-1.1zM529.2 319.3h1.1v1.1h-1.1zM661.6 299.7h1.1v1.1h-1.1zM657.3 298.6h1.1v1.1h-1.1zM628.4 322.4h1.1v1.1h-1.1zM659.1 296.8h1.1v1.1h-1.1zM474.1 295.9h1.1v1.1h-1.1zM684.7 296.2h1.1v1.1h-1.1zM474.3 297.6h1.1v1.1h-1.1zM448.2 300.5h1.1v1.1h-1.1zM603.0 345.1h1.1v1.1h-1.1zM486.6 283.8h1.1v1.1h-1.1zM680.2 289.0h1.1v1.1h-1.1zM577.8 362.2h1.1v1.1h-1.1zM646.3 310.7h1.1v1.1h-1.1zM551.1 340.2h1.1v1.1h-1.1zM488.7 293.3h1.1v1.1h-1.1zM699.3 315.6h1.1v1.1h-1.1zM561.5 365.5h1.1v1.1h-1.1zM499.2 308.7h1.1v1.1h-1.1zM577.1 353.0h1.1v1.1h-1.1zM571.0 357.2h1.1v1.1h-1.1zM492.8 305.6h1.1v1.1h-1.1zM539.9 333.1h1.1v1.1h-1.1zM570.8 365.7h1.1v1.1h-1.1zM490.0 299.6h1.1v1.1h-1.1zM654.7 299.1h1.1v1.1h-1.1zM527.6 307.2h1.1v1.1h-1.1zM602.5 336.1h1.1v1.1h-1.1zM477.1 285.9h1.1v1.1h-1.1zM449.3 300.8h1.1v1.1h-1.1zM681.6 292.6h1.1v1.1h-1.1zM500.8 297.3h1.1v1.1h-1.1zM549.3 330.6h1.1v1.1h-1.1zM447.2 303.3h1.1v1.1h-1.1zM518.1 307.8h1.1v1.1h-1.1zM638.9 314.2h1.1v1.1h-1.1zM697.8 291.1h1.1v1.1h-1.1zM711.1 303.0h1.1v1.1h-1.1zM530.3 326.4h1.1v1.1h-1.1zM576.0 384.6h1.1v1.1h-1.1zM486.3 303.6h1.1v1.1h-1.1zM545.4 332.3h1.1v1.1h-1.1zM616.5 318.1h1.1v1.1h-1.1zM634.4 304.5h1.1v1.1h-1.1zM488.1 297.1h1.1v1.1h-1.1zM531.9 315.3h1.1v1.1h-1.1zM684.3 303.0h1.1v1.1h-1.1zM523.9 309.0h1.1v1.1h-1.1zM612.1 348.3h1.1v1.1h-1.1zM520.2 301.3h1.1v1.1h-1.1zM536.1 318.2h1.1v1.1h-1.1zM598.5 357.4h1.1v1.1h-1.1zM472.4 280.9h1.1v1.1h-1.1zM587.0 339.7h1.1v1.1h-1.1zM719.8 296.2h1.1v1.1h-1.1zM710.7 319.8h1.1v1.1h-1.1zM661.7 292.1h1.1v1.1h-1.1zM549.8 332.0h1.1v1.1h-1.1zM576.4 368.4h1.1v1.1h-1.1zM630.3 314.2h1.1v1.1h-1.1zM515.0 306.0h1.1v1.1h-1.1zM609.5 346.5h1.1v1.1h-1.1zM716.0 310.4h1.1v1.1h-1.1zM626.6 325.9h1.1v1.1h-1.1zM530.6 314.7h1.1v1.1h-1.1zM635.8 309.8h1.1v1.1h-1.1zM697.3 305.0h1.1v1.1h-1.1zM564.1 350.1h1.1v1.1h-1.1zM525.1 305.1h1.1v1.1h-1.1zM653.0 299.0h1.1v1.1h-1.1zM602.3 354.7h1.1v1.1h-1.1zM716.0 297.2h1.1v1.1h-1.1zM477.4 299.2h1.1v1.1h-1.1zM562.8 371.7h1.1v1.1h-1.1zM729.3 296.4h1.1v1.1h-1.1zM525.3 312.6h1.1v1.1h-1.1zM655.1 290.2h1.1v1.1h-1.1zM467.6 280.2h1.1v1.1h-1.1zM726.9 297.0h1.1v1.1h-1.1zM637.0 317.7h1.1v1.1h-1.1zM703.7 289.6h1.1v1.1h-1.1zM532.5 324.4h1.1v1.1h-1.1zM472.8 306.0h1.1v1.1h-1.1zM487.6 302.7h1.1v1.1h-1.1zM540.1 315.2h1.1v1.1h-1.1zM673.8 291.1h1.1v1.1h-1.1zM601.1 351.9h1.1v1.1h-1.1zM510.8 298.6h1.1v1.1h-1.1zM679.1 289.9h1.1v1.1h-1.1zM495.5 308.5h1.1v1.1h-1.1zM578.0 344.5h1.1v1.1h-1.1zM594.2 350.2h1.1v1.1h-1.1zM520.2 308.5h1.1v1.1h-1.1zM616.7 326.4h1.1v1.1h-1.1zM716.7 309.9h1.1v1.1h-1.1zM702.1 294.3h1.1v1.1h-1.1zM506.4 302.2h1.1v1.1h-1.1zM509.1 305.0h1.1v1.1h-1.1zM700.9 306.9h1.1v1.1h-1.1zM517.6 299.6h1.1v1.1h-1.1zM685.4 288.3h1.1v1.1h-1.1zM722.9 298.2h1.1v1.1h-1.1zM728.7 280.3h1.1v1.1h-1.1zM693.7 312.0h1.1v1.1h-1.1zM439.9 309.5h1.1v1.1h-1.1zM665.4 283.7h1.1v1.1h-1.1zM492.0 302.3h1.1v1.1h-1.1zM446.9 309.0h1.1v1.1h-1.1zM621.8 318.9h1.1v1.1h-1.1zM595.8 355.6h1.1v1.1h-1.1zM667.9 301.6h1.1v1.1h-1.1zM685.8 300.9h1.1v1.1h-1.1zM622.9 336.8h1.1v1.1h-1.1zM565.6 363.3h1.1v1.1h-1.1zM661.7 307.1h1.1v1.1h-1.1zM701.0 318.9h1.1v1.1h-1.1zM699.7 291.3h1.1v1.1h-1.1zM718.6 296.9h1.1v1.1h-1.1zM447.4 279.5h1.1v1.1h-1.1zM682.1 296.5h1.1v1.1h-1.1zM510.0 304.2h1.1v1.1h-1.1zM481.7 285.8h1.1v1.1h-1.1zM726.3 300.6h1.1v1.1h-1.1zM600.8 355.6h1.1v1.1h-1.1zM682.5 288.4h1.1v1.1h-1.1zM451.4 292.6h1.1v1.1h-1.1zM597.9 371.4h1.1v1.1h-1.1zM721.8 300.0h1.1v1.1h-1.1zM465.1 299.1h1.1v1.1h-1.1zM589.0 352.7h1.1v1.1h-1.1zM693.7 316.7h1.1v1.1h-1.1zM525.7 312.8h1.1v1.1h-1.1zM625.5 320.0h1.1v1.1h-1.1zM728.6 292.5h1.1v1.1h-1.1zM505.2 310.7h1.1v1.1h-1.1zM634.7 307.7h1.1v1.1h-1.1zM600.9 330.1h1.1v1.1h-1.1zM678.3 282.9h1.1v1.1h-1.1zM486.5 301.7h1.1v1.1h-1.1zM706.4 292.0h1.1v1.1h-1.1zM564.3 369.1h1.1v1.1h-1.1zM682.5 307.3h1.1v1.1h-1.1zM612.5 342.0h1.1v1.1h-1.1zM556.4 337.4h1.1v1.1h-1.1zM688.8 294.9h1.1v1.1h-1.1zM683.7 289.7h1.1v1.1h-1.1zM531.1 310.1h1.1v1.1h-1.1zM652.2 310.6h1.1v1.1h-1.1zM508.2 300.6h1.1v1.1h-1.1zM713.4 305.5h1.1v1.1h-1.1zM528.0 299.5h1.1v1.1h-1.1zM450.4 301.0h1.1v1.1h-1.1zM536.7 324.3h1.1v1.1h-1.1zM721.3 303.3h1.1v1.1h-1.1zM641.2 293.7h1.1v1.1h-1.1zM591.5 355.8h1.1v1.1h-1.1zM475.7 292.6h1.1v1.1h-1.1zM571.7 365.7h1.1v1.1h-1.1zM705.6 301.5h1.1v1.1h-1.1zM582.3 362.5h1.1v1.1h-1.1zM502.5 293.1h1.1v1.1h-1.1zM717.2 300.3h1.1v1.1h-1.1zM468.6 302.6h1.1v1.1h-1.1zM502.1 300.4h1.1v1.1h-1.1zM698.1 295.0h1.1v1.1h-1.1zM620.5 333.7h1.1v1.1h-1.1zM530.6 314.3h1.1v1.1h-1.1zM722.0 294.8h1.1v1.1h-1.1zM459.1 307.9h1.1v1.1h-1.1zM549.9 330.8h1.1v1.1h-1.1zM691.4 289.5h1.1v1.1h-1.1zM710.6 295.8h1.1v1.1h-1.1zM453.7 296.1h1.1v1.1h-1.1zM480.1 288.6h1.1v1.1h-1.1zM621.3 340.0h1.1v1.1h-1.1zM490.1 303.8h1.1v1.1h-1.1zM613.0 346.0h1.1v1.1h-1.1zM615.8 341.1h1.1v1.1h-1.1zM688.0 306.6h1.1v1.1h-1.1zM724.8 290.2h1.1v1.1h-1.1zM545.9 312.3h1.1v1.1h-1.1zM657.2 290.3h1.1v1.1h-1.1zM471.2 316.2h1.1v1.1h-1.1zM699.6 308.6h1.1v1.1h-1.1zM664.3 298.7h1.1v1.1h-1.1zM611.9 344.9h1.1v1.1h-1.1zM647.1 314.6h1.1v1.1h-1.1zM486.1 311.3h1.1v1.1h-1.1zM585.4 363.3h1.1v1.1h-1.1zM615.2 349.7h1.1v1.1h-1.1zM534.7 327.7h1.1v1.1h-1.1zM470.2 295.7h1.1v1.1h-1.1zM475.0 287.3h1.1v1.1h-1.1zM714.9 301.6h1.1v1.1h-1.1zM560.2 345.6h1.1v1.1h-1.1zM517.3 305.7h1.1v1.1h-1.1zM513.3 312.5h1.1v1.1h-1.1zM614.9 323.1h1.1v1.1h-1.1zM681.0 292.5h1.1v1.1h-1.1zM477.4 312.6h1.1v1.1h-1.1zM553.5 341.0h1.1v1.1h-1.1zM637.4 303.8h1.1v1.1h-1.1zM643.4 310.9h1.1v1.1h-1.1zM577.6 365.1h1.1v1.1h-1.1zM666.0 297.9h1.1v1.1h-1.1zM676.4 296.0h1.1v1.1h-1.1zM557.2 332.0h1.1v1.1h-1.1zM618.7 317.1h1.1v1.1h-1.1zM635.1 326.5h1.1v1.1h-1.1zM611.1 329.9h1.1v1.1h-1.1zM696.9 294.1h1.1v1.1h-1.1zM462.8 303.0h1.1v1.1h-1.1zM573.8 348.4h1.1v1.1h-1.1zM713.5 287.0h1.1v1.1h-1.1zM451.6 302.1h1.1v1.1h-1.1zM477.1 307.1h1.1v1.1h-1.1zM532.9 306.6h1.1v1.1h-1.1zM535.2 332.9h1.1v1.1h-1.1zM442.2 310.4h1.1v1.1h-1.1zM708.0 293.8h1.1v1.1h-1.1zM705.1 299.1h1.1v1.1h-1.1zM597.0 358.6h1.1v1.1h-1.1zM651.7 305.3h1.1v1.1h-1.1zM469.7 300.7h1.1v1.1h-1.1zM717.5 295.1h1.1v1.1h-1.1zM589.2 340.4h1.1v1.1h-1.1zM691.3 288.6h1.1v1.1h-1.1zM452.6 290.4h1.1v1.1h-1.1zM501.7 308.0h1.1v1.1h-1.1zM574.6 374.6h1.1v1.1h-1.1zM607.3 356.7h1.1v1.1h-1.1zM462.5 304.0h1.1v1.1h-1.1zM558.0 348.5h1.1v1.1h-1.1zM663.4 303.5h1.1v1.1h-1.1zM663.9 329.4h1.1v1.1h-1.1zM450.8 303.0h1.1v1.1h-1.1zM441.1 305.4h1.1v1.1h-1.1zM711.4 309.1h1.1v1.1h-1.1zM647.5 310.3h1.1v1.1h-1.1zM544.3 322.4h1.1v1.1h-1.1zM522.9 318.7h1.1v1.1h-1.1zM482.4 305.5h1.1v1.1h-1.1zM467.4 293.3h1.1v1.1h-1.1zM646.7 303.9h1.1v1.1h-1.1zM541.8 326.0h1.1v1.1h-1.1zM694.0 301.1h1.1v1.1h-1.1zM462.8 290.8h1.1v1.1h-1.1zM596.0 366.6h1.1v1.1h-1.1zM657.5 308.3h1.1v1.1h-1.1zM526.1 301.1h1.1v1.1h-1.1zM673.8 300.3h1.1v1.1h-1.1zM611.6 358.2h1.1v1.1h-1.1zM607.2 351.0h1.1v1.1h-1.1zM721.5 303.3h1.1v1.1h-1.1zM519.3 311.0h1.1v1.1h-1.1zM673.8 287.0h1.1v1.1h-1.1zM643.3 308.7h1.1v1.1h-1.1zM500.4 299.2h1.1v1.1h-1.1zM723.5 293.9h1.1v1.1h-1.1zM439.1 299.9h1.1v1.1h-1.1zM633.8 328.5h1.1v1.1h-1.1zM617.9 334.9h1.1v1.1h-1.1zM651.2 307.2h1.1v1.1h-1.1zM505.0 302.0h1.1v1.1h-1.1zM498.2 299.0h1.1v1.1h-1.1zM564.5 347.1h1.1v1.1h-1.1zM596.3 346.4h1.1v1.1h-1.1zM677.6 282.7h1.1v1.1h-1.1zM726.7 283.9h1.1v1.1h-1.1zM505.9 320.9h1.1v1.1h-1.1zM615.0 341.2h1.1v1.1h-1.1zM446.3 298.1h1.1v1.1h-1.1zM543.7 323.2h1.1v1.1h-1.1zM632.8 309.3h1.1v1.1h-1.1zM665.7 283.9h1.1v1.1h-1.1zM534.0 319.1h1.1v1.1h-1.1zM697.2 304.0h1.1v1.1h-1.1zM627.3 327.9h1.1v1.1h-1.1zM561.1 360.6h1.1v1.1h-1.1zM494.8 300.1h1.1v1.1h-1.1zM455.4 302.7h1.1v1.1h-1.1zM469.8 307.4h1.1v1.1h-1.1zM481.7 292.1h1.1v1.1h-1.1zM651.3 294.7h1.1v1.1h-1.1zM488.8 283.8h1.1v1.1h-1.1zM704.1 293.7h1.1v1.1h-1.1zM539.2 317.4h1.1v1.1h-1.1zM485.7 306.3h1.1v1.1h-1.1zM675.5 297.4h1.1v1.1h-1.1zM675.7 297.2h1.1v1.1h-1.1zM466.6 289.9h1.1v1.1h-1.1zM640.8 316.8h1.1v1.1h-1.1zM687.8 298.0h1.1v1.1h-1.1zM704.5 299.5h1.1v1.1h-1.1zM705.3 299.1h1.1v1.1h-1.1zM459.5 293.4h1.1v1.1h-1.1zM538.2 311.7h1.1v1.1h-1.1zM722.7 294.5h1.1v1.1h-1.1zM717.7 293.6h1.1v1.1h-1.1zM669.3 305.7h1.1v1.1h-1.1zM676.3 305.3h1.1v1.1h-1.1zM576.3 359.3h1.1v1.1h-1.1zM463.2 296.0h1.1v1.1h-1.1zM709.6 288.8h1.1v1.1h-1.1zM719.7 299.0h1.1v1.1h-1.1zM446.7 305.8h1.1v1.1h-1.1zM567.9 351.6h1.1v1.1h-1.1zM634.1 305.3h1.1v1.1h-1.1zM555.1 353.4h1.1v1.1h-1.1zM549.6 327.4h1.1v1.1h-1.1zM543.7 322.8h1.1v1.1h-1.1zM702.7 303.4h1.1v1.1h-1.1zM715.5 301.6h1.1v1.1h-1.1zM653.8 300.7h1.1v1.1h-1.1zM623.2 308.4h1.1v1.1h-1.1zM565.5 347.5h1.1v1.1h-1.1zM503.5 301.3h1.1v1.1h-1.1zM521.9 293.3h1.1v1.1h-1.1zM637.0 323.3h1.1v1.1h-1.1zM501.0 310.5h1.1v1.1h-1.1zM571.6 357.9h1.1v1.1h-1.1zM694.0 300.2h1.1v1.1h-1.1zM509.1 292.9h1.1v1.1h-1.1zM491.1 305.5h1.1v1.1h-1.1zM632.2 321.4h1.1v1.1h-1.1zM449.2 297.6h1.1v1.1h-1.1zM635.8 319.3h1.1v1.1h-1.1zM677.0 303.5h1.1v1.1h-1.1zM720.4 301.8h1.1v1.1h-1.1zM515.2 298.8h1.1v1.1h-1.1zM716.5 309.6h1.1v1.1h-1.1zM476.7 301.9h1.1v1.1h-1.1zM488.3 301.1h1.1v1.1h-1.1zM540.0 308.7h1.1v1.1h-1.1zM442.9 297.5h1.1v1.1h-1.1zM480.8 291.2h1.1v1.1h-1.1zM656.5 296.6h1.1v1.1h-1.1zM591.9 365.4h1.1v1.1h-1.1zM709.7 304.9h1.1v1.1h-1.1zM636.8 316.5h1.1v1.1h-1.1zM628.7 320.3h1.1v1.1h-1.1zM582.4 361.6h1.1v1.1h-1.1zM578.1 365.4h1.1v1.1h-1.1zM705.1 312.7h1.1v1.1h-1.1zM608.5 345.5h1.1v1.1h-1.1zM694.6 302.2h1.1v1.1h-1.1zM496.7 306.4h1.1v1.1h-1.1zM467.2 293.9h1.1v1.1h-1.1zM593.2 365.4h1.1v1.1h-1.1zM474.7 293.2h1.1v1.1h-1.1zM577.9 350.9h1.1v1.1h-1.1zM530.6 299.4h1.1v1.1h-1.1zM506.1 306.7h1.1v1.1h-1.1zM663.4 289.4h1.1v1.1h-1.1zM676.6 306.7h1.1v1.1h-1.1zM661.6 295.1h1.1v1.1h-1.1zM540.4 330.1h1.1v1.1h-1.1zM547.2 308.1h1.1v1.1h-1.1zM534.5 305.8h1.1v1.1h-1.1zM663.3 305.2h1.1v1.1h-1.1zM510.0 299.7h1.1v1.1h-1.1zM475.0 303.3h1.1v1.1h-1.1zM662.7 296.5h1.1v1.1h-1.1zM714.9 298.2h1.1v1.1h-1.1zM725.6 305.2h1.1v1.1h-1.1zM714.2 306.1h1.1v1.1h-1.1zM705.3 310.8h1.1v1.1h-1.1zM460.4 309.1h1.1v1.1h-1.1zM451.4 296.1h1.1v1.1h-1.1zM614.2 327.7h1.1v1.1h-1.1zM509.2 306.9h1.1v1.1h-1.1zM612.9 338.8h1.1v1.1h-1.1zM587.7 355.9h1.1v1.1h-1.1zM528.9 314.5h1.1v1.1h-1.1zM656.1 309.1h1.1v1.1h-1.1zM728.4 306.6h1.1v1.1h-1.1zM475.2 300.8h1.1v1.1h-1.1zM464.0 291.5h1.1v1.1h-1.1zM528.2 310.4h1.1v1.1h-1.1zM709.2 312.0h1.1v1.1h-1.1zM659.4 302.3h1.1v1.1h-1.1zM623.0 329.7h1.1v1.1h-1.1zM647.7 298.1h1.1v1.1h-1.1zM468.0 293.8h1.1v1.1h-1.1zM446.8 304.2h1.1v1.1h-1.1zM697.9 302.9h1.1v1.1h-1.1zM561.2 342.6h1.1v1.1h-1.1zM493.6 302.3h1.1v1.1h-1.1zM641.0 305.7h1.1v1.1h-1.1zM482.4 309.0h1.1v1.1h-1.1zM586.9 348.2h1.1v1.1h-1.1zM608.3 333.6h1.1v1.1h-1.1zM449.0 306.4h1.1v1.1h-1.1zM729.2 296.5h1.1v1.1h-1.1zM459.1 301.2h1.1v1.1h-1.1zM448.4 304.9h1.1v1.1h-1.1zM567.0 375.0h1.1v1.1h-1.1zM452.3 297.8h1.1v1.1h-1.1zM610.8 354.1h1.1v1.1h-1.1zM552.6 358.4h1.1v1.1h-1.1zM687.6 305.2h1.1v1.1h-1.1zM671.8 295.8h1.1v1.1h-1.1zM622.8 306.5h1.1v1.1h-1.1zM466.7 293.1h1.1v1.1h-1.1zM561.2 350.9h1.1v1.1h-1.1zM600.2 369.1h1.1v1.1h-1.1zM446.9 295.0h1.1v1.1h-1.1zM470.2 283.7h1.1v1.1h-1.1zM440.5 294.7h1.1v1.1h-1.1zM713.3 298.1h1.1v1.1h-1.1zM539.5 317.8h1.1v1.1h-1.1zM625.4 326.5h1.1v1.1h-1.1zM484.5 286.7h1.1v1.1h-1.1zM548.5 313.1h1.1v1.1h-1.1zM491.1 304.4h1.1v1.1h-1.1zM682.9 291.0h1.1v1.1h-1.1zM618.4 331.2h1.1v1.1h-1.1zM466.4 289.5h1.1v1.1h-1.1zM515.5 318.6h1.1v1.1h-1.1zM497.6 304.2h1.1v1.1h-1.1zM480.3 319.2h1.1v1.1h-1.1zM575.9 370.9h1.1v1.1h-1.1zM469.7 318.2h1.1v1.1h-1.1zM628.0 325.0h1.1v1.1h-1.1zM466.4 305.9h1.1v1.1h-1.1zM671.2 310.6h1.1v1.1h-1.1zM660.3 278.3h1.1v1.1h-1.1zM446.9 298.2h1.1v1.1h-1.1zM520.2 288.2h1.1v1.1h-1.1zM538.9 322.8h1.1v1.1h-1.1zM508.9 291.7h1.1v1.1h-1.1zM554.3 351.8h1.1v1.1h-1.1zM487.4 300.0h1.1v1.1h-1.1zM715.5 297.8h1.1v1.1h-1.1zM611.0 340.8h1.1v1.1h-1.1zM509.2 306.9h1.1v1.1h-1.1zM599.6 364.8h1.1v1.1h-1.1zM616.9 339.1h1.1v1.1h-1.1zM482.8 303.9h1.1v1.1h-1.1zM483.9 298.5h1.1v1.1h-1.1zM450.6 292.6h1.1v1.1h-1.1zM617.4 342.2h1.1v1.1h-1.1zM599.1 346.5h1.1v1.1h-1.1zM581.4 369.7h1.1v1.1h-1.1zM696.1 300.1h1.1v1.1h-1.1zM657.6 298.8h1.1v1.1h-1.1zM494.5 309.5h1.1v1.1h-1.1zM492.0 303.2h1.1v1.1h-1.1zM608.5 333.9h1.1v1.1h-1.1zM712.3 297.4h1.1v1.1h-1.1zM647.2 308.1h1.1v1.1h-1.1zM533.2 317.8h1.1v1.1h-1.1zM447.3 302.1h1.1v1.1h-1.1zM624.3 328.9h1.1v1.1h-1.1zM710.3 308.7h1.1v1.1h-1.1zM572.7 368.0h1.1v1.1h-1.1zM686.2 300.9h1.1v1.1h-1.1zM607.2 330.0h1.1v1.1h-1.1zM498.8 310.2h1.1v1.1h-1.1zM567.4 366.6h1.1v1.1h-1.1zM618.3 339.9h1.1v1.1h-1.1zM519.9 298.3h1.1v1.1h-1.1zM476.4 311.2h1.1v1.1h-1.1zM503.5 307.0h1.1v1.1h-1.1zM476.1 312.6h1.1v1.1h-1.1zM446.2 313.3h1.1v1.1h-1.1zM546.4 329.1h1.1v1.1h-1.1zM451.5 292.0h1.1v1.1h-1.1zM693.9 303.4h1.1v1.1h-1.1zM585.9 367.1h1.1v1.1h-1.1zM550.4 327.2h1.1v1.1h-1.1zM589.4 365.2h1.1v1.1h-1.1zM447.3 313.4h1.1v1.1h-1.1zM579.7 371.8h1.1v1.1h-1.1zM587.3 371.7h1.1v1.1h-1.1zM570.8 355.9h1.1v1.1h-1.1zM451.2 306.8h1.1v1.1h-1.1zM481.4 313.5h1.1v1.1h-1.1zM453.2 312.4h1.1v1.1h-1.1zM518.3 295.2h1.1v1.1h-1.1zM713.8 294.8h1.1v1.1h-1.1zM660.9 300.7h1.1v1.1h-1.1zM480.9 300.8h1.1v1.1h-1.1zM487.5 296.4h1.1v1.1h-1.1zM499.5 303.1h1.1v1.1h-1.1zM449.0 300.5h1.1v1.1h-1.1zM553.0 336.5h1.1v1.1h-1.1zM442.3 293.9h1.1v1.1h-1.1zM451.4 294.8h1.1v1.1h-1.1zM460.8 291.4h1.1v1.1h-1.1zM630.0 323.8h1.1v1.1h-1.1zM641.6 312.5h1.1v1.1h-1.1zM448.2 304.7h1.1v1.1h-1.1zM620.1 342.1h1.1v1.1h-1.1zM636.4 319.1h1.1v1.1h-1.1zM441.9 289.4h1.1v1.1h-1.1zM605.8 345.8h1.1v1.1h-1.1zM686.8 300.8h1.1v1.1h-1.1zM700.8 292.2h1.1v1.1h-1.1zM448.0 315.9h1.1v1.1h-1.1zM512.8 290.3h1.1v1.1h-1.1zM700.2 311.7h1.1v1.1h-1.1zM531.0 308.8h1.1v1.1h-1.1zM478.1 303.4h1.1v1.1h-1.1zM718.6 296.4h1.1v1.1h-1.1zM661.2 311.4h1.1v1.1h-1.1zM596.6 368.7h1.1v1.1h-1.1zM513.6 300.4h1.1v1.1h-1.1zM718.5 301.6h1.1v1.1h-1.1zM660.8 285.5h1.1v1.1h-1.1zM681.4 302.3h1.1v1.1h-1.1zM720.6 302.9h1.1v1.1h-1.1zM665.1 299.4h1.1v1.1h-1.1zM473.7 286.9h1.1v1.1h-1.1zM592.4 358.7h1.1v1.1h-1.1zM637.4 316.1h1.1v1.1h-1.1zM684.5 307.6h1.1v1.1h-1.1zM598.8 333.1h1.1v1.1h-1.1zM451.9 299.4h1.1v1.1h-1.1zM651.5 305.5h1.1v1.1h-1.1zM611.6 355.2h1.1v1.1h-1.1zM722.0 286.5h1.1v1.1h-1.1zM646.8 305.9h1.1v1.1h-1.1zM591.9 367.0h1.1v1.1h-1.1zM569.7 356.2h1.1v1.1h-1.1zM486.9 302.5h1.1v1.1h-1.1zM495.0 291.5h1.1v1.1h-1.1zM677.6 297.4h1.1v1.1h-1.1zM533.8 314.9h1.1v1.1h-1.1zM655.9 309.7h1.1v1.1h-1.1zM551.9 344.7h1.1v1.1h-1.1zM509.2 293.7h1.1v1.1h-1.1zM655.5 310.0h1.1v1.1h-1.1zM492.4 287.7h1.1v1.1h-1.1zM498.5 299.7h1.1v1.1h-1.1zM443.4 285.8h1.1v1.1h-1.1zM656.2 295.2h1.1v1.1h-1.1zM602.5 363.1h1.1v1.1h-1.1zM546.4 341.3h1.1v1.1h-1.1zM710.2 285.4h1.1v1.1h-1.1zM539.4 336.6h1.1v1.1h-1.1zM510.8 300.3h1.1v1.1h-1.1zM617.2 351.4h1.1v1.1h-1.1zM473.0 291.8h1.1v1.1h-1.1zM592.1 364.8h1.1v1.1h-1.1zM626.0 329.7h1.1v1.1h-1.1zM699.2 290.2h1.1v1.1h-1.1zM449.8 310.3h1.1v1.1h-1.1zM588.0 341.0h1.1v1.1h-1.1zM673.3 295.8h1.1v1.1h-1.1zM540.1 314.6h1.1v1.1h-1.1zM497.3 290.8h1.1v1.1h-1.1zM534.1 318.8h1.1v1.1h-1.1zM641.8 315.6h1.1v1.1h-1.1zM577.1 361.0h1.1v1.1h-1.1zM514.0 303.6h1.1v1.1h-1.1zM479.8 312.5h1.1v1.1h-1.1zM652.3 309.2h1.1v1.1h-1.1zM703.1 304.9h1.1v1.1h-1.1zM446.4 307.0h1.1v1.1h-1.1zM516.6 310.5h1.1v1.1h-1.1zM642.7 306.9h1.1v1.1h-1.1zM666.2 301.2h1.1v1.1h-1.1zM441.6 292.7h1.1v1.1h-1.1zM642.7 305.5h1.1v1.1h-1.1zM549.0 337.2h1.1v1.1h-1.1zM641.6 305.0h1.1v1.1h-1.1zM477.1 299.9h1.1v1.1h-1.1zM508.3 308.4h1.1v1.1h-1.1zM686.0 287.8h1.1v1.1h-1.1zM594.4 348.3h1.1v1.1h-1.1zM699.0 297.2h1.1v1.1h-1.1zM443.3 298.3h1.1v1.1h-1.1zM457.7 306.8h1.1v1.1h-1.1zM702.6 299.3h1.1v1.1h-1.1zM476.0 299.7h1.1v1.1h-1.1zM651.0 320.1h1.1v1.1h-1.1zM615.3 335.1h1.1v1.1h-1.1zM632.5 310.4h1.1v1.1h-1.1zM538.8 317.4h1.1v1.1h-1.1zM519.7 296.1h1.1v1.1h-1.1zM623.0 323.7h1.1v1.1h-1.1zM655.3 312.5h1.1v1.1h-1.1zM552.4 319.4h1.1v1.1h-1.1zM518.8 300.2h1.1v1.1h-1.1zM452.6 297.1h1.1v1.1h-1.1zM473.0 296.8h1.1v1.1h-1.1zM704.4 303.8h1.1v1.1h-1.1zM596.5 363.2h1.1v1.1h-1.1zM659.2 292.9h1.1v1.1h-1.1zM606.2 346.8h1.1v1.1h-1.1zM619.0 346.2h1.1v1.1h-1.1zM596.1 365.2h1.1v1.1h-1.1zM480.8 299.4h1.1v1.1h-1.1zM515.5 285.0h1.1v1.1h-1.1zM468.4 296.6h1.1v1.1h-1.1zM719.4 291.3h1.1v1.1h-1.1zM580.8 345.8h1.1v1.1h-1.1zM552.1 317.4h1.1v1.1h-1.1zM611.4 344.7h1.1v1.1h-1.1zM669.1 291.7h1.1v1.1h-1.1zM601.7 363.3h1.1v1.1h-1.1zM534.3 320.7h1.1v1.1h-1.1zM523.0 300.8h1.1v1.1h-1.1zM673.5 316.2h1.1v1.1h-1.1zM710.8 304.1h1.1v1.1h-1.1zM697.9 292.6h1.1v1.1h-1.1zM465.0 294.7h1.1v1.1h-1.1zM636.8 303.2h1.1v1.1h-1.1zM632.4 320.5h1.1v1.1h-1.1zM624.8 334.0h1.1v1.1h-1.1zM572.7 356.5h1.1v1.1h-1.1zM578.4 362.8h1.1v1.1h-1.1zM530.0 320.6h1.1v1.1h-1.1zM553.6 332.9h1.1v1.1h-1.1zM715.6 297.0h1.1v1.1h-1.1zM582.9 352.8h1.1v1.1h-1.1zM714.2 266.1h1.1v1.1h-1.1zM593.3 361.6h1.1v1.1h-1.1zM646.9 310.3h1.1v1.1h-1.1zM600.0 343.3h1.1v1.1h-1.1zM551.8 336.4h1.1v1.1h-1.1zM676.5 289.7h1.1v1.1h-1.1zM608.7 339.5h1.1v1.1h-1.1zM716.1 301.2h1.1v1.1h-1.1zM442.4 295.0h1.1v1.1h-1.1zM672.2 312.9h1.1v1.1h-1.1zM579.2 351.2h1.1v1.1h-1.1zM614.2 341.3h1.1v1.1h-1.1zM482.4 293.7h1.1v1.1h-1.1zM466.3 279.0h1.1v1.1h-1.1zM656.0 303.7h1.1v1.1h-1.1zM456.6 304.8h1.1v1.1h-1.1zM553.4 331.7h1.1v1.1h-1.1zM718.8 295.2h1.1v1.1h-1.1zM659.8 318.2h1.1v1.1h-1.1zM439.7 299.2h1.1v1.1h-1.1zM587.3 352.5h1.1v1.1h-1.1zM558.6 349.9h1.1v1.1h-1.1zM654.0 305.7h1.1v1.1h-1.1zM683.4 293.9h1.1v1.1h-1.1zM622.8 325.1h1.1v1.1h-1.1zM550.1 341.5h1.1v1.1h-1.1zM558.7 349.8h1.1v1.1h-1.1zM452.3 309.8h1.1v1.1h-1.1zM728.5 263.0h1.1v1.1h-1.1zM590.2 349.3h1.1v1.1h-1.1zM484.9 297.5h1.1v1.1h-1.1zM521.4 296.6h1.1v1.1h-1.1zM716.6 306.1h1.1v1.1h-1.1zM680.4 313.0h1.1v1.1h-1.1zM596.4 348.5h1.1v1.1h-1.1zM513.8 309.0h1.1v1.1h-1.1zM713.7 281.6h1.1v1.1h-1.1zM642.0 310.6h1.1v1.1h-1.1zM509.7 306.6h1.1v1.1h-1.1zM610.7 345.5h1.1v1.1h-1.1zM625.5 310.8h1.1v1.1h-1.1zM619.9 335.0h1.1v1.1h-1.1zM645.8 303.9h1.1v1.1h-1.1zM634.8 306.9h1.1v1.1h-1.1zM537.4 320.1h1.1v1.1h-1.1zM452.6 293.5h1.1v1.1h-1.1zM533.3 339.4h1.1v1.1h-1.1zM603.6 353.1h1.1v1.1h-1.1zM625.4 336.8h1.1v1.1h-1.1zM557.8 351.6h1.1v1.1h-1.1zM591.8 371.1h1.1v1.1h-1.1zM563.5 344.9h1.1v1.1h-1.1zM584.2 350.6h1.1v1.1h-1.1zM588.6 358.6h1.1v1.1h-1.1zM591.9 378.0h1.1v1.1h-1.1zM591.6 348.1h1.1v1.1h-1.1zM703.3 302.5h1.1v1.1h-1.1zM555.7 349.3h1.1v1.1h-1.1zM490.1 295.9h1.1v1.1h-1.1zM459.8 286.9h1.1v1.1h-1.1zM451.4 311.5h1.1v1.1h-1.1zM596.1 373.4h1.1v1.1h-1.1zM543.8 338.7h1.1v1.1h-1.1zM506.1 299.6h1.1v1.1h-1.1zM544.1 327.7h1.1v1.1h-1.1zM449.4 293.0h1.1v1.1h-1.1zM486.3 285.6h1.1v1.1h-1.1zM577.2 361.2h1.1v1.1h-1.1zM571.3 353.5h1.1v1.1h-1.1zM480.1 296.8h1.1v1.1h-1.1zM681.4 300.5h1.1v1.1h-1.1zM469.0 291.3h1.1v1.1h-1.1zM715.0 306.2h1.1v1.1h-1.1zM709.4 311.0h1.1v1.1h-1.1zM729.2 287.0h1.1v1.1h-1.1zM652.7 304.9h1.1v1.1h-1.1zM708.7 304.0h1.1v1.1h-1.1zM616.4 336.5h1.1v1.1h-1.1zM631.6 311.0h1.1v1.1h-1.1zM529.4 303.7h1.1v1.1h-1.1zM625.5 326.2h1.1v1.1h-1.1zM448.2 302.6h1.1v1.1h-1.1zM687.3 315.3h1.1v1.1h-1.1zM501.7 307.9h1.1v1.1h-1.1zM475.2 299.9h1.1v1.1h-1.1zM702.6 293.6h1.1v1.1h-1.1zM615.0 337.4h1.1v1.1h-1.1zM575.0 366.8h1.1v1.1h-1.1zM553.7 326.6h1.1v1.1h-1.1zM638.4 314.0h1.1v1.1h-1.1zM486.5 295.2h1.1v1.1h-1.1zM600.9 361.9h1.1v1.1h-1.1zM524.4 304.9h1.1v1.1h-1.1zM522.7 299.4h1.1v1.1h-1.1zM616.2 357.2h1.1v1.1h-1.1zM650.1 308.7h1.1v1.1h-1.1zM504.3 315.1h1.1v1.1h-1.1zM513.0 306.8h1.1v1.1h-1.1zM572.1 371.9h1.1v1.1h-1.1zM529.5 327.6h1.1v1.1h-1.1zM696.0 303.7h1.1v1.1h-1.1zM550.9 323.9h1.1v1.1h-1.1zM635.3 314.0h1.1v1.1h-1.1zM481.7 303.9h1.1v1.1h-1.1zM478.6 290.5h1.1v1.1h-1.1zM632.3 330.8h1.1v1.1h-1.1zM613.5 329.7h1.1v1.1h-1.1zM475.9 298.9h1.1v1.1h-1.1zM588.9 356.8h1.1v1.1h-1.1zM569.7 351.9h1.1v1.1h-1.1zM608.9 348.1h1.1v1.1h-1.1zM498.0 285.7h1.1v1.1h-1.1zM442.7 286.1h1.1v1.1h-1.1zM630.5 325.0h1.1v1.1h-1.1zM565.8 348.5h1.1v1.1h-1.1zM522.3 310.2h1.1v1.1h-1.1zM697.2 300.4h1.1v1.1h-1.1zM716.7 316.3h1.1v1.1h-1.1zM489.0 305.4h1.1v1.1h-1.1zM457.8 303.5h1.1v1.1h-1.1zM519.1 302.7h1.1v1.1h-1.1zM462.7 301.8h1.1v1.1h-1.1zM542.5 326.6h1.1v1.1h-1.1zM621.3 329.0h1.1v1.1h-1.1zM564.7 349.8h1.1v1.1h-1.1zM549.5 333.2h1.1v1.1h-1.1zM621.0 343.5h1.1v1.1h-1.1zM634.8 315.5h1.1v1.1h-1.1zM496.3 292.0h1.1v1.1h-1.1zM641.6 306.9h1.1v1.1h-1.1zM580.8 358.8h1.1v1.1h-1.1zM578.9 349.2h1.1v1.1h-1.1zM585.3 357.7h1.1v1.1h-1.1zM450.9 289.7h1.1v1.1h-1.1zM504.5 295.3h1.1v1.1h-1.1zM695.9 300.7h1.1v1.1h-1.1zM535.8 322.2h1.1v1.1h-1.1zM647.6 294.7h1.1v1.1h-1.1zM557.5 349.9h1.1v1.1h-1.1zM721.1 305.6h1.1v1.1h-1.1zM598.8 343.0h1.1v1.1h-1.1zM527.0 306.4h1.1v1.1h-1.1zM725.7 302.6h1.1v1.1h-1.1zM604.3 327.6h1.1v1.1h-1.1zM628.5 320.9h1.1v1.1h-1.1zM505.9 307.0h1.1v1.1h-1.1zM515.4 299.0h1.1v1.1h-1.1zM583.3 358.9h1.1v1.1h-1.1zM693.4 298.6h1.1v1.1h-1.1zM622.1 328.0h1.1v1.1h-1.1zM681.6 308.9h1.1v1.1h-1.1zM575.4 368.2h1.1v1.1h-1.1zM667.8 305.6h1.1v1.1h-1.1zM625.7 327.3h1.1v1.1h-1.1zM545.5 339.7h1.1v1.1h-1.1zM571.9 357.7h1.1v1.1h-1.1zM533.7 299.8h1.1v1.1h-1.1zM564.9 345.9h1.1v1.1h-1.1zM707.1 306.6h1.1v1.1h-1.1zM555.2 351.6h1.1v1.1h-1.1zM510.8 301.5h1.1v1.1h-1.1zM528.6 305.5h1.1v1.1h-1.1zM543.0 313.5h1.1v1.1h-1.1zM618.5 359.7h1.1v1.1h-1.1zM546.8 326.8h1.1v1.1h-1.1zM460.1 312.0h1.1v1.1h-1.1zM466.6 296.5h1.1v1.1h-1.1zM605.6 348.1h1.1v1.1h-1.1zM641.2 302.6h1.1v1.1h-1.1zM594.9 350.3h1.1v1.1h-1.1zM470.4 285.5h1.1v1.1h-1.1zM729.2 286.5h1.1v1.1h-1.1zM605.3 352.2h1.1v1.1h-1.1zM440.6 300.1h1.1v1.1h-1.1zM702.0 290.1h1.1v1.1h-1.1zM451.2 307.2h1.1v1.1h-1.1zM465.3 299.6h1.1v1.1h-1.1zM553.8 333.8h1.1v1.1h-1.1zM597.1 360.2h1.1v1.1h-1.1zM500.0 292.7h1.1v1.1h-1.1zM643.6 301.7h1.1v1.1h-1.1zM581.5 367.2h1.1v1.1h-1.1zM463.0 305.9h1.1v1.1h-1.1zM449.8 292.8h1.1v1.1h-1.1zM618.2 314.9h1.1v1.1h-1.1zM463.2 297.7h1.1v1.1h-1.1zM618.4 317.9h1.1v1.1h-1.1zM447.0 286.4h1.1v1.1h-1.1zM559.8 356.9h1.1v1.1h-1.1zM611.1 340.5h1.1v1.1h-1.1zM583.8 350.0h1.1v1.1h-1.1zM628.3 321.2h1.1v1.1h-1.1zM720.9 300.7h1.1v1.1h-1.1zM487.7 298.0h1.1v1.1h-1.1zM491.2 298.8h1.1v1.1h-1.1zM544.7 332.2h1.1v1.1h-1.1zM520.0 300.8h1.1v1.1h-1.1zM587.7 373.7h1.1v1.1h-1.1zM496.2 299.8h1.1v1.1h-1.1zM495.5 300.4h1.1v1.1h-1.1zM629.6 322.1h1.1v1.1h-1.1zM690.3 303.4h1.1v1.1h-1.1zM685.3 296.7h1.1v1.1h-1.1zM555.0 353.9h1.1v1.1h-1.1zM528.9 314.2h1.1v1.1h-1.1zM578.8 349.1h1.1v1.1h-1.1zM543.6 334.2h1.1v1.1h-1.1zM637.9 322.0h1.1v1.1h-1.1zM509.5 310.4h1.1v1.1h-1.1zM627.4 335.7h1.1v1.1h-1.1zM585.4 359.6h1.1v1.1h-1.1zM676.0 306.8h1.1v1.1h-1.1zM728.6 306.7h1.1v1.1h-1.1zM517.4 319.4h1.1v1.1h-1.1zM520.6 302.8h1.1v1.1h-1.1zM481.7 292.4h1.1v1.1h-1.1zM653.6 301.1h1.1v1.1h-1.1zM699.9 302.6h1.1v1.1h-1.1zM576.6 359.9h1.1v1.1h-1.1zM619.8 332.7h1.1v1.1h-1.1zM684.2 303.0h1.1v1.1h-1.1zM502.5 295.6h1.1v1.1h-1.1zM555.0 349.0h1.1v1.1h-1.1zM677.4 288.3h1.1v1.1h-1.1zM556.0 354.3h1.1v1.1h-1.1zM463.9 300.6h1.1v1.1h-1.1zM670.3 302.2h1.1v1.1h-1.1zM648.4 322.8h1.1v1.1h-1.1zM725.5 297.9h1.1v1.1h-1.1zM590.7 353.6h1.1v1.1h-1.1zM707.0 284.6h1.1v1.1h-1.1zM622.7 314.4h1.1v1.1h-1.1zM705.2 298.0h1.1v1.1h-1.1zM682.4 303.2h1.1v1.1h-1.1zM531.2 309.1h1.1v1.1h-1.1zM606.4 349.3h1.1v1.1h-1.1zM512.7 311.1h1.1v1.1h-1.1zM673.0 293.8h1.1v1.1h-1.1zM628.9 334.5h1.1v1.1h-1.1zM560.8 343.6h1.1v1.1h-1.1zM462.0 295.7h1.1v1.1h-1.1zM703.5 281.2h1.1v1.1h-1.1zM538.9 325.8h1.1v1.1h-1.1zM602.1 350.8h1.1v1.1h-1.1zM650.0 298.6h1.1v1.1h-1.1zM480.6 293.0h1.1v1.1h-1.1zM529.4 312.2h1.1v1.1h-1.1zM607.9 345.7h1.1v1.1h-1.1zM647.5 301.1h1.1v1.1h-1.1zM649.3 305.7h1.1v1.1h-1.1zM530.5 316.8h1.1v1.1h-1.1zM447.0 288.4h1.1v1.1h-1.1zM598.5 353.0h1.1v1.1h-1.1zM493.4 287.5h1.1v1.1h-1.1zM686.0 296.9h1.1v1.1h-1.1zM440.9 311.9h1.1v1.1h-1.1zM510.9 306.3h1.1v1.1h-1.1zM663.7 302.4h1.1v1.1h-1.1zM540.2 339.6h1.1v1.1h-1.1zM554.7 341.8h1.1v1.1h-1.1zM534.9 314.7h1.1v1.1h-1.1zM666.1 305.8h1.1v1.1h-1.1zM560.3 348.8h1.1v1.1h-1.1zM567.9 356.4h1.1v1.1h-1.1zM490.7 296.9h1.1v1.1h-1.1zM550.3 339.9h1.1v1.1h-1.1zM566.5 355.1h1.1v1.1h-1.1zM723.0 305.7h1.1v1.1h-1.1zM540.4 315.1h1.1v1.1h-1.1zM626.2 331.0h1.1v1.1h-1.1zM592.1 359.6h1.1v1.1h-1.1zM532.2 305.3h1.1v1.1h-1.1zM703.0 293.0h1.1v1.1h-1.1zM504.3 300.2h1.1v1.1h-1.1zM455.5 298.8h1.1v1.1h-1.1zM632.0 322.8h1.1v1.1h-1.1zM553.5 337.4h1.1v1.1h-1.1zM676.0 292.2h1.1v1.1h-1.1zM451.1 299.4h1.1v1.1h-1.1zM455.6 298.2h1.1v1.1h-1.1zM681.2 307.8h1.1v1.1h-1.1zM476.2 303.2h1.1v1.1h-1.1zM492.5 299.3h1.1v1.1h-1.1zM622.6 326.9h1.1v1.1h-1.1zM661.8 299.5h1.1v1.1h-1.1zM561.4 355.5h1.1v1.1h-1.1zM538.2 323.7h1.1v1.1h-1.1zM684.4 305.1h1.1v1.1h-1.1zM545.7 327.3h1.1v1.1h-1.1zM454.5 303.0h1.1v1.1h-1.1zM517.0 300.0h1.1v1.1h-1.1zM711.8 288.7h1.1v1.1h-1.1zM592.9 357.1h1.1v1.1h-1.1zM566.0 341.4h1.1v1.1h-1.1zM549.4 323.3h1.1v1.1h-1.1zM594.4 350.3h1.1v1.1h-1.1zM488.7 305.8h1.1v1.1h-1.1zM660.5 302.4h1.1v1.1h-1.1zM605.0 351.8h1.1v1.1h-1.1zM712.0 283.7h1.1v1.1h-1.1zM700.2 297.3h1.1v1.1h-1.1zM602.6 366.6h1.1v1.1h-1.1zM540.1 317.3h1.1v1.1h-1.1zM633.8 317.7h1.1v1.1h-1.1zM627.1 322.7h1.1v1.1h-1.1zM575.5 361.1h1.1v1.1h-1.1zM689.2 304.0h1.1v1.1h-1.1zM632.5 328.1h1.1v1.1h-1.1zM668.7 290.5h1.1v1.1h-1.1zM648.1 312.3h1.1v1.1h-1.1zM572.2 356.6h1.1v1.1h-1.1zM697.2 286.9h1.1v1.1h-1.1zM705.8 302.6h1.1v1.1h-1.1zM605.9 345.5h1.1v1.1h-1.1zM648.7 311.3h1.1v1.1h-1.1zM684.7 279.4h1.1v1.1h-1.1zM706.7 300.3h1.1v1.1h-1.1zM529.5 303.5h1.1v1.1h-1.1zM491.7 291.4h1.1v1.1h-1.1zM650.1 312.5h1.1v1.1h-1.1zM659.2 293.7h1.1v1.1h-1.1zM633.1 319.5h1.1v1.1h-1.1zM568.0 362.3h1.1v1.1h-1.1zM627.4 333.0h1.1v1.1h-1.1zM710.7 293.0h1.1v1.1h-1.1zM592.4 357.1h1.1v1.1h-1.1zM643.0 313.4h1.1v1.1h-1.1zM632.8 320.0h1.1v1.1h-1.1zM651.4 291.8h1.1v1.1h-1.1zM577.7 348.1h1.1v1.1h-1.1zM499.0 298.7h1.1v1.1h-1.1zM556.4 347.0h1.1v1.1h-1.1zM502.0 297.1h1.1v1.1h-1.1zM650.4 296.5h1.1v1.1h-1.1zM710.7 297.4h1.1v1.1h-1.1zM572.5 365.6h1.1v1.1h-1.1zM711.9 302.9h1.1v1.1h-1.1zM567.7 367.0h1.1v1.1h-1.1zM598.9 362.6h1.1v1.1h-1.1z" fill="#e0485e" opacity="0.55"/>
<line x1="530.6" y1="241.5" x2="530.6" y2="384.5" stroke="#111" stroke-width="1.60" stroke-dasharray="1.6,2.6"/>
<line x1="632.6" y1="241.5" x2="632.6" y2="384.5" stroke="#111" stroke-width="1.60" stroke-dasharray="1.6,2.6"/>
<path d="M439.4,286.4 L440.9,286.2 L442.9,286.0 L445.2,285.8 L447.8,285.5 L450.7,285.2 L453.7,284.9 L456.8,284.6 L460.0,284.3 L463.4,284.0 L467.0,283.6 L470.9,283.2 L474.9,282.8 L478.9,282.4 L482.8,282.0 L486.6,281.6 L490.0,281.3 L493.2,281.0 L496.3,280.6 L499.2,280.3 L502.1,280.0 L504.8,279.7 L507.3,279.5 L509.7,279.2 L512.0,279.0 L514.1,278.8 L516.0,278.6 L517.7,278.5 L519.2,278.3 L520.7,278.2 L522.2,278.1 L523.6,278.0 L525.0,278.0 L526.4,278.0 L527.6,278.0 L528.8,278.0 L529.9,278.1 L531.0,278.1 L532.2,278.3 L533.5,278.4 L535.0,278.6 L536.6,278.9 L538.2,279.2 L539.9,279.5 L541.7,279.9 L543.6,280.3 L545.6,280.7 L547.7,281.1 L550.0,281.5 L552.5,281.9 L555.1,282.2 L557.9,282.6 L560.8,283.0 L563.7,283.3 L566.8,283.6 L569.9,283.9 L573.0,284.0 L576.1,284.0 L579.4,284.0 L582.6,283.9 L585.9,283.7 L589.3,283.6 L592.8,283.4 L596.4,283.2 L600.0,283.0 L603.8,282.9 L607.9,282.7 L612.0,282.5 L616.2,282.4 L620.4,282.2 L624.5,282.0 L628.4,281.9 L632.0,281.7 L635.4,281.5 L638.6,281.3 L641.6,281.1 L644.6,280.9 L647.4,280.7 L650.0,280.5 L652.6,280.4 L655.0,280.4 L657.3,280.4 L659.3,280.5 L661.2,280.7 L663.0,280.9 L664.7,281.1 L666.4,281.3 L668.2,281.6 L670.0,281.8 L671.9,282.0 L673.8,282.3 L675.6,282.6 L677.5,282.9 L679.4,283.2 L681.2,283.5 L683.1,283.8 L685.0,284.0 L686.9,284.2 L688.8,284.3 L690.6,284.4 L692.5,284.5 L694.4,284.6 L696.2,284.6 L698.1,284.7 L700.0,284.7 L701.9,284.7 L703.8,284.7 L705.7,284.7 L707.6,284.6 L709.4,284.5 L711.3,284.4 L713.2,284.3 L715.0,284.2 L716.9,284.0 L718.9,283.8 L720.9,283.5 L722.9,283.3 L724.8,283.0 L726.5,282.8 L727.9,282.5 L729.0,282.4" fill="none" stroke="#1f1ff0" stroke-width="3.2" stroke-linecap="round"/>
<path d="M439.4,299.4 L441.8,299.3 L444.9,299.2 L448.7,299.0 L452.8,298.9 L457.2,298.7 L461.7,298.6 L466.0,298.6 L470.0,298.6 L473.9,298.7 L477.9,298.9 L482.0,299.1 L486.0,299.3 L489.9,299.6 L493.6,299.9 L497.0,300.2 L500.0,300.5 L502.6,300.8 L505.0,301.1 L507.1,301.4 L508.9,301.8 L510.6,302.1 L512.2,302.5 L513.6,302.9 L515.0,303.2 L516.3,303.5 L517.3,303.8 L518.3,304.2 L519.1,304.5 L519.8,304.8 L520.5,305.1 L521.2,305.5 L522.0,306.0 L522.8,306.5 L523.6,307.1 L524.4,307.7 L525.1,308.4 L525.9,309.1 L526.6,309.7 L527.3,310.3 L528.0,310.9 L528.7,311.4 L529.4,311.8 L530.0,312.3 L530.6,312.6 L531.3,313.1 L531.9,313.5 L532.6,314.0 L533.2,314.5 L533.9,315.1 L534.5,315.8 L535.2,316.4 L535.8,317.1 L536.5,317.9 L537.1,318.6 L537.8,319.4 L538.4,320.2 L539.0,321.0 L539.7,321.8 L540.4,322.6 L541.0,323.5 L541.6,324.4 L542.3,325.2 L542.9,326.1 L543.6,327.0 L544.2,327.9 L544.9,328.8 L545.6,329.7 L546.2,330.6 L546.9,331.5 L547.5,332.5 L548.1,333.4 L548.8,334.3 L549.5,335.2 L550.1,336.1 L550.8,337.0 L551.4,337.9 L552.1,338.8 L552.7,339.7 L553.4,340.6 L554.0,341.5 L554.6,342.4 L555.3,343.3 L555.9,344.1 L556.5,345.0 L557.2,345.9 L557.8,346.7 L558.5,347.5 L559.1,348.3 L559.7,349.0 L560.4,349.7 L561.0,350.4 L561.7,351.1 L562.3,351.7 L563.0,352.3 L563.6,352.9 L564.3,353.5 L564.9,354.1 L565.6,354.6 L566.2,355.2 L566.9,355.7 L567.5,356.2 L568.2,356.7 L568.8,357.1 L569.5,357.6 L570.1,358.0 L570.8,358.5 L571.4,358.9 L572.1,359.3 L572.7,359.7 L573.4,360.1 L574.0,360.4 L574.7,360.7 L575.4,361.0 L576.0,361.2 L576.7,361.5 L577.4,361.7 L578.0,361.9 L578.7,362.0 L579.4,362.1 L580.0,362.2 L580.6,362.2 L581.1,362.2 L581.7,362.2 L582.2,362.1 L582.7,362.0 L583.4,361.8 L584.1,361.5 L585.0,361.2 L586.0,360.8 L587.2,360.3 L588.5,359.7 L589.9,359.0 L591.3,358.4 L592.7,357.6 L594.1,356.8 L595.4,356.0 L596.7,355.1 L598.0,354.2 L599.3,353.3 L600.6,352.3 L601.9,351.3 L603.2,350.2 L604.5,349.0 L605.8,347.8 L607.1,346.5 L608.4,345.1 L609.7,343.6 L610.9,342.1 L612.2,340.5 L613.5,338.9 L614.8,337.3 L616.1,335.8 L617.4,334.2 L618.8,332.6 L620.2,330.9 L621.6,329.2 L622.9,327.6 L624.2,326.0 L625.4,324.6 L626.5,323.4 L627.4,322.4 L628.2,321.5 L628.9,320.8 L629.5,320.1 L630.1,319.5 L630.7,318.9 L631.4,318.3 L632.2,317.6 L633.1,316.8 L634.1,316.0 L635.1,315.1 L636.1,314.2 L637.2,313.4 L638.2,312.6 L639.1,311.9 L640.0,311.2 L640.8,310.6 L641.4,310.2 L642.1,309.8 L642.7,309.4 L643.2,309.0 L643.8,308.7 L644.4,308.4 L645.0,308.0 L645.6,307.6 L646.1,307.3 L646.7,306.9 L647.2,306.5 L647.8,306.2 L648.4,305.8 L649.1,305.4 L650.0,305.0 L651.0,304.6 L652.1,304.1 L653.4,303.6 L654.7,303.1 L656.0,302.6 L657.4,302.1 L658.7,301.7 L660.0,301.3 L661.2,301.0 L662.3,300.7 L663.3,300.5 L664.4,300.3 L665.5,300.1 L666.8,299.9 L668.3,299.7 L670.0,299.6 L672.0,299.5 L674.3,299.4 L676.8,299.3 L679.4,299.2 L682.1,299.2 L684.8,299.1 L687.4,299.1 L690.0,299.0 L692.5,298.9 L695.0,298.9 L697.5,298.9 L700.1,298.8 L702.6,298.8 L705.1,298.8 L707.5,298.7 L710.0,298.7 L712.6,298.6 L715.3,298.6 L718.0,298.5 L720.8,298.4 L723.3,298.4 L725.6,298.3 L727.5,298.2 L729.0,298.2" fill="none" stroke="#f01010" stroke-width="3.2" stroke-linecap="round"/>
<text x="447.0" y="344.7" font-size="13.8" fill="#2a2ae0">G<tspan font-size="11.5">0</tspan></text>
<text x="447.0" y="361.5" font-size="13.70" fill="#e82020" text-anchor="start" font-weight="normal" font-style="normal" >Activated</text>
<text x="96.0" y="438.2" font-size="19.50" fill="#000" text-anchor="start" font-weight="bold" font-style="normal" >E</text>
<text x="0" y="0" font-size="14.80" fill="#111" text-anchor="middle" font-weight="normal" transform="translate(107.6,516.5) rotate(-90)">rpkm</text>
<line x1="130.4" y1="454.0" x2="130.4" y2="514.0" stroke="#777" stroke-width="1.00" />
<line x1="128.2" y1="454.5" x2="130.4" y2="454.5" stroke="#777" stroke-width="1.00" />
<line x1="128.2" y1="513.5" x2="130.4" y2="513.5" stroke="#777" stroke-width="1.00" />
<text x="126.0" y="460.5" font-size="10.00" fill="#222" text-anchor="end" font-weight="normal" font-style="normal" >40</text>
<text x="126.0" y="516.5" font-size="10.00" fill="#222" text-anchor="end" font-weight="normal" font-style="normal" >0</text>
<line x1="130.4" y1="521.2" x2="130.4" y2="580.4" stroke="#777" stroke-width="1.00" />
<line x1="128.2" y1="521.7" x2="130.4" y2="521.7" stroke="#777" stroke-width="1.00" />
<line x1="128.2" y1="579.9" x2="130.4" y2="579.9" stroke="#777" stroke-width="1.00" />
<text x="126.0" y="527.7" font-size="10.00" fill="#222" text-anchor="end" font-weight="normal" font-style="normal" >40</text>
<text x="126.0" y="582.9" font-size="10.00" fill="#222" text-anchor="end" font-weight="normal" font-style="normal" >0</text>
<text x="272.6" y="476.0" font-size="14.40" fill="#1a1ad8" text-anchor="middle" font-weight="bold" font-style="normal" >Chd4</text>
<text x="471.0" y="484.8" font-size="13.40" fill="#111" text-anchor="end" font-weight="normal" font-style="normal" >G<tspan font-size="10.5">0</tspan></text>
<text x="470.5" y="546.2" font-size="13.40" fill="#111" text-anchor="end" font-weight="normal" font-style="normal" >Activated</text>
<text x="134.7" y="524.8" font-size="9.45" fill="#777" text-anchor="start" font-weight="normal" font-style="normal" >chr7:31,602,170-31,858,953</text>
<path d="M134.6,513.3 L134.6,511.3 L135.1,509.9 L135.6,511.2 L136.1,509.4 L136.6,510.3 L137.1,508.7 L137.6,507.7 L138.1,505.2 L138.2,501.2 L138.6,503.2 L139.1,506.4 L139.6,510.0 L140.1,510.8 L140.6,511.4 L141.1,510.7 L141.6,509.3 L142.1,509.0 L142.6,510.1 L143.1,510.3 L143.6,511.7 L144.1,511.1 L144.6,511.2 L145.1,508.9 L145.6,509.1 L146.1,509.5 L146.6,509.5 L147.1,509.6 L147.6,510.4 L148.1,511.2 L148.6,509.1 L149.1,510.7 L149.6,508.8 L150.1,507.1 L150.2,506.0 L150.6,508.5 L151.1,510.0 L151.6,511.3 L152.1,509.0 L152.6,510.9 L153.1,509.4 L153.6,505.9 L153.8,504.8 L154.1,507.3 L154.6,509.2 L155.1,510.7 L155.6,509.2 L156.1,511.6 L156.6,509.5 L157.1,509.3 L157.6,511.0 L158.1,510.5 L158.6,511.6 L159.1,509.1 L159.6,508.8 L160.1,509.6 L160.6,510.4 L161.1,511.0 L161.6,508.9 L162.1,510.2 L162.6,509.6 L163.1,511.7 L163.6,509.3 L164.1,509.2 L164.6,510.5 L165.1,509.3 L165.6,510.2 L166.1,508.1 L166.6,498.5 L167.0,492.8 L167.1,496.6 L167.6,503.1 L168.1,508.3 L168.6,508.9 L169.1,511.4 L169.6,511.5 L170.1,510.5 L170.6,509.2 L171.1,511.4 L171.6,510.2 L172.1,510.8 L172.6,510.3 L173.1,511.1 L173.6,511.3 L174.1,511.2 L174.6,510.7 L175.1,509.7 L175.6,510.1 L176.1,511.7 L176.6,509.2 L177.1,509.4 L177.6,510.4 L178.1,509.5 L178.6,509.7 L179.1,509.7 L179.6,511.7 L180.1,510.9 L180.6,510.9 L181.1,510.2 L181.6,511.5 L182.1,510.3 L182.6,508.9 L183.1,509.7 L183.6,510.1 L184.1,509.4 L184.6,510.7 L185.1,511.3 L185.6,509.4 L186.1,509.2 L186.6,509.0 L187.1,509.1 L187.6,506.5 L188.0,505.0 L188.1,506.6 L188.6,500.4 L189.1,496.2 L189.3,489.7 L189.6,496.0 L190.1,500.2 L190.6,507.2 L191.1,509.0 L191.6,508.8 L192.1,510.6 L192.6,510.9 L193.1,511.0 L193.6,508.6 L194.1,506.5 L194.6,498.8 L195.1,505.2 L195.6,508.1 L196.1,510.5 L196.6,511.3 L197.1,511.2 L197.6,509.4 L198.1,511.7 L198.6,510.0 L199.1,511.1 L199.6,510.2 L200.1,510.9 L200.6,509.1 L201.1,511.4 L201.6,509.3 L202.1,511.7 L202.6,510.6 L203.1,511.1 L203.6,509.3 L204.1,511.7 L204.6,509.1 L205.1,511.2 L205.6,510.0 L206.1,508.1 L206.6,504.1 L207.1,494.0 L207.6,503.0 L208.1,508.3 L208.6,510.5 L209.1,509.8 L209.6,509.0 L210.1,507.8 L210.6,507.5 L211.1,505.9 L211.6,504.3 L212.0,503.0 L212.1,504.0 L212.6,504.5 L213.1,505.0 L213.6,497.0 L214.1,490.8 L214.5,480.3 L214.6,482.3 L215.1,497.7 L215.6,499.9 L216.1,506.7 L216.6,509.9 L217.1,509.4 L217.6,511.7 L218.1,509.8 L218.6,510.2 L219.1,511.1 L219.6,509.5 L220.1,510.7 L220.6,510.2 L221.1,509.3 L221.6,509.6 L222.1,510.6 L222.6,510.1 L223.1,509.6 L223.6,507.0 L224.1,501.5 L224.6,488.4 L225.1,482.8 L225.3,464.0 L225.6,475.7 L226.1,496.4 L226.6,504.8 L227.1,502.6 L227.5,500.0 L227.6,501.8 L228.1,506.4 L228.6,504.0 L229.1,505.0 L229.6,499.1 L229.9,492.8 L230.1,499.1 L230.6,504.6 L231.1,500.0 L231.3,492.8 L231.6,501.8 L232.1,505.9 L232.6,509.7 L233.1,511.3 L233.6,509.8 L234.1,510.7 L234.6,509.1 L235.1,508.2 L235.6,506.1 L235.9,502.4 L236.1,506.0 L236.6,509.1 L237.1,510.5 L237.6,511.4 L238.1,511.5 L238.6,510.5 L239.1,510.7 L239.6,510.5 L240.1,509.9 L240.6,510.4 L241.1,510.1 L241.6,510.7 L242.1,511.2 L242.6,510.3 L243.1,510.9 L243.6,511.2 L244.1,510.5 L244.6,511.7 L245.1,509.2 L245.6,509.8 L246.1,509.8 L246.6,507.7 L246.9,504.8 L247.1,507.0 L247.6,509.3 L248.1,510.4 L248.6,509.1 L249.1,511.4 L249.6,509.5 L250.1,509.2 L250.6,510.8 L251.1,511.3 L251.6,509.9 L252.1,511.0 L252.6,510.0 L253.1,509.4 L253.4,508.4 L253.6,509.0 L254.1,510.3 L254.6,510.3 L255.1,509.8 L255.6,509.8 L256.1,511.4 L256.6,511.4 L257.1,511.5 L257.6,509.5 L258.1,511.7 L258.6,509.9 L259.1,511.5 L259.6,510.3 L260.1,510.9 L260.6,510.5 L261.1,509.7 L261.6,510.6 L262.1,510.6 L262.6,509.6 L263.1,511.5 L263.6,510.8 L264.1,509.7 L264.6,509.3 L265.1,508.9 L265.6,511.0 L266.1,509.9 L266.6,510.9 L267.1,509.7 L267.6,509.3 L268.1,511.4 L268.6,510.8 L269.1,509.0 L269.6,510.7 L270.1,509.9 L270.6,509.3 L271.1,511.0 L271.6,509.4 L272.1,511.8 L272.6,510.8 L273.1,511.3 L273.6,510.8 L274.1,511.2 L274.6,511.7 L275.1,509.4 L275.6,511.3 L276.1,510.1 L276.6,510.1 L277.1,509.3 L277.4,513.3 Z M283.4,513.3 L283.4,509.3 L283.9,509.9 L284.4,511.3 L284.9,509.5 L285.4,511.5 L285.9,509.0 L286.4,510.9 L286.9,511.0 L287.4,511.2 L287.9,510.6 L288.4,509.4 L288.9,509.2 L289.4,509.6 L289.9,509.6 L290.4,511.1 L290.9,510.8 L291.4,510.9 L291.9,510.5 L292.4,509.2 L292.9,508.8 L293.4,511.5 L293.9,508.9 L294.4,509.0 L294.9,510.4 L295.4,509.7 L295.9,509.4 L296.4,511.2 L296.9,510.0 L297.4,508.9 L297.9,509.2 L298.4,509.1 L298.9,511.5 L299.4,509.7 L299.9,510.3 L300.4,509.1 L300.9,511.3 L301.4,510.2 L301.9,511.4 L302.4,509.4 L302.9,509.6 L303.4,511.7 L303.9,510.9 L304.4,511.4 L304.9,509.9 L305.4,508.9 L305.9,510.5 L306.4,510.7 L306.9,510.6 L307.4,509.6 L307.9,510.9 L308.4,511.1 L308.9,509.1 L309.4,510.6 L309.9,511.0 L310.4,511.5 L310.9,511.4 L311.4,509.9 L311.9,509.1 L312.4,508.3 L312.9,506.7 L313.4,500.6 L313.9,492.2 L314.0,498.5 L314.4,491.6 L314.5,481.3 L314.9,495.6 L315.4,499.6 L315.9,504.0 L316.4,508.7 L316.9,510.1 L317.4,511.1 L317.9,509.7 L318.4,509.7 L318.9,510.9 L319.4,509.8 L319.9,509.0 L320.4,509.2 L320.9,510.0 L321.4,511.6 L321.9,510.7 L322.4,510.5 L322.9,509.8 L323.4,511.1 L323.9,510.8 L324.4,511.1 L324.9,509.5 L325.4,511.3 L325.9,510.0 L326.4,509.6 L326.9,509.8 L327.4,511.5 L327.9,508.9 L328.4,509.3 L328.9,510.4 L329.4,509.2 L329.9,510.0 L330.4,511.3 L330.9,510.6 L331.4,509.3 L331.9,510.4 L332.4,511.7 L332.9,511.3 L333.4,511.2 L333.9,510.0 L334.4,509.9 L334.9,510.6 L335.4,510.8 L335.9,511.2 L336.4,509.5 L336.9,505.3 L337.4,493.4 L337.7,484.0 L337.9,493.2 L338.4,500.6 L338.9,507.1 L339.4,508.9 L339.9,511.0 L340.4,510.3 L340.9,511.5 L341.4,509.8 L341.9,509.4 L342.4,509.5 L342.9,509.1 L343.4,509.4 L343.9,510.6 L344.4,509.9 L344.9,511.6 L345.4,509.4 L345.9,509.7 L346.4,511.0 L346.9,510.4 L347.4,511.0 L347.9,509.4 L348.4,510.5 L348.9,509.5 L349.4,509.0 L349.9,509.5 L350.4,510.7 L350.9,510.8 L351.4,509.0 L351.9,509.1 L352.4,511.2 L352.9,510.7 L353.4,509.4 L353.9,509.5 L354.4,511.0 L354.9,510.5 L355.4,508.9 L355.9,511.5 L356.4,511.0 L356.9,509.8 L357.4,509.1 L357.9,509.0 L358.4,510.4 L358.9,509.4 L359.4,508.9 L359.9,510.8 L360.4,511.1 L360.9,511.0 L361.4,511.4 L361.9,509.0 L362.4,509.9 L362.9,508.9 L363.4,510.3 L363.9,509.5 L364.4,509.4 L364.9,508.9 L365.4,510.3 L365.9,511.1 L366.4,511.2 L366.9,509.6 L367.4,510.0 L367.9,509.6 L368.4,510.8 L368.9,509.7 L369.4,509.7 L369.9,509.0 L370.4,505.2 L370.9,496.9 L371.4,483.7 L371.8,465.3 L371.9,474.4 L372.4,487.8 L372.5,497.6 L372.9,501.6 L373.4,503.1 L373.9,496.3 L374.4,484.1 L374.5,477.3 L374.9,490.5 L375.4,501.1 L375.9,505.9 L376.4,510.5 L376.9,509.8 L377.4,509.9 L377.9,509.2 L378.4,511.4 L378.9,508.9 L379.4,510.6 L379.9,509.3 L380.4,509.3 L380.9,510.2 L381.4,511.0 L381.9,509.9 L382.4,510.6 L382.9,510.9 L383.4,511.8 L383.9,510.1 L384.4,511.3 L384.9,510.4 L385.4,510.2 L385.9,509.3 L386.4,510.2 L386.9,510.5 L387.4,509.9 L387.9,511.4 L388.4,509.2 L388.9,510.2 L389.4,511.7 L389.9,510.4 L390.4,509.0 L390.9,508.9 L391.4,510.5 L391.9,511.0 L392.4,509.0 L392.9,510.9 L393.4,511.7 L393.9,511.1 L394.4,510.4 L394.9,509.8 L395.4,511.6 L395.9,510.8 L396.4,509.6 L396.9,510.8 L397.4,511.3 L397.9,509.7 L398.4,510.5 L398.9,509.7 L399.4,510.3 L399.9,509.4 L400.4,510.3 L400.9,508.9 L401.4,509.4 L401.9,509.6 L402.4,510.3 L402.9,510.0 L403.4,510.7 L403.9,511.6 L404.4,509.1 L404.9,509.4 L405.4,509.5 L405.9,509.2 L406.4,510.1 L406.9,508.8 L407.4,510.4 L407.9,508.9 L408.4,511.6 L408.9,510.7 L409.4,510.1 L409.9,509.3 L410.4,510.2 L410.9,509.4 L411.4,510.7 L411.9,509.4 L412.4,511.7 L412.9,511.8 L413.4,509.9 L413.9,508.4 L414.4,499.4 L414.9,496.0 L415.0,489.3 L415.4,496.4 L415.9,506.7 L416.4,509.1 L416.9,508.8 L417.4,509.5 L417.9,508.8 L418.4,510.7 L418.9,510.1 L419.4,508.3 L419.9,505.7 L420.3,501.3 L420.4,504.9 L420.9,508.7 L421.4,510.2 L421.9,509.2 L422.4,509.9 L422.9,509.6 L423.4,509.7 L423.9,508.0 L424.4,507.6 L424.9,505.0 L425.0,502.3 L425.4,497.1 L425.7,486.7 L425.9,493.6 L426.4,502.0 L426.9,507.5 L427.4,509.9 L427.9,511.0 L428.4,509.9 L428.9,509.2 L429.4,511.1 L429.9,510.7 L430.4,509.0 L430.9,509.4 L431.4,511.4 L431.9,509.8 L432.4,511.6 L432.9,508.8 L433.4,511.7 L433.9,511.5 L434.4,510.2 L434.9,509.0 L435.4,511.2 L435.9,510.5 L436.4,509.0 L436.9,508.9 L437.4,509.3 L437.9,510.2 L438.4,507.7 L438.9,505.5 L439.0,501.3 L439.4,507.5 L439.9,508.9 L440.4,509.6 L440.9,509.2 L441.4,511.7 L441.9,509.2 L442.4,509.3 L442.9,510.7 L443.4,511.1 L443.9,510.3 L444.4,508.9 L444.9,510.0 L445.4,509.5 L445.9,510.7 L446.4,510.6 L446.9,509.2 L447.4,508.8 L447.9,506.4 L448.3,498.7 L448.4,499.8 L448.9,508.2 L449.4,509.1 L449.9,509.8 L450.4,511.8 L450.9,509.5 L451.4,509.7 L451.9,511.5 L452.4,510.2 L452.9,511.5 L453.4,510.8 L453.9,511.7 L454.4,510.3 L454.9,510.4 L455.4,510.9 L455.9,511.1 L456.4,511.6 L456.9,511.7 L457.4,511.4 L457.9,508.9 L458.4,511.7 L458.9,509.7 L459.4,510.4 L459.9,510.0 L460.4,510.9 L460.9,508.9 L461.4,509.4 L461.9,510.6 L462.4,510.5 L462.9,509.0 L463.4,511.3 L463.9,509.2 L464.4,509.9 L464.9,510.1 L465.4,510.2 L465.9,510.0 L466.4,511.5 L466.9,511.1 L467.4,510.7 L467.9,511.1 L468.4,511.5 L468.9,509.7 L469.4,510.5 L469.7,513.3 Z" fill="#1818e6"/>
<path d="M135.5,580.3 L135.5,574.5 L136.0,577.6 L136.5,574.7 L137.0,572.4 L137.5,570.2 L138.0,566.2 L138.4,560.0 L138.5,563.6 L139.0,566.6 L139.5,570.6 L140.0,574.7 L140.5,575.3 L141.0,576.6 L141.5,576.8 L142.0,576.1 L142.5,577.9 L143.0,576.7 L143.5,576.7 L144.0,576.1 L144.5,577.5 L145.0,575.1 L145.5,575.5 L146.0,575.0 L146.5,574.9 L147.0,576.0 L147.5,576.4 L148.0,576.9 L148.5,575.9 L149.0,576.3 L149.5,577.6 L150.0,578.1 L150.5,577.4 L151.0,577.6 L151.5,576.4 L152.0,575.4 L152.5,575.6 L153.0,573.5 L153.3,569.7 L153.5,573.7 L154.0,576.8 L154.5,575.6 L155.0,575.7 L155.5,578.1 L156.0,578.3 L156.5,577.4 L156.6,580.3 Z M158.2,580.3 L158.2,574.8 L158.7,576.8 L159.2,575.1 L159.7,576.9 L160.2,577.5 L160.7,574.9 L161.2,575.0 L161.7,574.8 L162.2,577.5 L162.7,576.3 L163.2,576.1 L163.7,575.2 L164.2,575.1 L164.7,573.1 L165.2,571.4 L165.7,562.8 L166.1,557.7 L166.2,559.1 L166.6,568.0 L166.7,569.8 L167.2,570.9 L167.7,574.3 L168.0,574.0 L168.2,576.2 L168.7,576.5 L169.2,575.0 L169.7,576.1 L170.2,574.6 L170.7,575.5 L171.2,576.9 L171.7,576.5 L172.2,575.8 L172.7,577.1 L173.2,576.1 L173.7,575.0 L174.2,576.2 L174.7,576.1 L175.2,576.0 L175.7,577.5 L176.2,575.6 L176.7,577.3 L177.2,576.3 L177.7,578.0 L178.2,576.0 L178.7,578.0 L179.2,576.5 L179.7,575.1 L180.0,570.0 L180.2,572.9 L180.7,576.2 L181.2,576.7 L181.7,577.2 L182.2,575.0 L182.7,575.3 L183.2,576.8 L183.7,577.1 L184.2,574.7 L184.7,575.6 L185.2,574.1 L185.7,572.7 L186.2,572.9 L186.7,565.7 L187.0,570.0 L187.2,569.7 L187.5,569.0 L187.7,570.2 L188.2,572.7 L188.7,568.8 L188.8,563.0 L189.2,571.6 L189.7,572.0 L190.2,574.7 L190.7,576.3 L191.2,575.8 L191.7,576.3 L192.2,575.0 L192.7,576.3 L193.2,574.4 L193.7,574.7 L194.2,573.2 L194.4,571.0 L194.7,575.6 L195.2,577.5 L195.7,576.2 L196.2,574.9 L196.7,574.8 L197.2,575.4 L197.7,575.1 L198.2,577.2 L198.7,575.8 L199.2,576.2 L199.7,575.7 L200.2,576.3 L200.7,577.4 L201.2,574.4 L201.7,577.0 L202.2,577.9 L202.7,577.0 L203.2,575.7 L203.7,576.4 L204.2,575.8 L204.7,576.3 L205.2,576.2 L205.7,576.1 L206.2,571.7 L206.7,565.1 L207.2,570.2 L207.7,575.0 L208.2,575.0 L208.7,574.7 L209.2,575.1 L209.7,574.2 L210.2,574.2 L210.7,573.1 L211.2,572.4 L211.7,571.1 L212.2,572.8 L212.7,568.4 L213.2,571.4 L213.7,569.8 L214.0,566.0 L214.2,563.0 L214.7,551.8 L215.2,562.4 L215.7,570.6 L216.0,565.0 L216.2,570.1 L216.7,571.2 L217.2,565.6 L217.3,557.1 L217.7,564.5 L218.2,571.4 L218.7,572.0 L219.2,574.1 L219.7,574.5 L220.2,575.9 L220.7,575.4 L221.2,577.0 L221.7,577.0 L222.2,575.2 L222.7,573.8 L223.2,573.2 L223.7,574.6 L224.2,570.6 L224.7,569.0 L225.2,563.3 L225.3,556.3 L225.7,566.6 L226.0,566.0 L226.2,567.1 L226.7,569.5 L227.2,569.3 L227.7,569.6 L228.0,566.0 L228.2,566.9 L228.7,571.3 L229.2,570.9 L229.7,571.7 L230.2,570.6 L230.7,562.5 L231.2,570.7 L231.7,573.5 L232.2,575.9 L232.7,574.8 L233.2,575.8 L233.7,577.6 L234.2,576.1 L234.7,574.8 L235.2,576.9 L235.7,574.6 L236.0,572.3 L236.2,576.1 L236.7,574.4 L237.2,574.8 L237.7,576.8 L238.2,577.5 L238.7,575.9 L239.2,574.9 L239.7,575.3 L240.2,578.3 L240.7,575.6 L241.2,578.3 L241.7,575.8 L242.2,574.6 L242.7,578.2 L243.2,577.6 L243.7,576.6 L244.2,578.0 L244.7,577.1 L245.2,575.1 L245.7,574.8 L246.2,576.1 L246.7,575.0 L247.2,574.8 L247.7,575.9 L248.2,575.0 L248.7,574.8 L249.2,574.6 L249.7,574.6 L250.0,574.0 L250.2,575.3 L250.7,574.9 L251.2,575.8 L251.7,574.9 L252.2,575.4 L252.7,576.0 L253.2,574.6 L253.7,576.8 L254.2,575.2 L254.7,576.6 L255.2,576.7 L255.7,577.9 L256.2,577.3 L256.7,575.5 L257.2,576.6 L257.7,576.5 L258.2,576.5 L258.7,576.0 L259.2,577.0 L259.7,574.9 L260.2,575.8 L260.7,578.3 L261.2,574.3 L261.7,575.5 L262.2,577.5 L262.7,576.6 L263.2,577.5 L263.7,576.1 L264.0,580.3 Z M265.8,580.3 L265.8,576.5 L266.3,575.8 L266.8,577.0 L267.3,577.1 L267.8,575.5 L268.3,578.2 L268.8,576.3 L269.3,577.6 L269.8,577.5 L270.3,575.7 L270.8,575.9 L271.3,576.1 L271.8,576.9 L272.3,578.3 L272.8,574.9 L273.3,574.7 L273.8,575.2 L274.3,576.8 L274.8,576.1 L275.3,578.2 L275.8,578.2 L276.3,575.4 L276.8,575.7 L277.3,575.6 L277.8,575.5 L277.9,580.3 Z M284.3,580.3 L284.3,576.7 L284.8,576.4 L285.3,579.0 L285.8,577.6 L286.3,577.3 L286.8,574.9 L287.0,573.0 L287.3,576.0 L287.8,578.0 L288.3,579.0 L288.8,576.8 L289.3,578.4 L289.8,578.6 L290.3,576.8 L290.8,577.8 L291.3,577.2 L291.8,576.6 L292.3,576.8 L292.8,578.0 L293.3,576.6 L293.8,578.6 L294.3,576.8 L294.8,578.9 L295.3,578.2 L295.8,578.8 L296.3,577.5 L296.8,578.8 L297.3,577.4 L297.8,578.6 L298.3,577.2 L298.8,577.7 L299.3,578.2 L299.8,578.7 L300.3,577.0 L300.8,578.6 L301.3,578.2 L301.8,576.5 L302.3,576.6 L302.8,577.1 L303.3,577.3 L303.8,576.8 L304.3,577.0 L304.8,577.0 L305.3,577.5 L305.8,578.7 L306.3,578.9 L306.8,576.7 L307.3,576.4 L307.8,578.3 L308.3,577.7 L308.8,578.7 L309.3,577.9 L309.8,578.9 L310.3,578.8 L310.8,578.4 L311.3,576.8 L311.8,577.8 L312.3,577.9 L312.8,576.8 L313.3,575.7 L313.8,570.4 L314.3,566.9 L314.5,565.1 L314.8,567.8 L315.0,568.8 L315.3,572.2 L315.8,575.2 L316.3,575.8 L316.8,572.3 L317.0,570.0 L317.3,571.6 L317.8,574.2 L318.3,576.7 L318.8,576.5 L319.3,577.2 L319.8,577.9 L320.3,577.9 L320.8,577.0 L321.3,579.0 L321.8,577.0 L322.3,578.7 L322.8,578.2 L323.3,578.6 L323.8,576.6 L324.3,576.9 L324.8,577.5 L325.3,576.9 L325.8,577.8 L326.3,577.9 L326.8,579.0 L327.3,578.5 L327.8,578.3 L328.3,577.4 L328.8,578.0 L329.3,577.8 L329.8,578.7 L330.3,576.8 L330.8,578.2 L331.3,577.6 L331.8,578.0 L332.3,577.9 L332.8,577.3 L333.3,578.9 L333.8,578.1 L334.3,578.6 L334.8,577.2 L335.3,575.7 L335.8,572.7 L336.3,573.2 L336.8,570.1 L336.9,564.3 L337.0,568.0 L337.3,571.4 L337.8,574.3 L338.3,575.2 L338.8,577.1 L339.3,577.2 L339.8,577.5 L340.3,576.3 L340.8,577.6 L341.3,578.9 L341.8,577.0 L342.3,577.7 L342.8,577.9 L343.3,578.8 L343.8,577.4 L344.3,578.9 L344.8,578.7 L345.3,577.3 L345.8,578.0 L346.3,576.4 L346.8,577.9 L347.3,576.4 L347.8,576.4 L348.3,577.9 L348.8,576.7 L349.3,578.4 L349.8,576.7 L350.3,578.6 L350.8,578.2 L351.3,577.6 L351.8,577.0 L352.3,577.8 L352.8,578.8 L353.3,579.0 L353.8,578.7 L354.3,578.3 L354.8,577.3 L355.3,578.6 L355.8,576.6 L356.3,577.3 L356.8,578.2 L357.3,577.5 L357.8,576.7 L358.3,578.4 L358.8,577.3 L359.3,577.2 L359.8,576.7 L360.3,577.4 L360.8,576.9 L361.3,576.8 L361.8,576.5 L362.3,576.7 L362.8,578.7 L363.3,578.0 L363.8,576.9 L364.3,576.9 L364.8,578.0 L365.3,578.3 L365.8,578.5 L366.3,578.9 L366.8,576.9 L367.3,578.5 L367.8,578.4 L368.3,576.6 L368.8,576.6 L369.3,577.6 L369.8,576.3 L370.3,575.1 L370.8,571.5 L371.3,561.7 L371.8,552.3 L372.0,557.5 L372.3,566.4 L372.8,569.7 L373.3,573.1 L373.8,571.7 L374.3,569.6 L374.5,565.0 L374.8,568.1 L375.3,572.6 L375.8,574.6 L376.3,576.8 L376.8,576.6 L377.3,576.9 L377.8,578.7 L378.3,578.9 L378.8,578.4 L379.3,576.7 L379.8,576.8 L380.3,577.2 L380.8,579.0 L381.3,579.1 L381.8,578.7 L382.3,577.3 L382.8,577.7 L383.3,578.5 L383.8,578.3 L384.3,577.2 L384.8,577.5 L385.3,578.9 L385.8,578.0 L386.3,576.9 L386.8,577.9 L387.3,578.0 L387.8,576.9 L388.3,577.0 L388.8,579.0 L389.3,576.8 L389.8,576.7 L390.3,578.3 L390.8,577.2 L391.3,577.8 L391.8,578.9 L392.3,577.1 L392.8,577.3 L393.3,576.8 L393.8,577.7 L394.3,576.4 L394.5,574.2 L394.8,576.9 L395.3,576.5 L395.8,577.2 L396.3,578.3 L396.8,577.5 L397.3,577.6 L397.8,577.4 L398.3,578.5 L398.8,576.5 L399.3,576.7 L399.8,578.6 L400.3,576.7 L400.8,577.1 L401.3,579.0 L401.8,576.9 L402.3,576.8 L402.8,578.3 L403.3,578.5 L403.8,577.7 L404.3,579.0 L404.8,578.7 L405.3,577.1 L405.8,578.0 L406.3,578.0 L406.8,576.6 L407.3,576.9 L407.8,578.3 L408.3,579.0 L408.8,579.0 L409.3,577.2 L409.8,577.6 L410.3,576.3 L410.8,577.6 L411.3,577.4 L411.8,577.7 L412.3,577.1 L412.8,578.0 L413.3,577.5 L413.8,579.0 L414.3,577.5 L414.8,577.2 L415.3,575.4 L415.8,574.5 L416.3,569.7 L416.8,572.4 L417.3,575.1 L417.8,577.4 L418.3,575.9 L418.8,574.6 L419.0,572.0 L419.3,575.2 L419.8,575.7 L420.3,576.9 L420.8,576.7 L421.3,576.6 L421.8,577.8 L422.3,576.2 L422.8,576.3 L423.3,574.8 L423.8,573.7 L424.3,567.5 L424.8,563.1 L425.0,564.1 L425.1,557.7 L425.3,565.8 L425.8,566.5 L426.3,574.0 L426.8,575.3 L427.3,576.0 L427.8,576.4 L428.3,576.6 L428.8,576.7 L429.3,576.5 L429.8,576.5 L430.3,577.6 L430.8,578.5 L431.3,577.7 L431.8,578.5 L432.3,577.2 L432.8,578.8 L433.3,578.3 L433.8,578.6 L434.3,576.5 L434.8,578.4 L435.3,578.6 L435.8,576.6 L436.3,577.3 L436.8,576.7 L437.3,576.2 L437.8,573.7 L438.0,572.2 L438.3,569.9 L438.5,568.3 L438.8,571.6 L439.3,573.8 L439.8,576.2 L440.3,577.1 L440.8,578.3 L441.3,576.4 L441.8,578.0 L442.3,578.7 L442.8,577.5 L443.3,579.0 L443.8,577.8 L444.3,578.2 L444.8,578.2 L445.3,576.7 L445.8,576.6 L446.3,577.1 L446.8,578.8 L447.3,577.1 L447.8,575.9 L448.3,569.7 L448.8,576.0 L449.3,577.5 L449.8,576.6 L450.3,576.5 L450.8,577.0 L451.3,576.6 L451.8,577.3 L452.3,577.1 L452.8,577.5 L453.3,578.4 L453.8,579.0 L454.3,576.5 L454.8,578.8 L455.3,577.9 L455.8,578.6 L456.3,578.5 L456.8,578.6 L457.3,577.6 L457.8,578.8 L458.3,576.7 L458.8,577.4 L459.3,578.7 L459.8,578.5 L460.3,577.0 L460.8,576.4 L461.3,578.0 L461.8,579.0 L462.3,578.4 L462.8,577.5 L463.3,578.1 L463.8,577.1 L464.3,578.9 L464.8,576.3 L465.3,578.9 L465.8,577.3 L466.3,577.7 L466.8,576.7 L467.3,577.9 L467.8,578.1 L468.3,578.1 L468.8,576.5 L469.3,577.2 L469.8,578.1 L470.2,580.3 Z" fill="#1818e6"/>
<ellipse cx="137.9" cy="592.3" rx="1.8" ry="2.8" fill="#111"/>
<ellipse cx="184.2" cy="592.3" rx="1.6" ry="2.8" fill="#111"/>
<rect x="191.6" y="589.0" width="1.1" height="6.5" fill="#111"/>
<line x1="198.0" y1="592.3" x2="214.5" y2="592.3" stroke="#222" stroke-width="0.90" />
<rect x="198.0" y="589.0" width="1.1" height="6.5" fill="#111"/>
<rect x="199.6" y="589.0" width="1.1" height="6.5" fill="#111"/>
<rect x="201.2" y="589.0" width="1.1" height="6.5" fill="#111"/>
<rect x="203.0" y="589.0" width="1.1" height="6.5" fill="#111"/>
<rect x="205.5" y="589.0" width="1.1" height="6.5" fill="#111"/>
<rect x="208.0" y="589.0" width="1.1" height="6.5" fill="#111"/>
<rect x="210.5" y="589.0" width="1.1" height="6.5" fill="#111"/>
<rect x="213.2" y="589.0" width="1.1" height="6.5" fill="#111"/>
<line x1="241.3" y1="592.3" x2="261.5" y2="592.3" stroke="#222" stroke-width="0.90" />
<rect x="241.3" y="589.0" width="1.1" height="6.5" fill="#111"/>
<rect x="243.0" y="589.0" width="1.1" height="6.5" fill="#111"/>
<rect x="247.5" y="589.0" width="1.1" height="6.5" fill="#111"/>
<rect x="249.3" y="589.0" width="1.1" height="6.5" fill="#111"/>
<rect x="251.2" y="589.0" width="1.1" height="6.5" fill="#111"/>
<rect x="253.0" y="589.0" width="1.1" height="6.5" fill="#111"/>
<rect x="255.5" y="589.5" width="1.1" height="5.5" fill="#111"/>
<rect x="258.5" y="589.5" width="1.1" height="5.5" fill="#111"/>
<rect x="260.5" y="589.5" width="1.1" height="5.5" fill="#111"/>
<rect x="271.8" y="589.0" width="1.1" height="6.5" fill="#111"/>
<rect x="273.6" y="589.0" width="1.1" height="6.5" fill="#111"/>
<line x1="300.3" y1="592.3" x2="315.5" y2="592.3" stroke="#222" stroke-width="0.90" stroke-dasharray="1.4,1.1"/>
<ellipse cx="301.2" cy="592.3" rx="1.6" ry="2.8" fill="#111"/>
<ellipse cx="314.6" cy="592.3" rx="1.6" ry="2.8" fill="#111"/>
<rect x="308.0" y="590.3" width="1.0" height="4.0" fill="#111"/>
<line x1="337.0" y1="592.3" x2="357.7" y2="592.3" stroke="#222" stroke-width="0.90" stroke-dasharray="1.4,1.1"/>
<rect x="337.0" y="590.8" width="0.9" height="3.0" fill="#111"/>
<rect x="357.2" y="590.8" width="0.9" height="3.0" fill="#111"/>
<line x1="413.7" y1="592.3" x2="438.2" y2="592.3" stroke="#222" stroke-width="0.90" />
<rect x="413.7" y="589.0" width="1.1" height="6.5" fill="#111"/>
<rect x="415.5" y="589.0" width="1.1" height="6.5" fill="#111"/>
<rect x="417.3" y="589.0" width="1.1" height="6.5" fill="#111"/>
<rect x="419.1" y="589.0" width="1.1" height="6.5" fill="#111"/>
<rect x="421.0" y="589.0" width="1.1" height="6.5" fill="#111"/>
<rect x="422.8" y="589.0" width="1.1" height="6.5" fill="#111"/>
<rect x="424.6" y="589.0" width="1.1" height="6.5" fill="#111"/>
<rect x="426.8" y="589.0" width="1.1" height="6.5" fill="#111"/>
<rect x="430.0" y="589.0" width="1.1" height="6.5" fill="#111"/>
<rect x="437.6" y="589.0" width="1.1" height="6.5" fill="#111"/>
<line x1="448.9" y1="592.3" x2="463.0" y2="592.3" stroke="#222" stroke-width="0.90" />
<rect x="448.9" y="589.0" width="1.1" height="6.5" fill="#111"/>
<rect x="450.9" y="589.0" width="1.1" height="6.5" fill="#111"/>
<rect x="454.5" y="589.0" width="1.1" height="6.5" fill="#111"/>
<rect x="456.5" y="589.0" width="1.1" height="6.5" fill="#111"/>
<rect x="458.5" y="589.0" width="1.1" height="6.5" fill="#111"/>
<rect x="460.5" y="589.0" width="1.1" height="6.5" fill="#111"/>
<rect x="462.2" y="589.0" width="1.1" height="6.5" fill="#111"/>
<text x="205.5" y="612.3" font-size="12.40" fill="#111" text-anchor="middle" font-weight="normal" font-style="italic" >Cd22</text>
<text x="582.2" y="442.2" font-size="14.20" fill="#111" text-anchor="middle" font-weight="bold" font-style="normal" >Brg1</text>
<rect x="536.3" y="448.7" width="92.2" height="157.5" fill="none" stroke="#777" stroke-width="1"/>
<text x="582.6" y="463.7" font-size="12.00" fill="#333" text-anchor="middle" font-weight="normal" font-style="normal" >FC = 1.3</text>
<path d="M563.9,472.2 L563.9,469.8 L601.4,469.8 L601.4,472.2" fill="none" stroke="#b0b0b0" stroke-width="1.4"/>
<line x1="532.0" y1="486.0" x2="536.3" y2="486.0" stroke="#666" stroke-width="1.00" />
<text x="529.5" y="489.2" font-size="9.00" fill="#222" text-anchor="end" font-weight="normal" font-style="normal" >6</text>
<line x1="532.0" y1="511.6" x2="536.3" y2="511.6" stroke="#666" stroke-width="1.00" />
<text x="529.5" y="514.8" font-size="9.00" fill="#222" text-anchor="end" font-weight="normal" font-style="normal" >4</text>
<line x1="532.0" y1="537.4" x2="536.3" y2="537.4" stroke="#666" stroke-width="1.00" />
<text x="529.5" y="540.6" font-size="9.00" fill="#222" text-anchor="end" font-weight="normal" font-style="normal" >2</text>
<line x1="532.0" y1="563.0" x2="536.3" y2="563.0" stroke="#666" stroke-width="1.00" />
<text x="529.5" y="566.2" font-size="9.00" fill="#222" text-anchor="end" font-weight="normal" font-style="normal" >0</text>
<line x1="532.0" y1="588.6" x2="536.3" y2="588.6" stroke="#666" stroke-width="1.00" />
<text x="529.5" y="591.8" font-size="9.00" fill="#222" text-anchor="end" font-weight="normal" font-style="normal" >-2</text>
<text x="0" y="0" font-size="13.70" fill="#111" text-anchor="middle" font-weight="normal" transform="translate(510.7,531.7) rotate(-90)">rpkm (log2)</text>
<line x1="564.3" y1="475.5" x2="564.3" y2="522.1" stroke="#333" stroke-width="1.20" />
<line x1="564.3" y1="567.2" x2="564.3" y2="580.7" stroke="#333" stroke-width="1.20" />
<rect x="554.0" y="522.1" width="20.2" height="45.1" fill="#999" stroke="#333" stroke-width="1"/>
<line x1="554.5" y1="547.0" x2="573.7" y2="547.0" stroke="#333" stroke-width="2.80" />
<line x1="600.5" y1="478.5" x2="600.5" y2="525.5" stroke="#333" stroke-width="1.20" />
<line x1="600.5" y1="564.9" x2="600.5" y2="584.4" stroke="#333" stroke-width="1.20" />
<rect x="590.4" y="525.5" width="20.2" height="39.4" fill="#999" stroke="#333" stroke-width="1"/>
<line x1="590.9" y1="546.4" x2="610.1" y2="546.4" stroke="#333" stroke-width="2.80" />
<text x="526.7" y="623.2" font-size="13.30" fill="#111" text-anchor="middle" font-weight="normal" font-style="normal" >hours</text>
<text x="564.7" y="623.2" font-size="13.30" fill="#111" text-anchor="middle" font-weight="normal" font-style="normal" >0</text>
<text x="600.0" y="623.2" font-size="13.30" fill="#111" text-anchor="middle" font-weight="normal" font-style="normal" >24</text>
</svg></body></html>
